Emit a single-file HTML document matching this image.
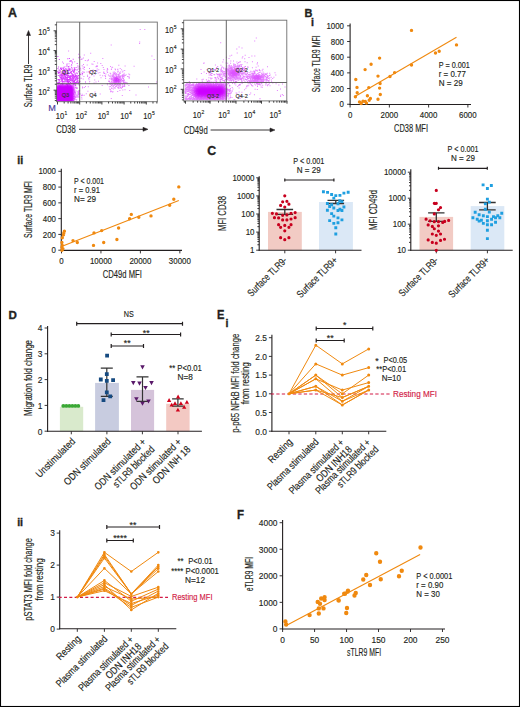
<!DOCTYPE html>
<html><head><meta charset="utf-8"><style>
html,body{margin:0;padding:0;background:#fff;}
svg{display:block;}
text{font-family:"Liberation Sans",sans-serif;}
</style></head><body>
<svg width="520" height="707" viewBox="0 0 520 707">
<rect x="0" y="0" width="520" height="707" fill="#fff"/>
<g fill="#231f20" font-family="Liberation Sans, sans-serif">
<text x="7.9" y="17.17" font-size="12.43" stroke="#231f20" stroke-width="0.35" font-weight="bold">A</text>
<text x="304.5" y="17.06" font-size="11.55" textLength="7.9" lengthAdjust="spacingAndGlyphs" stroke="#231f20" stroke-width="0.35" font-weight="bold">B</text>
<text x="310.9" y="26.1" font-size="10.56" stroke="#231f20" stroke-width="0.35" font-weight="bold">i</text>
<text x="17.3" y="163.8" font-size="10.56" stroke="#231f20" stroke-width="0.35" font-weight="bold">ii</text>
<text x="207.3" y="154.94" font-size="12.32" stroke="#231f20" stroke-width="0.35" font-weight="bold">C</text>
<text x="8.5" y="319.46" font-size="11.55" stroke="#231f20" stroke-width="0.35" font-weight="bold">D</text>
<text x="217" y="318.88" font-size="11.88" textLength="7.4" lengthAdjust="spacingAndGlyphs" stroke="#231f20" stroke-width="0.35" font-weight="bold">E</text>
<text x="225.6" y="327" font-size="10.56" stroke="#231f20" stroke-width="0.35" font-weight="bold">i</text>
<text x="17.2" y="526.2" font-size="10.56" stroke="#231f20" stroke-width="0.35" font-weight="bold">ii</text>
<text x="237.1" y="518.58" font-size="11.88" textLength="7" lengthAdjust="spacingAndGlyphs" stroke="#231f20" stroke-width="0.35" font-weight="bold">F</text>
<defs><filter id="bl2" x="-50%" y="-50%" width="200%" height="200%"><feGaussianBlur stdDeviation="2"/></filter><filter id="bl1" x="-50%" y="-50%" width="200%" height="200%"><feGaussianBlur stdDeviation="1.2"/></filter><clipPath id="cp1"><rect x="57" y="22.5" width="100" height="79"/></clipPath><clipPath id="cp2"><rect x="184.2" y="20.7" width="102.3" height="79.8"/></clipPath></defs>
<g clip-path="url(#cp1)">
<rect x="55" y="84.5" width="19" height="19" rx="4" fill="#cc00ff" filter="url(#bl1)"/>
<ellipse cx="116.8" cy="80" rx="3.2" ry="3" fill="#cc00ff" opacity="0.6" filter="url(#bl1)"/>
<path d="M68.0 91.4h1v1h-1zM70.1 84.7h1v1h-1zM66.1 87.6h1v1h-1zM61.8 100.6h1v1h-1zM64.8 97.5h1v1h-1zM61.1 90.8h1v1h-1zM68.4 88.2h1v1h-1zM77.4 82.6h1v1h-1zM64.6 90.8h1v1h-1zM63.7 92.8h1v1h-1zM71.4 92.5h1v1h-1zM70.5 92.5h1v1h-1zM68.7 86.8h1v1h-1zM61.5 92.6h1v1h-1zM67.8 92.8h1v1h-1zM72.9 100.1h1v1h-1zM64.8 92.2h1v1h-1zM59.0 92.6h1v1h-1zM66.4 88.9h1v1h-1zM59.1 92.7h1v1h-1zM69.9 87.3h1v1h-1zM69.1 96.3h1v1h-1zM66.7 92.4h1v1h-1zM64.2 92.0h1v1h-1zM67.7 89.0h1v1h-1zM68.8 87.8h1v1h-1zM57.3 91.7h1v1h-1zM64.7 90.0h1v1h-1zM61.2 94.3h1v1h-1zM62.3 93.0h1v1h-1zM75.4 85.5h1v1h-1zM62.3 93.4h1v1h-1zM67.8 85.6h1v1h-1zM74.2 89.6h1v1h-1zM63.9 91.4h1v1h-1zM67.2 81.6h1v1h-1zM68.8 93.5h1v1h-1zM68.4 93.8h1v1h-1zM59.4 92.1h1v1h-1zM68.5 90.7h1v1h-1zM77.5 90.9h1v1h-1zM57.2 87.6h1v1h-1zM74.0 91.5h1v1h-1zM68.8 90.0h1v1h-1zM63.5 93.5h1v1h-1zM82.0 86.4h1v1h-1zM73.3 94.3h1v1h-1zM59.6 93.8h1v1h-1zM68.5 92.2h1v1h-1zM72.0 90.6h1v1h-1zM66.7 96.0h1v1h-1zM72.8 83.8h1v1h-1zM67.5 95.5h1v1h-1zM72.7 94.3h1v1h-1zM78.1 94.6h1v1h-1zM63.3 95.1h1v1h-1zM69.4 89.4h1v1h-1zM64.8 91.6h1v1h-1zM68.9 96.5h1v1h-1zM59.7 95.4h1v1h-1zM63.9 94.1h1v1h-1zM66.6 84.7h1v1h-1zM74.3 96.0h1v1h-1zM76.0 99.4h1v1h-1zM58.7 98.6h1v1h-1zM62.4 94.3h1v1h-1zM72.5 84.4h1v1h-1zM64.8 92.2h1v1h-1zM67.3 79.1h1v1h-1zM76.8 95.1h1v1h-1zM72.8 84.8h1v1h-1zM65.7 85.9h1v1h-1zM65.4 89.5h1v1h-1zM66.2 100.0h1v1h-1zM78.7 91.0h1v1h-1zM65.0 94.5h1v1h-1zM67.2 92.4h1v1h-1zM66.6 91.7h1v1h-1zM60.2 86.1h1v1h-1zM67.9 89.2h1v1h-1zM64.9 95.3h1v1h-1zM76.2 95.2h1v1h-1zM72.6 93.6h1v1h-1zM67.8 98.5h1v1h-1zM72.7 88.8h1v1h-1zM65.6 92.7h1v1h-1zM75.4 97.0h1v1h-1zM68.0 96.2h1v1h-1zM72.1 98.9h1v1h-1zM59.0 95.2h1v1h-1zM70.4 91.3h1v1h-1zM65.9 84.0h1v1h-1zM61.7 96.2h1v1h-1zM69.1 92.7h1v1h-1zM83.7 94.7h1v1h-1zM62.2 83.7h1v1h-1zM63.6 91.0h1v1h-1zM69.4 89.7h1v1h-1zM71.5 88.2h1v1h-1zM66.8 80.6h1v1h-1zM66.6 91.2h1v1h-1zM72.9 97.9h1v1h-1zM71.6 95.1h1v1h-1zM60.8 89.7h1v1h-1zM67.4 92.9h1v1h-1zM68.2 97.2h1v1h-1zM60.6 77.8h1v1h-1zM69.8 92.3h1v1h-1zM62.0 96.0h1v1h-1zM74.8 96.8h1v1h-1zM68.6 99.2h1v1h-1zM63.9 94.7h1v1h-1zM67.2 94.7h1v1h-1zM60.1 90.0h1v1h-1zM70.5 92.8h1v1h-1zM73.3 92.7h1v1h-1zM62.1 94.1h1v1h-1zM73.5 100.4h1v1h-1zM68.9 92.8h1v1h-1zM76.7 87.7h1v1h-1zM78.1 92.0h1v1h-1zM67.5 91.9h1v1h-1zM66.1 97.3h1v1h-1zM66.9 98.7h1v1h-1zM61.2 84.7h1v1h-1zM75.7 88.0h1v1h-1zM64.2 94.9h1v1h-1zM67.6 89.4h1v1h-1zM62.4 84.6h1v1h-1zM63.6 98.7h1v1h-1zM59.1 95.7h1v1h-1zM76.8 95.7h1v1h-1zM66.9 90.4h1v1h-1zM74.8 98.7h1v1h-1zM68.1 91.7h1v1h-1zM63.1 99.0h1v1h-1zM65.7 88.0h1v1h-1zM64.1 88.3h1v1h-1zM68.1 94.1h1v1h-1zM65.4 89.1h1v1h-1zM65.9 96.7h1v1h-1zM58.3 94.4h1v1h-1zM62.4 87.9h1v1h-1zM79.6 93.4h1v1h-1zM63.3 91.1h1v1h-1zM60.6 98.0h1v1h-1zM70.4 89.5h1v1h-1zM77.9 90.6h1v1h-1zM57.8 99.7h1v1h-1zM73.1 94.2h1v1h-1zM68.5 92.3h1v1h-1zM62.7 87.6h1v1h-1zM71.2 93.6h1v1h-1zM64.2 95.5h1v1h-1zM67.0 88.4h1v1h-1zM60.2 83.9h1v1h-1zM59.5 85.1h1v1h-1zM77.3 96.7h1v1h-1zM64.5 88.8h1v1h-1zM70.0 92.2h1v1h-1zM67.8 94.2h1v1h-1zM64.9 96.4h1v1h-1zM64.4 91.2h1v1h-1zM72.4 95.7h1v1h-1zM65.9 88.1h1v1h-1zM66.9 91.0h1v1h-1zM68.2 87.4h1v1h-1zM76.2 99.2h1v1h-1zM72.8 92.9h1v1h-1zM70.7 88.9h1v1h-1zM64.1 91.1h1v1h-1zM58.3 91.8h1v1h-1zM74.6 96.9h1v1h-1zM74.8 84.2h1v1h-1zM67.0 87.3h1v1h-1zM71.8 90.9h1v1h-1zM73.8 98.3h1v1h-1zM74.4 92.4h1v1h-1zM64.8 96.9h1v1h-1zM59.3 91.7h1v1h-1zM74.0 91.0h1v1h-1zM71.5 99.7h1v1h-1zM74.1 95.7h1v1h-1zM81.2 96.7h1v1h-1zM78.4 90.2h1v1h-1zM73.7 96.1h1v1h-1zM60.9 96.8h1v1h-1zM67.9 81.9h1v1h-1zM73.9 96.5h1v1h-1zM69.8 96.8h1v1h-1zM68.3 91.1h1v1h-1zM66.3 83.7h1v1h-1zM68.3 95.0h1v1h-1zM62.0 88.9h1v1h-1zM57.4 91.2h1v1h-1zM66.8 89.7h1v1h-1zM61.2 91.1h1v1h-1zM71.5 99.7h1v1h-1zM67.6 94.4h1v1h-1zM70.8 99.1h1v1h-1zM63.4 93.1h1v1h-1zM61.0 83.1h1v1h-1zM61.8 88.1h1v1h-1zM69.4 86.4h1v1h-1zM62.5 90.2h1v1h-1zM70.5 93.4h1v1h-1zM70.4 82.0h1v1h-1zM82.2 94.9h1v1h-1zM58.3 84.7h1v1h-1zM74.2 94.6h1v1h-1zM67.4 92.4h1v1h-1zM67.9 91.3h1v1h-1zM57.9 92.6h1v1h-1zM64.8 90.0h1v1h-1zM73.2 89.6h1v1h-1zM67.4 83.7h1v1h-1zM68.6 92.8h1v1h-1zM67.8 100.3h1v1h-1zM63.2 89.3h1v1h-1zM64.3 92.6h1v1h-1zM77.3 91.4h1v1h-1zM68.3 93.5h1v1h-1zM59.8 90.6h1v1h-1zM61.4 92.5h1v1h-1zM75.9 87.0h1v1h-1zM69.1 90.9h1v1h-1zM67.6 92.6h1v1h-1zM68.3 91.7h1v1h-1zM73.6 95.9h1v1h-1zM71.9 96.9h1v1h-1zM69.5 86.9h1v1h-1zM60.7 91.9h1v1h-1zM71.6 98.1h1v1h-1zM63.2 94.5h1v1h-1zM75.7 93.7h1v1h-1zM67.0 89.3h1v1h-1zM67.9 93.5h1v1h-1zM58.7 90.1h1v1h-1zM78.2 82.3h1v1h-1zM64.8 89.3h1v1h-1zM73.4 90.1h1v1h-1zM70.7 96.6h1v1h-1zM69.8 100.7h1v1h-1zM67.6 84.3h1v1h-1zM68.6 97.1h1v1h-1zM60.5 91.4h1v1h-1zM66.1 89.3h1v1h-1zM66.8 96.0h1v1h-1zM76.3 87.9h1v1h-1zM70.3 81.6h1v1h-1zM68.0 91.0h1v1h-1zM78.7 84.8h1v1h-1zM64.1 89.4h1v1h-1zM65.3 95.0h1v1h-1zM74.8 91.9h1v1h-1zM74.4 84.6h1v1h-1zM72.7 88.8h1v1h-1zM68.8 87.9h1v1h-1zM69.5 86.3h1v1h-1zM66.2 95.4h1v1h-1zM66.6 89.5h1v1h-1zM68.4 82.1h1v1h-1zM78.6 96.8h1v1h-1zM71.9 92.4h1v1h-1zM67.6 95.0h1v1h-1zM63.9 93.6h1v1h-1zM63.6 96.5h1v1h-1zM79.2 93.2h1v1h-1zM71.5 99.8h1v1h-1zM68.5 95.3h1v1h-1zM65.6 95.2h1v1h-1zM60.2 95.3h1v1h-1zM67.5 85.0h1v1h-1zM74.1 92.1h1v1h-1zM65.3 91.6h1v1h-1zM66.4 94.1h1v1h-1zM66.5 85.5h1v1h-1zM66.4 86.3h1v1h-1zM62.0 83.6h1v1h-1zM74.2 91.5h1v1h-1zM62.6 92.5h1v1h-1zM72.0 89.0h1v1h-1zM78.7 93.5h1v1h-1zM65.8 89.5h1v1h-1zM63.8 96.0h1v1h-1zM69.3 89.0h1v1h-1zM68.0 92.8h1v1h-1zM61.0 98.4h1v1h-1zM82.1 87.5h1v1h-1zM66.2 90.4h1v1h-1zM66.6 88.4h1v1h-1zM60.7 97.3h1v1h-1zM70.2 86.7h1v1h-1zM59.3 90.3h1v1h-1zM60.3 92.8h1v1h-1zM77.0 87.6h1v1h-1zM61.7 87.7h1v1h-1zM75.6 90.4h1v1h-1zM78.7 81.4h1v1h-1zM69.8 85.0h1v1h-1zM71.9 90.7h1v1h-1zM81.7 93.8h1v1h-1zM66.6 92.0h1v1h-1zM63.8 83.2h1v1h-1zM58.5 90.4h1v1h-1zM68.3 97.4h1v1h-1zM78.4 96.1h1v1h-1zM74.7 92.6h1v1h-1zM61.4 88.1h1v1h-1zM62.0 96.5h1v1h-1zM64.5 89.8h1v1h-1zM70.0 86.6h1v1h-1zM66.6 88.6h1v1h-1zM70.1 94.2h1v1h-1zM65.9 99.4h1v1h-1zM67.7 90.4h1v1h-1zM69.4 98.2h1v1h-1zM67.4 89.7h1v1h-1zM71.5 92.1h1v1h-1zM72.1 97.2h1v1h-1zM68.4 90.2h1v1h-1zM70.7 94.8h1v1h-1zM58.1 90.3h1v1h-1zM74.0 83.4h1v1h-1zM72.9 91.5h1v1h-1zM67.0 93.1h1v1h-1zM65.4 100.2h1v1h-1zM63.2 94.7h1v1h-1zM72.5 97.5h1v1h-1zM83.8 86.9h1v1h-1zM69.5 97.8h1v1h-1zM59.8 97.3h1v1h-1zM67.6 94.4h1v1h-1zM66.8 93.8h1v1h-1zM68.8 87.9h1v1h-1zM59.9 92.4h1v1h-1zM75.8 95.5h1v1h-1zM75.4 97.1h1v1h-1zM75.6 90.6h1v1h-1zM64.7 94.7h1v1h-1zM71.6 91.5h1v1h-1zM67.1 93.7h1v1h-1zM65.3 92.3h1v1h-1zM65.6 86.7h1v1h-1zM58.9 92.9h1v1h-1zM57.9 97.8h1v1h-1zM73.6 87.7h1v1h-1zM66.7 91.7h1v1h-1zM69.5 96.7h1v1h-1zM75.0 87.1h1v1h-1zM62.5 87.2h1v1h-1zM69.2 99.2h1v1h-1zM75.2 91.8h1v1h-1zM69.5 97.1h1v1h-1zM59.5 93.7h1v1h-1zM61.5 93.6h1v1h-1zM71.2 85.7h1v1h-1zM77.4 92.7h1v1h-1zM77.4 94.0h1v1h-1zM65.3 89.3h1v1h-1zM65.9 94.5h1v1h-1zM60.1 97.0h1v1h-1zM85.8 93.2h1v1h-1zM66.8 95.7h1v1h-1zM79.1 90.1h1v1h-1zM63.5 81.3h1v1h-1zM69.1 98.0h1v1h-1zM65.3 93.8h1v1h-1zM74.9 93.4h1v1h-1zM59.2 98.7h1v1h-1zM75.5 90.5h1v1h-1zM70.4 89.1h1v1h-1zM60.7 92.0h1v1h-1zM64.5 99.5h1v1h-1zM64.8 85.4h1v1h-1zM67.7 99.6h1v1h-1zM64.2 89.5h1v1h-1zM62.2 86.9h1v1h-1zM65.9 99.9h1v1h-1zM60.8 92.5h1v1h-1zM59.0 85.8h1v1h-1zM67.7 91.0h1v1h-1zM74.2 98.1h1v1h-1zM57.3 99.6h1v1h-1zM68.0 90.7h1v1h-1zM63.5 95.2h1v1h-1zM61.2 96.9h1v1h-1zM74.0 89.5h1v1h-1zM64.4 95.0h1v1h-1zM78.5 92.8h1v1h-1zM62.5 90.1h1v1h-1zM70.7 90.3h1v1h-1zM66.4 93.4h1v1h-1zM62.7 93.2h1v1h-1zM72.1 89.9h1v1h-1zM66.9 90.7h1v1h-1zM72.2 99.1h1v1h-1zM67.7 94.2h1v1h-1zM60.4 97.9h1v1h-1zM67.3 99.6h1v1h-1zM68.4 96.2h1v1h-1zM61.7 88.5h1v1h-1zM67.7 97.4h1v1h-1zM67.6 87.7h1v1h-1zM75.7 96.7h1v1h-1zM57.3 97.3h1v1h-1zM60.4 97.1h1v1h-1zM62.8 92.6h1v1h-1zM60.1 95.5h1v1h-1zM70.7 96.6h1v1h-1zM62.3 92.6h1v1h-1zM62.9 98.7h1v1h-1zM72.1 80.6h1v1h-1zM62.7 96.5h1v1h-1zM71.0 87.3h1v1h-1zM61.2 98.3h1v1h-1zM59.5 91.7h1v1h-1zM81.0 95.1h1v1h-1zM65.8 88.0h1v1h-1zM69.7 88.0h1v1h-1zM67.8 84.4h1v1h-1zM69.1 92.9h1v1h-1zM68.3 95.7h1v1h-1zM81.4 98.6h1v1h-1zM60.7 92.2h1v1h-1zM60.9 93.1h1v1h-1zM58.7 92.5h1v1h-1zM73.2 96.2h1v1h-1zM73.7 98.8h1v1h-1zM61.3 91.1h1v1h-1zM58.3 91.7h1v1h-1zM65.5 92.1h1v1h-1zM77.7 93.5h1v1h-1zM71.7 98.7h1v1h-1zM60.5 90.8h1v1h-1zM75.3 95.5h1v1h-1zM60.5 88.5h1v1h-1zM96.7 68.5h1v1h-1zM97.1 62.4h1v1h-1zM86.5 71.6h1v1h-1zM118.3 64.8h1v1h-1zM96.8 70.6h1v1h-1zM115.1 80.3h1v1h-1zM104.5 74.9h1v1h-1zM83.4 76.0h1v1h-1zM87.0 74.8h1v1h-1zM97.7 72.5h1v1h-1zM92.8 71.0h1v1h-1zM92.6 69.5h1v1h-1zM88.3 78.1h1v1h-1zM68.5 63.3h1v1h-1zM89.1 82.7h1v1h-1zM63.2 72.3h1v1h-1zM96.8 66.0h1v1h-1zM82.6 68.1h1v1h-1zM82.7 66.6h1v1h-1zM89.1 73.3h1v1h-1zM95.5 66.3h1v1h-1zM73.4 81.1h1v1h-1zM69.3 65.7h1v1h-1zM78.1 53.8h1v1h-1zM65.5 66.2h1v1h-1zM79.4 55.9h1v1h-1zM112.7 71.7h1v1h-1zM78.3 80.5h1v1h-1zM100.5 77.2h1v1h-1zM74.2 61.3h1v1h-1zM95.9 65.9h1v1h-1zM87.8 86.2h1v1h-1zM91.2 74.5h1v1h-1zM99.4 72.0h1v1h-1zM114.8 80.4h1v1h-1zM94.5 91.6h1v1h-1zM93.6 82.4h1v1h-1zM79.3 73.1h1v1h-1zM99.6 74.8h1v1h-1zM88.8 76.9h1v1h-1zM102.8 67.1h1v1h-1zM91.4 63.5h1v1h-1zM114.6 72.4h1v1h-1zM66.2 64.4h1v1h-1zM88.1 71.5h1v1h-1zM103.5 72.8h1v1h-1zM87.4 90.7h1v1h-1zM81.7 65.2h1v1h-1zM88.5 71.0h1v1h-1zM74.1 70.7h1v1h-1zM93.5 75.5h1v1h-1zM123.7 80.4h1v1h-1zM106.9 68.1h1v1h-1zM77.6 65.4h1v1h-1zM80.6 58.9h1v1h-1zM86.7 64.6h1v1h-1zM105.1 76.3h1v1h-1zM81.3 72.4h1v1h-1zM83.0 63.9h1v1h-1zM103.5 69.0h1v1h-1zM103.2 72.3h1v1h-1zM87.1 76.0h1v1h-1zM77.5 67.3h1v1h-1zM71.9 70.0h1v1h-1zM82.9 57.5h1v1h-1zM63.0 62.8h1v1h-1zM101.7 84.9h1v1h-1zM83.8 54.5h1v1h-1zM98.3 69.3h1v1h-1zM116.3 73.8h1v1h-1zM107.2 69.0h1v1h-1zM77.0 65.5h1v1h-1zM103.3 71.5h1v1h-1zM107.1 72.0h1v1h-1zM82.3 71.3h1v1h-1zM79.6 57.0h1v1h-1zM90.6 70.8h1v1h-1zM71.2 65.2h1v1h-1zM111.1 67.6h1v1h-1zM60.7 73.8h1v1h-1zM77.6 77.1h1v1h-1zM88.5 79.2h1v1h-1zM89.0 68.0h1v1h-1zM94.2 79.4h1v1h-1zM95.5 81.4h1v1h-1zM89.2 81.1h1v1h-1zM106.8 83.1h1v1h-1zM64.2 70.8h1v1h-1zM92.0 70.6h1v1h-1zM82.7 78.6h1v1h-1zM93.7 61.1h1v1h-1zM94.9 73.7h1v1h-1zM80.1 67.8h1v1h-1zM83.7 69.0h1v1h-1zM102.3 58.1h1v1h-1zM96.5 64.9h1v1h-1zM83.2 71.8h1v1h-1zM118.5 79.1h1v1h-1zM122.0 79.9h1v1h-1zM73.0 71.4h1v1h-1zM95.9 70.5h1v1h-1zM124.6 65.4h1v1h-1zM102.2 75.2h1v1h-1zM94.9 70.0h1v1h-1zM89.3 76.8h1v1h-1zM85.0 86.0h1v1h-1zM89.2 71.7h1v1h-1zM84.8 60.0h1v1h-1zM101.7 65.1h1v1h-1zM86.8 60.3h1v1h-1zM111.1 79.3h1v1h-1zM122.4 80.7h1v1h-1zM117.5 82.3h1v1h-1zM109.7 72.7h1v1h-1zM119.4 90.1h1v1h-1zM122.2 85.9h1v1h-1zM114.9 83.7h1v1h-1zM113.5 78.2h1v1h-1zM115.0 79.5h1v1h-1zM117.8 82.8h1v1h-1zM119.4 82.1h1v1h-1zM121.8 71.4h1v1h-1zM122.0 83.8h1v1h-1zM121.8 94.9h1v1h-1zM122.6 70.5h1v1h-1zM119.5 85.1h1v1h-1zM109.6 81.9h1v1h-1zM115.9 79.4h1v1h-1zM117.9 87.0h1v1h-1zM114.8 73.9h1v1h-1zM120.6 80.8h1v1h-1zM114.9 87.5h1v1h-1zM112.3 79.0h1v1h-1zM123.0 77.9h1v1h-1zM119.5 80.6h1v1h-1zM117.5 77.7h1v1h-1zM120.7 87.9h1v1h-1zM121.3 75.3h1v1h-1zM118.0 84.5h1v1h-1zM105.4 73.6h1v1h-1zM113.5 83.4h1v1h-1zM114.4 79.5h1v1h-1zM112.1 66.7h1v1h-1zM117.4 80.0h1v1h-1zM121.9 74.5h1v1h-1zM114.3 77.7h1v1h-1zM111.4 87.9h1v1h-1zM125.6 74.3h1v1h-1zM114.5 74.6h1v1h-1zM111.0 87.4h1v1h-1zM117.6 80.6h1v1h-1zM118.4 87.9h1v1h-1zM113.3 81.7h1v1h-1zM120.1 75.5h1v1h-1zM114.3 79.7h1v1h-1zM112.3 86.3h1v1h-1zM117.3 84.8h1v1h-1zM120.0 80.0h1v1h-1zM113.6 80.3h1v1h-1zM118.0 79.4h1v1h-1zM116.1 77.0h1v1h-1zM129.2 89.9h1v1h-1zM113.3 80.0h1v1h-1zM122.7 74.2h1v1h-1zM116.3 77.5h1v1h-1zM115.9 83.7h1v1h-1zM119.7 83.3h1v1h-1zM120.5 79.3h1v1h-1zM122.2 76.6h1v1h-1zM118.0 80.1h1v1h-1zM113.8 71.4h1v1h-1zM114.1 73.3h1v1h-1zM118.8 84.1h1v1h-1zM119.1 77.5h1v1h-1zM122.8 81.9h1v1h-1zM118.4 86.3h1v1h-1zM121.3 83.3h1v1h-1zM123.3 80.1h1v1h-1zM117.2 90.9h1v1h-1zM109.8 83.4h1v1h-1zM111.2 78.2h1v1h-1zM110.0 83.8h1v1h-1zM123.7 82.1h1v1h-1zM112.7 75.6h1v1h-1zM122.0 80.4h1v1h-1zM119.1 79.2h1v1h-1zM124.2 69.9h1v1h-1zM121.0 79.1h1v1h-1zM116.0 78.5h1v1h-1zM115.6 77.7h1v1h-1zM116.9 71.5h1v1h-1zM117.3 78.2h1v1h-1zM114.1 79.8h1v1h-1zM116.4 80.5h1v1h-1zM123.7 74.2h1v1h-1zM108.8 83.3h1v1h-1zM117.7 73.8h1v1h-1zM112.4 78.8h1v1h-1zM117.3 86.7h1v1h-1zM120.3 76.4h1v1h-1zM116.2 77.4h1v1h-1zM120.0 85.5h1v1h-1zM109.3 78.0h1v1h-1zM121.5 78.5h1v1h-1zM113.8 81.1h1v1h-1zM119.3 85.4h1v1h-1zM117.3 68.7h1v1h-1zM104.9 75.7h1v1h-1zM113.1 74.8h1v1h-1zM117.5 74.4h1v1h-1zM123.5 75.6h1v1h-1zM117.8 75.7h1v1h-1zM117.7 81.5h1v1h-1zM110.1 75.4h1v1h-1zM122.9 80.6h1v1h-1zM124.6 82.1h1v1h-1zM116.6 76.3h1v1h-1zM115.5 80.7h1v1h-1zM109.2 88.4h1v1h-1zM120.5 81.7h1v1h-1zM128.7 76.7h1v1h-1zM119.7 79.7h1v1h-1zM122.2 75.3h1v1h-1zM118.9 81.4h1v1h-1zM112.1 84.4h1v1h-1zM122.5 75.8h1v1h-1zM110.9 78.9h1v1h-1zM115.6 85.7h1v1h-1zM117.8 77.5h1v1h-1zM120.5 81.0h1v1h-1zM118.4 74.8h1v1h-1zM118.2 75.8h1v1h-1zM113.1 77.4h1v1h-1zM110.7 90.9h1v1h-1zM116.8 78.0h1v1h-1zM113.3 77.4h1v1h-1zM110.6 77.2h1v1h-1zM110.8 79.2h1v1h-1zM114.3 83.3h1v1h-1zM108.2 80.9h1v1h-1zM110.4 90.3h1v1h-1zM109.1 81.1h1v1h-1zM117.3 87.2h1v1h-1zM118.3 81.4h1v1h-1zM125.5 83.0h1v1h-1zM109.8 72.8h1v1h-1zM113.4 79.4h1v1h-1zM120.6 79.7h1v1h-1zM115.5 78.8h1v1h-1zM115.0 69.2h1v1h-1zM124.2 84.4h1v1h-1zM115.0 78.1h1v1h-1zM111.3 77.8h1v1h-1zM110.6 78.7h1v1h-1zM118.0 78.9h1v1h-1zM117.9 82.0h1v1h-1zM110.3 73.6h1v1h-1zM112.1 75.3h1v1h-1zM118.9 81.5h1v1h-1zM119.1 80.7h1v1h-1zM113.6 78.1h1v1h-1zM119.3 77.1h1v1h-1zM119.1 75.8h1v1h-1zM108.5 79.7h1v1h-1zM115.1 85.9h1v1h-1zM118.4 74.7h1v1h-1zM113.9 87.6h1v1h-1zM106.9 84.2h1v1h-1zM115.2 77.7h1v1h-1zM119.9 83.9h1v1h-1zM123.6 72.7h1v1h-1zM106.6 71.3h1v1h-1zM128.3 73.6h1v1h-1zM111.4 78.0h1v1h-1zM120.8 78.4h1v1h-1zM122.1 77.4h1v1h-1zM120.9 80.5h1v1h-1zM117.2 69.3h1v1h-1zM111.3 82.5h1v1h-1zM119.3 72.9h1v1h-1zM113.3 76.7h1v1h-1zM105.1 77.9h1v1h-1zM129.2 74.2h1v1h-1zM119.7 73.1h1v1h-1zM124.7 75.0h1v1h-1zM112.4 79.9h1v1h-1zM123.1 82.9h1v1h-1zM123.7 82.8h1v1h-1zM123.5 75.0h1v1h-1zM116.4 76.0h1v1h-1zM111.1 75.4h1v1h-1zM115.7 82.2h1v1h-1zM106.6 69.8h1v1h-1zM108.8 86.2h1v1h-1zM116.9 77.6h1v1h-1zM112.0 76.1h1v1h-1zM115.8 81.7h1v1h-1zM116.0 85.2h1v1h-1zM125.2 81.7h1v1h-1zM122.3 85.3h1v1h-1zM116.3 80.7h1v1h-1zM121.9 86.1h1v1h-1zM113.0 86.2h1v1h-1zM115.0 79.5h1v1h-1zM120.6 87.2h1v1h-1zM110.9 80.8h1v1h-1zM115.2 80.4h1v1h-1zM110.6 75.4h1v1h-1zM117.0 78.6h1v1h-1zM123.8 83.9h1v1h-1zM113.1 73.4h1v1h-1zM117.5 83.2h1v1h-1zM112.5 81.7h1v1h-1zM111.3 81.4h1v1h-1zM110.9 69.0h1v1h-1zM123.0 79.5h1v1h-1zM127.1 83.2h1v1h-1zM118.7 76.2h1v1h-1zM113.3 80.5h1v1h-1zM119.7 68.1h1v1h-1zM115.0 83.4h1v1h-1zM120.1 76.7h1v1h-1zM117.8 84.4h1v1h-1zM117.8 70.8h1v1h-1zM119.2 83.5h1v1h-1zM113.9 78.8h1v1h-1zM114.7 84.0h1v1h-1zM108.8 75.4h1v1h-1zM114.5 76.9h1v1h-1zM110.1 91.2h1v1h-1zM115.8 75.9h1v1h-1zM112.2 76.5h1v1h-1zM117.0 78.6h1v1h-1zM118.5 74.9h1v1h-1zM110.1 86.0h1v1h-1zM112.8 88.6h1v1h-1zM112.3 76.5h1v1h-1zM119.9 71.4h1v1h-1zM124.2 85.9h1v1h-1zM120.3 85.5h1v1h-1zM114.9 84.1h1v1h-1zM123.1 85.8h1v1h-1zM109.7 75.7h1v1h-1zM123.2 79.2h1v1h-1zM113.5 73.1h1v1h-1zM104.0 72.9h1v1h-1zM128.4 84.9h1v1h-1zM123.6 76.6h1v1h-1zM111.9 91.4h1v1h-1zM117.3 80.4h1v1h-1zM115.5 76.8h1v1h-1zM117.0 84.0h1v1h-1zM109.8 89.0h1v1h-1zM113.4 82.4h1v1h-1zM118.6 73.9h1v1h-1zM117.5 81.9h1v1h-1zM121.9 86.9h1v1h-1zM116.9 77.5h1v1h-1zM127.1 76.1h1v1h-1zM113.3 85.1h1v1h-1zM117.7 80.7h1v1h-1zM107.9 74.5h1v1h-1zM110.9 78.1h1v1h-1zM122.5 76.2h1v1h-1zM112.3 81.5h1v1h-1zM118.9 80.5h1v1h-1zM116.2 85.8h1v1h-1zM111.8 83.5h1v1h-1zM114.9 72.2h1v1h-1zM114.2 82.0h1v1h-1zM114.3 84.5h1v1h-1zM119.9 82.3h1v1h-1zM119.4 85.2h1v1h-1zM113.9 77.3h1v1h-1zM112.4 75.2h1v1h-1zM117.8 84.7h1v1h-1zM116.0 74.7h1v1h-1zM121.1 69.2h1v1h-1zM128.4 85.1h1v1h-1zM120.3 76.4h1v1h-1zM116.3 78.5h1v1h-1zM115.7 73.0h1v1h-1zM112.6 73.4h1v1h-1zM112.4 74.2h1v1h-1zM112.0 78.2h1v1h-1zM114.7 81.8h1v1h-1zM114.6 68.5h1v1h-1zM119.8 83.8h1v1h-1zM114.7 74.1h1v1h-1zM115.6 74.7h1v1h-1zM111.0 83.4h1v1h-1zM123.9 79.6h1v1h-1zM118.8 72.3h1v1h-1zM124.5 89.2h1v1h-1zM120.1 75.7h1v1h-1zM123.2 81.2h1v1h-1zM115.4 81.0h1v1h-1zM119.7 87.1h1v1h-1zM128.7 77.7h1v1h-1zM111.0 85.0h1v1h-1zM121.8 76.3h1v1h-1zM124.1 85.6h1v1h-1zM118.4 76.2h1v1h-1zM119.9 78.2h1v1h-1zM122.3 89.5h1v1h-1zM113.5 81.6h1v1h-1zM118.4 80.5h1v1h-1zM112.5 91.2h1v1h-1zM113.4 81.8h1v1h-1zM113.7 75.9h1v1h-1zM110.7 44.5h1v1h-1zM68.1 50.5h1v1h-1zM156.1 81.5h1v1h-1zM153.7 59.1h1v1h-1zM60.7 69.1h1v1h-1zM151.4 55.4h1v1h-1zM110.1 66.0h1v1h-1zM69.6 92.9h1v1h-1zM139.1 43.1h1v1h-1zM100.3 63.0h1v1h-1zM128.3 76.3h1v1h-1zM139.7 28.9h1v1h-1zM110.8 98.0h1v1h-1zM62.0 61.4h1v1h-1zM139.2 41.4h1v1h-1zM126.4 82.1h1v1h-1zM148.0 86.4h1v1h-1zM84.0 71.8h1v1h-1zM135.5 94.4h1v1h-1zM144.3 29.0h1v1h-1zM92.5 63.7h1v1h-1zM98.0 80.7h1v1h-1zM90.4 94.4h1v1h-1zM57.6 72.7h1v1h-1zM80.2 69.6h1v1h-1zM90.2 52.7h1v1h-1zM67.8 67.2h1v1h-1zM133.6 65.8h1v1h-1zM99.7 93.5h1v1h-1zM113.8 87.3h1v1h-1z" fill="#cc00ff" fill-opacity="0.5"/>
<path d="M72.8 83.3h1v1h-1zM76.9 72.7h1v1h-1zM58.4 79.0h1v1h-1zM73.5 80.6h1v1h-1zM67.0 77.7h1v1h-1zM73.2 71.8h1v1h-1zM63.4 77.3h1v1h-1zM67.0 81.5h1v1h-1zM74.7 68.8h1v1h-1zM57.8 74.9h1v1h-1zM63.3 67.4h1v1h-1zM67.5 80.9h1v1h-1zM75.3 79.8h1v1h-1zM62.8 67.8h1v1h-1zM74.7 79.3h1v1h-1zM62.3 78.4h1v1h-1zM63.5 69.1h1v1h-1zM68.9 75.7h1v1h-1zM71.1 78.4h1v1h-1zM75.9 72.5h1v1h-1zM75.9 75.3h1v1h-1zM62.4 83.1h1v1h-1zM73.0 77.5h1v1h-1zM70.7 75.3h1v1h-1zM65.3 68.1h1v1h-1zM73.7 69.0h1v1h-1zM76.3 81.0h1v1h-1zM67.3 79.3h1v1h-1zM76.7 80.8h1v1h-1zM59.7 76.5h1v1h-1zM60.6 76.5h1v1h-1zM73.4 75.8h1v1h-1zM63.6 79.1h1v1h-1zM69.6 72.4h1v1h-1zM67.7 75.2h1v1h-1zM60.1 74.8h1v1h-1zM73.2 77.9h1v1h-1zM72.9 70.6h1v1h-1zM60.1 67.4h1v1h-1zM62.6 68.5h1v1h-1zM74.2 70.0h1v1h-1zM76.6 81.1h1v1h-1zM75.7 78.8h1v1h-1zM67.8 79.4h1v1h-1zM64.9 74.3h1v1h-1zM66.6 68.7h1v1h-1zM60.8 74.7h1v1h-1zM67.7 81.2h1v1h-1zM62.0 75.4h1v1h-1zM60.5 77.4h1v1h-1zM65.2 73.2h1v1h-1zM58.4 69.5h1v1h-1zM67.1 77.3h1v1h-1zM72.0 75.0h1v1h-1zM71.0 72.7h1v1h-1zM78.0 71.3h1v1h-1zM76.0 78.5h1v1h-1zM70.6 72.2h1v1h-1zM76.3 76.5h1v1h-1zM66.6 71.3h1v1h-1zM74.2 79.4h1v1h-1zM63.1 73.2h1v1h-1zM68.3 74.9h1v1h-1zM78.1 82.3h1v1h-1zM69.9 78.9h1v1h-1zM67.9 79.1h1v1h-1zM73.9 72.6h1v1h-1zM63.7 80.9h1v1h-1zM74.9 73.4h1v1h-1zM57.4 83.3h1v1h-1zM62.1 81.8h1v1h-1zM60.8 77.9h1v1h-1zM62.5 80.7h1v1h-1zM77.3 76.0h1v1h-1zM57.5 79.1h1v1h-1zM63.4 69.1h1v1h-1zM69.3 83.3h1v1h-1zM72.1 80.2h1v1h-1zM73.6 69.4h1v1h-1zM65.2 71.0h1v1h-1zM61.7 76.5h1v1h-1zM75.3 79.6h1v1h-1zM59.6 69.5h1v1h-1zM58.4 82.9h1v1h-1zM62.0 72.7h1v1h-1zM67.6 83.4h1v1h-1zM77.3 79.4h1v1h-1zM72.7 75.0h1v1h-1zM69.1 73.0h1v1h-1zM68.2 68.6h1v1h-1zM71.9 68.5h1v1h-1zM70.5 77.4h1v1h-1zM64.2 79.8h1v1h-1zM59.0 82.0h1v1h-1zM61.3 73.0h1v1h-1zM73.8 82.5h1v1h-1zM70.6 71.9h1v1h-1zM74.1 82.5h1v1h-1zM58.0 82.2h1v1h-1zM76.4 69.6h1v1h-1zM65.2 81.2h1v1h-1zM76.9 78.6h1v1h-1zM69.8 78.6h1v1h-1zM68.8 80.9h1v1h-1zM74.6 75.9h1v1h-1zM70.4 75.4h1v1h-1zM71.5 73.1h1v1h-1zM60.4 81.3h1v1h-1zM70.0 81.9h1v1h-1zM64.7 69.6h1v1h-1zM58.6 79.7h1v1h-1zM59.9 71.5h1v1h-1zM67.3 70.0h1v1h-1zM62.6 70.3h1v1h-1zM73.5 76.5h1v1h-1zM59.6 71.6h1v1h-1zM57.3 71.0h1v1h-1zM78.4 68.6h1v1h-1zM63.7 72.4h1v1h-1zM68.0 79.8h1v1h-1zM61.5 67.4h1v1h-1zM61.5 75.0h1v1h-1zM65.6 76.9h1v1h-1zM74.0 67.8h1v1h-1zM57.8 71.9h1v1h-1zM75.0 82.0h1v1h-1zM78.3 83.4h1v1h-1zM69.0 81.0h1v1h-1zM64.7 69.8h1v1h-1zM62.0 79.6h1v1h-1zM60.9 74.4h1v1h-1zM64.0 69.8h1v1h-1zM75.3 74.9h1v1h-1zM57.1 82.2h1v1h-1zM73.9 81.5h1v1h-1zM71.3 73.5h1v1h-1zM57.4 68.0h1v1h-1zM58.5 81.9h1v1h-1zM72.8 83.3h1v1h-1zM71.5 75.4h1v1h-1zM63.7 70.7h1v1h-1zM75.5 76.0h1v1h-1zM61.5 78.5h1v1h-1zM66.2 75.0h1v1h-1zM59.5 72.8h1v1h-1zM70.9 71.1h1v1h-1zM58.9 71.9h1v1h-1zM60.9 67.8h1v1h-1zM73.5 71.2h1v1h-1zM67.8 82.7h1v1h-1zM71.2 67.1h1v1h-1zM72.8 79.0h1v1h-1zM70.0 80.0h1v1h-1zM61.3 73.7h1v1h-1zM72.0 76.8h1v1h-1zM59.5 70.6h1v1h-1zM62.8 78.0h1v1h-1zM66.6 78.7h1v1h-1zM59.5 79.1h1v1h-1zM59.3 75.1h1v1h-1zM71.0 83.0h1v1h-1zM73.0 81.3h1v1h-1zM65.0 76.4h1v1h-1zM65.4 78.3h1v1h-1zM61.5 71.5h1v1h-1zM68.2 82.6h1v1h-1zM69.5 77.6h1v1h-1zM77.1 81.8h1v1h-1zM57.9 71.8h1v1h-1zM76.5 83.2h1v1h-1zM70.3 78.3h1v1h-1zM70.0 76.0h1v1h-1zM64.5 74.1h1v1h-1zM68.9 79.1h1v1h-1zM73.3 86.4h1v1h-1zM68.9 75.9h1v1h-1zM70.5 78.3h1v1h-1zM72.2 78.4h1v1h-1zM76.9 77.5h1v1h-1zM81.7 74.3h1v1h-1zM73.9 82.3h1v1h-1zM74.1 76.0h1v1h-1zM59.6 74.0h1v1h-1zM67.3 76.2h1v1h-1zM63.1 77.6h1v1h-1zM64.5 74.9h1v1h-1zM73.8 76.8h1v1h-1zM63.2 71.9h1v1h-1zM67.2 76.1h1v1h-1zM67.0 84.5h1v1h-1zM68.5 79.7h1v1h-1zM63.8 78.0h1v1h-1zM63.7 81.5h1v1h-1zM79.3 80.9h1v1h-1zM60.7 83.3h1v1h-1zM61.7 81.1h1v1h-1zM63.1 76.6h1v1h-1zM75.2 78.0h1v1h-1zM80.6 77.7h1v1h-1zM70.0 78.1h1v1h-1zM63.7 77.8h1v1h-1zM65.4 74.0h1v1h-1zM74.4 69.0h1v1h-1zM62.5 74.4h1v1h-1zM76.7 69.3h1v1h-1zM76.5 77.3h1v1h-1zM68.4 77.0h1v1h-1zM71.9 70.6h1v1h-1zM72.5 79.6h1v1h-1zM77.3 80.3h1v1h-1zM61.7 77.4h1v1h-1zM75.1 83.3h1v1h-1zM65.7 84.1h1v1h-1zM63.4 72.4h1v1h-1zM68.6 80.9h1v1h-1zM66.7 78.7h1v1h-1zM62.1 78.6h1v1h-1zM58.4 80.6h1v1h-1zM62.3 74.3h1v1h-1zM76.7 74.7h1v1h-1zM79.8 73.9h1v1h-1zM71.9 74.1h1v1h-1zM75.1 76.6h1v1h-1zM64.9 71.5h1v1h-1zM67.5 73.0h1v1h-1zM69.7 79.2h1v1h-1zM61.5 76.7h1v1h-1zM62.1 78.5h1v1h-1zM68.6 69.8h1v1h-1zM66.1 74.0h1v1h-1zM61.6 74.9h1v1h-1zM70.3 77.1h1v1h-1zM66.4 74.8h1v1h-1zM74.1 80.5h1v1h-1zM68.0 76.8h1v1h-1zM66.2 77.1h1v1h-1zM68.8 77.1h1v1h-1zM67.0 79.7h1v1h-1zM64.0 75.2h1v1h-1zM65.6 81.3h1v1h-1zM72.5 78.7h1v1h-1zM71.9 77.6h1v1h-1zM75.7 77.2h1v1h-1zM57.8 79.0h1v1h-1zM65.6 80.9h1v1h-1zM65.5 80.6h1v1h-1zM69.0 78.4h1v1h-1zM65.3 80.3h1v1h-1zM64.9 77.4h1v1h-1zM72.7 81.8h1v1h-1zM69.1 76.9h1v1h-1zM61.0 69.1h1v1h-1zM76.0 82.1h1v1h-1zM74.0 77.4h1v1h-1zM64.6 72.5h1v1h-1zM73.0 76.2h1v1h-1zM63.6 73.6h1v1h-1zM74.8 85.0h1v1h-1zM66.7 78.9h1v1h-1zM63.2 71.0h1v1h-1zM65.8 79.1h1v1h-1zM63.4 75.5h1v1h-1zM69.2 84.3h1v1h-1zM69.1 73.0h1v1h-1zM68.2 68.5h1v1h-1zM64.7 77.3h1v1h-1zM68.6 75.4h1v1h-1zM69.5 78.6h1v1h-1zM74.8 83.4h1v1h-1zM69.6 69.7h1v1h-1zM65.7 81.5h1v1h-1zM66.9 74.8h1v1h-1zM67.2 85.9h1v1h-1zM64.7 78.7h1v1h-1zM64.5 76.3h1v1h-1zM62.5 81.2h1v1h-1zM75.1 79.0h1v1h-1zM67.9 74.7h1v1h-1zM73.7 79.7h1v1h-1zM66.5 75.1h1v1h-1zM68.4 70.2h1v1h-1zM67.0 84.7h1v1h-1zM70.8 75.7h1v1h-1zM73.0 74.7h1v1h-1zM69.4 78.3h1v1h-1zM64.0 71.1h1v1h-1zM63.3 71.9h1v1h-1zM78.0 75.1h1v1h-1zM66.3 75.0h1v1h-1zM66.3 77.3h1v1h-1zM76.8 81.3h1v1h-1zM74.5 75.2h1v1h-1zM71.2 78.9h1v1h-1zM65.6 79.3h1v1h-1zM82.1 72.9h1v1h-1zM70.4 77.9h1v1h-1zM71.3 73.4h1v1h-1zM67.0 81.0h1v1h-1zM59.5 78.7h1v1h-1zM60.0 77.1h1v1h-1zM70.4 71.9h1v1h-1zM70.4 77.4h1v1h-1zM66.6 74.1h1v1h-1zM61.0 79.7h1v1h-1zM59.4 76.5h1v1h-1zM66.0 73.9h1v1h-1zM59.3 80.5h1v1h-1zM73.4 79.7h1v1h-1zM74.9 74.7h1v1h-1zM85.0 81.4h1v1h-1zM73.3 75.9h1v1h-1zM64.4 75.8h1v1h-1zM62.8 77.5h1v1h-1zM64.4 75.3h1v1h-1zM66.9 76.4h1v1h-1zM73.8 82.8h1v1h-1zM71.7 82.7h1v1h-1zM71.5 76.0h1v1h-1zM69.3 83.1h1v1h-1zM72.0 76.8h1v1h-1zM76.7 78.4h1v1h-1zM61.6 80.4h1v1h-1zM65.3 78.1h1v1h-1zM59.7 86.2h1v1h-1zM77.7 77.9h1v1h-1zM75.8 72.4h1v1h-1zM72.5 82.0h1v1h-1zM60.8 75.4h1v1h-1zM69.0 75.8h1v1h-1zM66.6 65.6h1v1h-1zM68.5 80.8h1v1h-1zM66.9 80.1h1v1h-1zM71.1 80.0h1v1h-1zM65.6 80.7h1v1h-1zM73.1 83.4h1v1h-1zM69.4 76.8h1v1h-1zM66.2 80.6h1v1h-1zM67.3 74.2h1v1h-1zM65.4 75.7h1v1h-1zM72.9 81.0h1v1h-1zM66.4 78.5h1v1h-1zM69.8 71.9h1v1h-1zM65.6 78.4h1v1h-1zM59.1 76.3h1v1h-1zM73.4 73.9h1v1h-1zM61.7 78.7h1v1h-1zM72.1 75.5h1v1h-1zM70.5 71.0h1v1h-1zM58.1 72.8h1v1h-1zM62.3 83.7h1v1h-1zM64.9 71.2h1v1h-1zM63.1 77.8h1v1h-1zM60.9 79.3h1v1h-1zM72.4 79.4h1v1h-1zM66.6 72.3h1v1h-1zM70.3 75.8h1v1h-1zM65.4 77.5h1v1h-1zM69.8 80.0h1v1h-1zM63.5 74.5h1v1h-1zM67.8 72.6h1v1h-1zM71.5 80.8h1v1h-1zM68.3 81.2h1v1h-1zM65.3 78.4h1v1h-1zM61.5 74.7h1v1h-1zM70.3 60.6h1v1h-1zM67.9 71.7h1v1h-1zM73.7 67.3h1v1h-1zM67.9 65.9h1v1h-1zM65.7 69.2h1v1h-1zM58.1 66.5h1v1h-1zM68.7 67.7h1v1h-1zM67.3 58.2h1v1h-1zM63.7 66.6h1v1h-1zM70.2 74.9h1v1h-1zM66.6 63.4h1v1h-1zM70.5 68.5h1v1h-1zM69.3 68.8h1v1h-1zM75.6 67.1h1v1h-1zM57.4 55.9h1v1h-1zM68.9 58.1h1v1h-1zM70.6 59.9h1v1h-1zM84.0 66.7h1v1h-1zM71.9 62.5h1v1h-1zM60.0 68.0h1v1h-1zM73.4 79.7h1v1h-1zM60.2 67.9h1v1h-1zM87.9 59.5h1v1h-1zM69.6 60.8h1v1h-1zM72.7 58.7h1v1h-1zM71.5 61.3h1v1h-1zM81.5 58.5h1v1h-1zM69.3 60.7h1v1h-1zM76.7 63.0h1v1h-1zM58.8 59.0h1v1h-1zM78.4 57.2h1v1h-1zM78.8 66.3h1v1h-1zM71.1 64.3h1v1h-1zM68.8 69.1h1v1h-1zM68.3 69.2h1v1h-1z" fill="#cc00ff" fill-opacity="0.75"/>
</g>
<rect x="56.6" y="22.1" width="100.7" height="79.6" fill="none" stroke="#6d6d6d" stroke-width="0.9"/>
<line x1="79.7" y1="22.1" x2="79.7" y2="101.7" stroke="#555" stroke-width="0.9"/>
<line x1="56.6" y1="83.7" x2="157.3" y2="83.7" stroke="#555" stroke-width="0.9"/>
<path d="M53.6 30.8h3M53.6 50.6h3M53.6 70.5h3M53.6 90.2h3M54.8 24.84h1.8M54.8 44.64h1.8M54.8 41.15h1.8M54.8 38.68h1.8M54.8 36.76h1.8M54.8 35.19h1.8M54.8 33.87h1.8M54.8 32.72h1.8M54.8 31.71h1.8M54.8 64.44h1.8M54.8 60.95h1.8M54.8 58.48h1.8M54.8 56.56h1.8M54.8 54.99h1.8M54.8 53.67h1.8M54.8 52.52h1.8M54.8 51.51h1.8M54.8 84.24h1.8M54.8 80.75h1.8M54.8 78.28h1.8M54.8 76.36h1.8M54.8 74.79h1.8M54.8 73.47h1.8M54.8 72.32h1.8M54.8 71.31h1.8M54.8 100.55h1.8M54.8 98.08h1.8M54.8 96.16h1.8M54.8 94.59h1.8M54.8 93.27h1.8M54.8 92.12h1.8M54.8 91.11h1.8M57.5 101.7v2.8M79.7 101.7v2.8M101.9 101.7v2.8M124.1 101.7v2.8M146.3 101.7v2.8M64.18 101.7v1.8M68.09 101.7v1.8M70.87 101.7v1.8M73.02 101.7v1.8M74.77 101.7v1.8M76.26 101.7v1.8M77.55 101.7v1.8M78.68 101.7v1.8M86.38 101.7v1.8M90.29 101.7v1.8M93.07 101.7v1.8M95.22 101.7v1.8M96.97 101.7v1.8M98.46 101.7v1.8M99.75 101.7v1.8M100.88 101.7v1.8M108.58 101.7v1.8M112.49 101.7v1.8M115.27 101.7v1.8M117.42 101.7v1.8M119.17 101.7v1.8M120.66 101.7v1.8M121.95 101.7v1.8M123.08 101.7v1.8M130.78 101.7v1.8M134.69 101.7v1.8M137.47 101.7v1.8M139.62 101.7v1.8M141.37 101.7v1.8M142.86 101.7v1.8M144.15 101.7v1.8M145.28 101.7v1.8M152.98 101.7v1.8M156.89 101.7v1.8" stroke="#2a2a2a" stroke-width="0.9" fill="none"/>
<text transform="translate(44 31.3) scale(0.82 1)" y="3.31" font-size="9.2" text-anchor="middle" stroke="#231f20" stroke-width="0.15">10<tspan dx="0.4" font-size="6.07" dy="-3.86">5</tspan></text>
<text transform="translate(44 51.4) scale(0.82 1)" y="3.31" font-size="9.2" text-anchor="middle" stroke="#231f20" stroke-width="0.15">10<tspan dx="0.4" font-size="6.07" dy="-3.86">4</tspan></text>
<text transform="translate(44 71.4) scale(0.82 1)" y="3.31" font-size="9.2" text-anchor="middle" stroke="#231f20" stroke-width="0.15">10<tspan dx="0.4" font-size="6.07" dy="-3.86">3</tspan></text>
<text transform="translate(44 91.6) scale(0.82 1)" y="3.31" font-size="9.2" text-anchor="middle" stroke="#231f20" stroke-width="0.15">10<tspan dx="0.4" font-size="6.07" dy="-3.86">2</tspan></text>
<text transform="translate(61.6 115.4) scale(0.82 1)" y="3.31" font-size="9.2" text-anchor="middle" stroke="#231f20" stroke-width="0.15">10<tspan dx="0.4" font-size="6.07" dy="-3.86">1</tspan></text>
<text transform="translate(81.3 115.4) scale(0.82 1)" y="3.31" font-size="9.2" text-anchor="middle" stroke="#231f20" stroke-width="0.15">10<tspan dx="0.4" font-size="6.07" dy="-3.86">2</tspan></text>
<text transform="translate(103.4 115.4) scale(0.82 1)" y="3.31" font-size="9.2" text-anchor="middle" stroke="#231f20" stroke-width="0.15">10<tspan dx="0.4" font-size="6.07" dy="-3.86">3</tspan></text>
<text transform="translate(126.1 115.4) scale(0.82 1)" y="3.31" font-size="9.2" text-anchor="middle" stroke="#231f20" stroke-width="0.15">10<tspan dx="0.4" font-size="6.07" dy="-3.86">4</tspan></text>
<text transform="translate(149 115.4) scale(0.82 1)" y="3.31" font-size="9.2" text-anchor="middle" stroke="#231f20" stroke-width="0.15">10<tspan dx="0.4" font-size="6.07" dy="-3.86">5</tspan></text>
<text x="65.3" y="73.88" font-size="5.5" text-anchor="middle" fill="#333" stroke="#333" stroke-width="0.15">Q1</text>
<text x="93" y="74.48" font-size="5.5" text-anchor="middle" fill="#333" stroke="#333" stroke-width="0.15">Q2</text>
<text x="65.3" y="96.98" font-size="5.5" text-anchor="middle" fill="#333" stroke="#333" stroke-width="0.15">Q3</text>
<text x="93" y="96.98" font-size="5.5" text-anchor="middle" fill="#333" stroke="#333" stroke-width="0.15">Q4</text>
<text x="52.1" y="111.09" font-size="9.13" text-anchor="middle" fill="#48399a" stroke="#48399a" stroke-width="0.15">M</text>
<text x="28.3" y="90.08" font-size="11.33" text-anchor="middle" textLength="42.5" lengthAdjust="spacingAndGlyphs" stroke="#231f20" stroke-width="0.15" transform="rotate(-90 28.3 86)">Surface TLR9</text>
<line x1="28.5" y1="64" x2="28.5" y2="34" stroke="#231f20" stroke-width="0.9"/>
<path d="M26.5 35.5 L28.5 30.5 L30.5 35.5 Z" stroke="#231f20" stroke-width="0.5" fill="#231f20"/>
<text x="56.2" y="133.38" font-size="11.33" textLength="19.5" lengthAdjust="spacingAndGlyphs" stroke="#231f20" stroke-width="0.15">CD38</text>
<line x1="79" y1="129.3" x2="144" y2="129.3" stroke="#231f20" stroke-width="0.9"/>
<path d="M143 127.3 L148 129.3 L143 131.3 Z" stroke="#231f20" stroke-width="0.5" fill="#231f20"/>
<g clip-path="url(#cp2)">
<rect x="194" y="85.5" width="32" height="12" rx="5" fill="#cc00ff" filter="url(#bl2)"/>
<ellipse cx="234" cy="73" rx="4.5" ry="3.5" fill="#cc00ff" opacity="0.35" filter="url(#bl1)"/>
<ellipse cx="257" cy="77.5" rx="4.5" ry="2.5" fill="#cc00ff" opacity="0.35" filter="url(#bl1)"/>
<path d="M212.7 92.4h1v1h-1zM197.1 99.5h1v1h-1zM192.7 83.8h1v1h-1zM194.7 94.2h1v1h-1zM213.1 83.5h1v1h-1zM185.2 92.6h1v1h-1zM220.4 85.1h1v1h-1zM208.1 94.5h1v1h-1zM194.3 89.3h1v1h-1zM193.1 94.5h1v1h-1zM211.7 87.5h1v1h-1zM210.6 84.3h1v1h-1zM197.7 86.2h1v1h-1zM198.4 87.8h1v1h-1zM203.7 85.9h1v1h-1zM222.3 86.5h1v1h-1zM206.8 92.5h1v1h-1zM219.4 90.7h1v1h-1zM211.1 97.4h1v1h-1zM207.8 91.7h1v1h-1zM204.8 92.4h1v1h-1zM212.7 95.4h1v1h-1zM204.9 97.9h1v1h-1zM214.6 93.2h1v1h-1zM192.1 83.6h1v1h-1zM197.9 91.0h1v1h-1zM220.7 83.6h1v1h-1zM200.9 93.6h1v1h-1zM219.5 84.1h1v1h-1zM223.4 92.4h1v1h-1zM208.5 85.6h1v1h-1zM188.7 98.0h1v1h-1zM215.9 84.7h1v1h-1zM212.1 94.5h1v1h-1zM196.6 95.3h1v1h-1zM220.3 87.8h1v1h-1zM204.5 93.4h1v1h-1zM186.9 88.8h1v1h-1zM187.3 87.5h1v1h-1zM194.0 87.5h1v1h-1zM209.8 83.3h1v1h-1zM218.3 94.8h1v1h-1zM188.6 84.3h1v1h-1zM185.4 86.4h1v1h-1zM210.3 84.5h1v1h-1zM201.5 97.1h1v1h-1zM202.8 92.3h1v1h-1zM218.6 91.2h1v1h-1zM222.6 93.2h1v1h-1zM224.6 97.1h1v1h-1zM216.8 93.9h1v1h-1zM184.6 92.0h1v1h-1zM190.7 88.5h1v1h-1zM208.9 92.0h1v1h-1zM187.9 93.0h1v1h-1zM205.9 91.4h1v1h-1zM201.0 98.5h1v1h-1zM201.4 84.0h1v1h-1zM195.6 84.1h1v1h-1zM195.7 96.8h1v1h-1zM194.4 99.5h1v1h-1zM188.8 83.9h1v1h-1zM207.5 83.4h1v1h-1zM203.0 83.2h1v1h-1zM214.1 93.1h1v1h-1zM211.1 85.4h1v1h-1zM224.0 92.8h1v1h-1zM198.6 94.6h1v1h-1zM221.1 83.3h1v1h-1zM200.5 98.2h1v1h-1zM211.9 87.4h1v1h-1zM217.9 92.7h1v1h-1zM201.0 89.2h1v1h-1zM203.0 89.0h1v1h-1zM210.7 90.1h1v1h-1zM189.1 83.1h1v1h-1zM206.6 90.5h1v1h-1zM188.4 87.6h1v1h-1zM193.8 89.3h1v1h-1zM210.4 85.9h1v1h-1zM224.8 88.9h1v1h-1zM226.0 95.2h1v1h-1zM190.6 86.4h1v1h-1zM206.0 98.2h1v1h-1zM202.8 93.8h1v1h-1zM200.2 84.8h1v1h-1zM216.4 83.3h1v1h-1zM214.0 98.5h1v1h-1zM207.8 87.1h1v1h-1zM210.3 84.9h1v1h-1zM208.6 94.5h1v1h-1zM212.6 95.4h1v1h-1zM223.0 98.7h1v1h-1zM223.8 91.8h1v1h-1zM225.1 88.5h1v1h-1zM220.2 88.6h1v1h-1zM188.8 86.6h1v1h-1zM203.2 94.1h1v1h-1zM216.9 99.5h1v1h-1zM196.7 84.5h1v1h-1zM209.7 89.8h1v1h-1zM186.8 89.2h1v1h-1zM193.0 84.4h1v1h-1zM201.1 93.4h1v1h-1zM202.1 87.8h1v1h-1zM194.0 95.7h1v1h-1zM220.3 98.8h1v1h-1zM197.7 87.7h1v1h-1zM200.3 99.1h1v1h-1zM217.8 96.1h1v1h-1zM207.7 94.3h1v1h-1zM186.6 86.4h1v1h-1zM193.5 87.9h1v1h-1zM209.9 84.8h1v1h-1zM192.8 98.7h1v1h-1zM194.8 97.2h1v1h-1zM210.4 84.5h1v1h-1zM205.0 92.3h1v1h-1zM195.7 86.7h1v1h-1zM207.7 96.4h1v1h-1zM210.8 93.0h1v1h-1zM186.1 99.5h1v1h-1zM195.9 95.7h1v1h-1zM197.3 84.8h1v1h-1zM221.0 89.5h1v1h-1zM186.6 93.1h1v1h-1zM198.9 99.0h1v1h-1zM192.6 89.5h1v1h-1zM213.3 86.3h1v1h-1zM218.2 88.0h1v1h-1zM186.9 87.3h1v1h-1zM220.3 85.7h1v1h-1zM213.4 89.0h1v1h-1zM193.5 87.4h1v1h-1zM222.5 91.9h1v1h-1zM196.7 98.6h1v1h-1zM217.2 99.7h1v1h-1zM187.6 85.8h1v1h-1zM203.4 93.0h1v1h-1zM205.5 94.8h1v1h-1zM221.7 85.7h1v1h-1zM219.2 92.3h1v1h-1zM207.2 86.5h1v1h-1zM186.6 89.4h1v1h-1zM202.3 88.7h1v1h-1zM200.1 97.3h1v1h-1zM225.8 87.1h1v1h-1zM212.7 92.5h1v1h-1zM201.3 93.2h1v1h-1zM199.6 88.8h1v1h-1zM216.4 99.3h1v1h-1zM188.5 88.8h1v1h-1zM218.4 88.7h1v1h-1zM212.3 95.1h1v1h-1zM202.6 91.5h1v1h-1zM214.0 95.7h1v1h-1zM201.0 85.7h1v1h-1zM190.4 85.6h1v1h-1zM201.8 95.9h1v1h-1zM186.6 89.8h1v1h-1zM188.1 98.0h1v1h-1zM202.7 87.1h1v1h-1zM218.7 87.2h1v1h-1zM193.0 98.1h1v1h-1zM205.3 89.3h1v1h-1zM225.1 84.9h1v1h-1zM218.8 86.9h1v1h-1zM221.9 96.5h1v1h-1zM212.5 87.6h1v1h-1zM208.9 92.7h1v1h-1zM208.6 97.6h1v1h-1zM209.5 93.7h1v1h-1zM203.8 96.2h1v1h-1zM194.4 88.2h1v1h-1zM187.2 98.3h1v1h-1zM199.8 92.6h1v1h-1zM216.5 86.5h1v1h-1zM207.4 85.3h1v1h-1zM191.3 88.7h1v1h-1zM218.3 85.4h1v1h-1zM186.2 96.5h1v1h-1zM223.1 92.8h1v1h-1zM211.5 83.8h1v1h-1zM207.6 98.4h1v1h-1zM201.6 93.4h1v1h-1zM218.7 90.8h1v1h-1zM184.8 85.5h1v1h-1zM185.2 91.2h1v1h-1zM206.1 99.1h1v1h-1zM196.8 93.2h1v1h-1zM201.2 91.0h1v1h-1zM206.8 93.6h1v1h-1zM186.3 92.6h1v1h-1zM225.3 93.9h1v1h-1zM212.6 86.5h1v1h-1zM188.6 85.6h1v1h-1zM215.2 83.2h1v1h-1zM206.6 97.6h1v1h-1zM213.0 83.1h1v1h-1zM215.1 87.5h1v1h-1zM225.6 93.2h1v1h-1zM189.4 91.7h1v1h-1zM225.8 98.8h1v1h-1zM204.3 86.7h1v1h-1zM192.8 85.0h1v1h-1zM200.0 85.8h1v1h-1zM199.6 91.7h1v1h-1zM221.7 88.1h1v1h-1zM206.3 91.0h1v1h-1zM187.3 95.0h1v1h-1zM214.2 88.6h1v1h-1zM205.2 94.6h1v1h-1zM218.3 83.3h1v1h-1zM186.4 92.6h1v1h-1zM220.4 98.9h1v1h-1zM221.6 99.3h1v1h-1zM184.8 93.0h1v1h-1zM189.5 87.1h1v1h-1zM206.5 88.2h1v1h-1zM188.2 90.8h1v1h-1zM221.3 91.9h1v1h-1zM192.1 97.3h1v1h-1zM212.2 90.8h1v1h-1zM211.6 83.8h1v1h-1zM197.8 95.2h1v1h-1zM193.4 86.9h1v1h-1zM222.5 98.4h1v1h-1zM186.2 86.7h1v1h-1zM195.0 88.2h1v1h-1zM198.1 85.4h1v1h-1zM208.7 88.3h1v1h-1zM199.8 93.5h1v1h-1zM189.1 87.7h1v1h-1zM208.2 83.8h1v1h-1zM214.5 93.3h1v1h-1zM213.7 95.9h1v1h-1zM204.8 84.9h1v1h-1zM197.2 90.4h1v1h-1zM184.9 84.2h1v1h-1zM206.6 83.3h1v1h-1zM210.6 89.6h1v1h-1zM202.8 88.0h1v1h-1zM224.3 98.3h1v1h-1zM192.9 83.2h1v1h-1zM218.3 94.3h1v1h-1zM214.3 95.8h1v1h-1zM221.8 90.3h1v1h-1zM222.9 91.8h1v1h-1zM194.3 87.3h1v1h-1zM222.8 87.4h1v1h-1zM201.2 83.9h1v1h-1zM212.7 98.9h1v1h-1zM224.0 83.5h1v1h-1zM209.2 85.4h1v1h-1zM208.7 95.7h1v1h-1zM187.4 91.0h1v1h-1zM209.3 92.0h1v1h-1zM194.5 88.2h1v1h-1zM200.6 85.8h1v1h-1zM200.2 97.0h1v1h-1zM224.9 85.2h1v1h-1zM211.0 88.2h1v1h-1zM214.6 96.2h1v1h-1zM191.7 88.2h1v1h-1zM197.1 99.6h1v1h-1zM220.9 86.1h1v1h-1zM189.5 92.2h1v1h-1zM224.1 92.4h1v1h-1zM202.2 91.8h1v1h-1zM200.7 96.6h1v1h-1zM205.9 83.8h1v1h-1zM202.9 92.6h1v1h-1zM204.0 96.8h1v1h-1zM202.1 83.9h1v1h-1zM213.6 92.6h1v1h-1zM196.0 90.7h1v1h-1zM191.4 90.1h1v1h-1zM202.5 92.4h1v1h-1zM188.2 93.9h1v1h-1zM203.1 95.3h1v1h-1zM205.0 98.7h1v1h-1zM217.1 94.5h1v1h-1zM201.0 94.6h1v1h-1zM216.9 87.7h1v1h-1zM198.5 85.6h1v1h-1zM219.2 84.2h1v1h-1zM214.3 87.7h1v1h-1zM186.2 85.1h1v1h-1zM200.5 95.0h1v1h-1zM216.3 95.1h1v1h-1zM206.4 93.7h1v1h-1zM212.4 89.7h1v1h-1zM225.6 91.1h1v1h-1zM212.5 87.5h1v1h-1zM207.2 99.1h1v1h-1zM219.6 83.3h1v1h-1zM202.4 88.6h1v1h-1zM184.9 93.0h1v1h-1zM195.8 86.2h1v1h-1zM209.2 97.9h1v1h-1zM223.9 91.4h1v1h-1zM209.7 89.5h1v1h-1zM196.3 84.1h1v1h-1zM225.7 87.9h1v1h-1zM201.1 93.3h1v1h-1zM194.0 87.9h1v1h-1zM207.4 83.8h1v1h-1zM198.8 93.1h1v1h-1zM189.1 88.3h1v1h-1zM214.1 97.8h1v1h-1zM213.2 95.1h1v1h-1zM224.8 95.6h1v1h-1zM190.2 98.6h1v1h-1zM222.3 97.2h1v1h-1zM217.6 88.8h1v1h-1zM195.0 93.0h1v1h-1zM204.4 87.5h1v1h-1zM210.7 86.5h1v1h-1zM197.6 86.6h1v1h-1zM189.0 84.9h1v1h-1zM219.2 87.2h1v1h-1zM191.3 86.9h1v1h-1zM204.9 94.8h1v1h-1zM202.7 87.4h1v1h-1zM222.0 83.8h1v1h-1zM207.7 90.4h1v1h-1zM202.1 86.5h1v1h-1zM225.0 95.1h1v1h-1zM199.1 86.9h1v1h-1zM214.6 92.7h1v1h-1zM194.2 86.1h1v1h-1zM215.9 91.4h1v1h-1zM215.7 98.2h1v1h-1zM218.9 88.3h1v1h-1zM204.6 92.2h1v1h-1zM193.7 90.7h1v1h-1zM210.7 84.2h1v1h-1zM222.3 83.4h1v1h-1zM197.4 97.7h1v1h-1zM185.3 89.0h1v1h-1zM192.2 95.0h1v1h-1zM223.2 90.2h1v1h-1zM184.8 97.7h1v1h-1zM186.7 86.4h1v1h-1zM188.6 91.5h1v1h-1zM221.5 92.6h1v1h-1zM200.4 96.9h1v1h-1zM213.2 83.5h1v1h-1zM213.8 89.3h1v1h-1zM202.5 91.3h1v1h-1zM214.9 93.3h1v1h-1zM203.6 85.5h1v1h-1zM207.0 92.5h1v1h-1zM197.2 95.1h1v1h-1zM184.6 95.8h1v1h-1zM209.1 86.9h1v1h-1zM195.5 90.7h1v1h-1zM195.9 88.2h1v1h-1zM221.0 89.8h1v1h-1zM199.5 89.4h1v1h-1zM188.7 99.5h1v1h-1zM210.7 83.2h1v1h-1zM206.8 99.6h1v1h-1zM186.9 83.6h1v1h-1zM199.0 84.4h1v1h-1zM209.9 86.6h1v1h-1zM196.1 88.0h1v1h-1zM225.4 98.0h1v1h-1zM217.7 97.7h1v1h-1zM205.4 99.4h1v1h-1zM222.5 89.8h1v1h-1zM185.9 83.3h1v1h-1zM193.8 94.0h1v1h-1zM222.5 98.7h1v1h-1zM205.6 84.9h1v1h-1zM191.6 97.5h1v1h-1zM208.2 83.0h1v1h-1zM214.8 95.8h1v1h-1zM209.5 91.6h1v1h-1zM186.4 98.9h1v1h-1zM186.0 98.3h1v1h-1zM201.4 83.8h1v1h-1zM185.2 91.7h1v1h-1zM188.0 87.2h1v1h-1zM211.2 90.7h1v1h-1zM202.7 84.2h1v1h-1zM188.0 89.3h1v1h-1zM220.9 90.1h1v1h-1zM199.8 83.1h1v1h-1zM221.2 91.3h1v1h-1zM209.8 98.7h1v1h-1zM210.3 84.1h1v1h-1zM202.1 99.5h1v1h-1zM212.4 91.6h1v1h-1zM194.6 86.7h1v1h-1zM220.8 91.3h1v1h-1zM193.0 90.6h1v1h-1zM200.5 89.6h1v1h-1zM215.4 98.4h1v1h-1zM198.2 85.3h1v1h-1zM199.7 86.7h1v1h-1zM222.2 88.0h1v1h-1zM193.1 84.1h1v1h-1zM194.5 97.8h1v1h-1zM221.3 91.6h1v1h-1zM195.9 93.5h1v1h-1zM198.2 98.5h1v1h-1zM221.1 91.7h1v1h-1zM197.8 87.8h1v1h-1zM225.9 92.3h1v1h-1zM218.6 91.8h1v1h-1zM219.6 88.2h1v1h-1zM193.9 87.1h1v1h-1zM193.5 89.3h1v1h-1zM215.7 95.9h1v1h-1zM218.8 85.9h1v1h-1zM193.0 87.1h1v1h-1zM194.6 87.8h1v1h-1zM190.2 85.2h1v1h-1zM202.0 89.9h1v1h-1zM205.4 89.5h1v1h-1zM210.6 94.9h1v1h-1zM186.8 98.7h1v1h-1zM192.5 87.3h1v1h-1zM189.4 97.2h1v1h-1zM195.7 88.4h1v1h-1zM192.2 90.1h1v1h-1zM223.4 85.2h1v1h-1zM200.0 98.6h1v1h-1zM190.3 89.5h1v1h-1zM212.2 95.3h1v1h-1zM224.9 83.5h1v1h-1zM217.5 95.2h1v1h-1zM211.4 87.0h1v1h-1zM200.2 90.9h1v1h-1zM201.2 94.8h1v1h-1zM197.0 86.0h1v1h-1zM218.0 92.2h1v1h-1zM217.8 97.6h1v1h-1zM204.8 85.9h1v1h-1zM220.3 91.2h1v1h-1zM211.6 86.2h1v1h-1zM213.0 85.5h1v1h-1zM195.7 91.6h1v1h-1zM194.5 91.0h1v1h-1zM194.0 94.3h1v1h-1zM222.4 98.0h1v1h-1zM217.7 95.4h1v1h-1zM221.8 88.9h1v1h-1zM218.6 91.5h1v1h-1zM217.9 94.8h1v1h-1zM202.6 97.7h1v1h-1zM216.3 94.9h1v1h-1zM191.4 91.8h1v1h-1zM211.7 85.3h1v1h-1zM186.3 98.2h1v1h-1zM224.6 87.9h1v1h-1zM221.0 90.1h1v1h-1zM191.3 98.5h1v1h-1zM216.4 86.6h1v1h-1zM218.7 99.0h1v1h-1zM186.2 87.0h1v1h-1zM208.0 84.5h1v1h-1zM201.9 92.0h1v1h-1zM210.2 96.9h1v1h-1zM221.3 90.0h1v1h-1zM214.5 97.7h1v1h-1zM193.3 89.9h1v1h-1zM207.5 97.3h1v1h-1zM207.8 85.0h1v1h-1zM185.0 88.0h1v1h-1zM190.0 85.1h1v1h-1zM199.4 95.9h1v1h-1zM191.9 91.2h1v1h-1zM194.3 94.5h1v1h-1zM212.6 87.2h1v1h-1zM224.4 95.9h1v1h-1zM211.3 84.4h1v1h-1zM216.1 88.6h1v1h-1zM212.4 98.2h1v1h-1zM211.8 97.9h1v1h-1zM184.5 98.3h1v1h-1zM220.6 87.0h1v1h-1zM191.2 92.9h1v1h-1zM192.0 84.5h1v1h-1zM205.7 90.5h1v1h-1zM208.9 93.1h1v1h-1zM215.9 87.5h1v1h-1zM196.7 90.4h1v1h-1zM223.7 89.4h1v1h-1zM210.6 84.5h1v1h-1zM219.5 84.2h1v1h-1zM204.3 96.7h1v1h-1zM187.5 83.1h1v1h-1zM211.1 98.7h1v1h-1zM202.8 96.7h1v1h-1zM198.0 83.0h1v1h-1zM191.9 85.0h1v1h-1zM204.2 88.6h1v1h-1zM195.1 86.2h1v1h-1zM221.5 84.1h1v1h-1zM191.9 99.0h1v1h-1zM224.7 98.9h1v1h-1zM220.2 96.4h1v1h-1zM200.4 87.4h1v1h-1zM216.6 97.9h1v1h-1zM208.6 97.3h1v1h-1zM203.8 88.7h1v1h-1zM218.2 85.2h1v1h-1zM219.0 85.4h1v1h-1zM192.9 90.2h1v1h-1zM222.1 97.6h1v1h-1zM185.8 84.3h1v1h-1zM184.7 90.5h1v1h-1zM204.6 89.2h1v1h-1zM197.0 98.6h1v1h-1zM202.0 85.7h1v1h-1zM204.4 94.5h1v1h-1zM203.9 88.7h1v1h-1zM222.2 94.3h1v1h-1zM222.6 97.4h1v1h-1zM198.9 97.4h1v1h-1zM196.4 97.8h1v1h-1zM211.6 88.1h1v1h-1zM192.7 87.8h1v1h-1zM201.1 85.1h1v1h-1zM214.3 87.5h1v1h-1zM184.7 85.1h1v1h-1zM216.5 96.7h1v1h-1zM215.0 83.8h1v1h-1zM200.6 86.4h1v1h-1zM194.8 96.8h1v1h-1zM206.9 96.4h1v1h-1zM218.6 89.7h1v1h-1zM209.0 83.8h1v1h-1zM197.2 97.1h1v1h-1zM218.0 88.0h1v1h-1zM209.7 96.5h1v1h-1zM190.0 83.3h1v1h-1zM201.7 83.6h1v1h-1zM204.8 93.5h1v1h-1zM223.7 95.0h1v1h-1zM197.8 92.8h1v1h-1zM203.1 92.3h1v1h-1zM225.0 93.4h1v1h-1zM202.2 85.3h1v1h-1zM218.8 84.1h1v1h-1zM188.5 89.1h1v1h-1zM200.8 92.6h1v1h-1zM192.1 87.4h1v1h-1zM221.2 86.1h1v1h-1zM207.4 90.8h1v1h-1zM193.6 90.2h1v1h-1zM188.3 87.7h1v1h-1zM202.0 99.2h1v1h-1zM188.5 99.5h1v1h-1zM204.6 83.8h1v1h-1zM214.7 91.4h1v1h-1zM197.4 87.2h1v1h-1zM191.5 88.9h1v1h-1zM199.5 83.5h1v1h-1zM191.4 84.4h1v1h-1zM219.5 83.6h1v1h-1zM188.5 85.2h1v1h-1zM215.2 94.4h1v1h-1zM198.4 84.4h1v1h-1zM214.7 98.5h1v1h-1zM216.5 97.0h1v1h-1zM190.1 87.7h1v1h-1zM215.9 95.1h1v1h-1zM223.7 99.7h1v1h-1zM208.0 85.0h1v1h-1zM211.3 92.8h1v1h-1zM197.9 91.1h1v1h-1zM191.7 88.4h1v1h-1zM215.4 88.0h1v1h-1zM218.5 84.5h1v1h-1zM193.1 94.3h1v1h-1zM189.2 86.5h1v1h-1zM199.1 90.4h1v1h-1zM210.5 99.2h1v1h-1zM199.7 89.1h1v1h-1zM224.5 88.5h1v1h-1zM217.3 99.3h1v1h-1zM222.5 93.2h1v1h-1zM209.4 93.0h1v1h-1zM215.9 86.9h1v1h-1zM224.0 94.2h1v1h-1zM186.0 89.6h1v1h-1zM208.4 92.5h1v1h-1zM192.3 90.0h1v1h-1zM217.5 84.4h1v1h-1zM194.2 98.4h1v1h-1zM215.3 95.1h1v1h-1zM198.3 99.8h1v1h-1zM211.5 88.4h1v1h-1zM212.7 87.9h1v1h-1zM222.2 85.4h1v1h-1zM220.7 88.3h1v1h-1zM202.7 88.7h1v1h-1zM213.1 86.2h1v1h-1zM192.1 87.6h1v1h-1zM188.6 88.1h1v1h-1zM214.1 98.0h1v1h-1zM222.1 90.8h1v1h-1zM215.5 97.3h1v1h-1zM205.9 83.9h1v1h-1zM210.6 86.3h1v1h-1zM214.8 99.7h1v1h-1zM208.1 83.9h1v1h-1zM199.6 84.2h1v1h-1zM219.8 92.1h1v1h-1zM199.8 88.1h1v1h-1zM222.0 86.4h1v1h-1zM217.7 93.7h1v1h-1zM217.4 93.7h1v1h-1zM219.1 86.3h1v1h-1zM225.5 92.4h1v1h-1zM225.6 91.0h1v1h-1zM205.3 97.8h1v1h-1zM200.2 84.2h1v1h-1zM214.9 87.1h1v1h-1zM224.7 92.9h1v1h-1zM210.6 83.6h1v1h-1zM185.6 97.8h1v1h-1zM203.8 88.7h1v1h-1zM217.2 96.6h1v1h-1zM221.3 87.4h1v1h-1zM200.1 99.6h1v1h-1zM206.0 86.7h1v1h-1zM205.8 83.1h1v1h-1zM188.4 84.2h1v1h-1zM184.5 91.0h1v1h-1zM206.2 83.7h1v1h-1zM220.3 94.0h1v1h-1zM192.0 93.0h1v1h-1zM219.9 94.0h1v1h-1zM195.8 90.3h1v1h-1zM206.9 98.5h1v1h-1zM213.8 95.5h1v1h-1zM190.5 90.5h1v1h-1zM223.8 88.0h1v1h-1zM224.3 85.5h1v1h-1zM224.8 88.5h1v1h-1zM184.6 89.2h1v1h-1zM211.2 84.4h1v1h-1zM212.3 99.2h1v1h-1zM221.0 87.5h1v1h-1zM192.9 92.5h1v1h-1zM189.6 84.2h1v1h-1zM218.1 92.7h1v1h-1zM195.4 94.3h1v1h-1zM187.2 84.4h1v1h-1zM211.3 85.9h1v1h-1zM206.7 87.6h1v1h-1zM215.5 95.9h1v1h-1zM218.0 88.9h1v1h-1zM184.6 98.3h1v1h-1zM223.2 87.2h1v1h-1zM221.0 88.5h1v1h-1zM223.2 95.1h1v1h-1zM216.4 98.1h1v1h-1zM200.4 98.5h1v1h-1zM194.8 88.0h1v1h-1zM222.4 92.3h1v1h-1zM201.9 90.2h1v1h-1zM204.7 94.8h1v1h-1zM213.5 87.0h1v1h-1zM213.1 97.7h1v1h-1zM213.3 95.5h1v1h-1zM210.4 86.1h1v1h-1zM205.6 88.5h1v1h-1zM216.3 88.9h1v1h-1zM200.9 99.3h1v1h-1zM195.4 91.0h1v1h-1zM222.2 93.8h1v1h-1zM219.6 99.3h1v1h-1zM214.3 89.9h1v1h-1zM191.5 99.6h1v1h-1zM186.4 88.1h1v1h-1zM222.8 83.2h1v1h-1zM223.6 84.8h1v1h-1zM195.8 95.1h1v1h-1zM210.6 89.7h1v1h-1zM185.3 97.6h1v1h-1zM200.8 92.3h1v1h-1zM213.7 95.0h1v1h-1zM199.5 89.2h1v1h-1zM218.0 93.3h1v1h-1zM222.4 95.2h1v1h-1zM190.2 89.6h1v1h-1zM213.1 91.6h1v1h-1zM200.1 97.8h1v1h-1zM191.7 99.3h1v1h-1zM199.0 89.1h1v1h-1zM204.5 84.2h1v1h-1zM221.7 97.7h1v1h-1zM216.3 90.8h1v1h-1zM186.8 96.3h1v1h-1zM225.7 89.4h1v1h-1zM207.6 97.9h1v1h-1zM209.8 92.6h1v1h-1zM199.1 95.5h1v1h-1zM219.0 98.5h1v1h-1zM207.6 93.2h1v1h-1zM209.1 99.6h1v1h-1zM194.9 90.0h1v1h-1zM216.7 89.6h1v1h-1zM193.4 94.2h1v1h-1zM190.2 90.1h1v1h-1zM209.3 95.4h1v1h-1zM219.0 92.3h1v1h-1zM196.7 96.0h1v1h-1zM197.0 97.5h1v1h-1zM190.7 92.9h1v1h-1zM209.5 99.0h1v1h-1zM216.5 96.7h1v1h-1zM189.7 98.0h1v1h-1zM206.7 83.3h1v1h-1zM206.9 83.3h1v1h-1zM188.9 94.1h1v1h-1zM206.5 88.8h1v1h-1zM195.8 98.3h1v1h-1zM192.8 89.9h1v1h-1zM225.4 96.0h1v1h-1zM188.2 87.3h1v1h-1zM198.8 94.0h1v1h-1zM210.2 98.8h1v1h-1zM201.3 98.1h1v1h-1zM185.2 89.4h1v1h-1zM220.4 91.4h1v1h-1zM194.4 92.4h1v1h-1zM201.6 89.0h1v1h-1zM222.2 91.5h1v1h-1zM224.7 99.9h1v1h-1zM222.5 98.4h1v1h-1zM201.6 88.5h1v1h-1zM215.4 95.0h1v1h-1zM219.7 99.6h1v1h-1zM192.7 89.3h1v1h-1zM224.7 97.8h1v1h-1zM188.7 97.0h1v1h-1zM211.8 98.5h1v1h-1zM194.4 84.5h1v1h-1zM193.4 99.2h1v1h-1zM223.6 87.2h1v1h-1zM189.8 94.1h1v1h-1zM222.4 84.6h1v1h-1zM191.4 93.5h1v1h-1zM198.2 95.4h1v1h-1zM193.3 96.0h1v1h-1zM225.5 98.0h1v1h-1zM188.4 88.1h1v1h-1zM220.2 85.0h1v1h-1zM197.0 97.3h1v1h-1zM224.0 83.4h1v1h-1zM215.6 87.1h1v1h-1zM195.4 87.1h1v1h-1zM205.7 96.6h1v1h-1zM191.2 90.7h1v1h-1zM201.4 97.7h1v1h-1zM185.6 94.7h1v1h-1zM212.8 97.8h1v1h-1zM209.1 96.8h1v1h-1zM195.8 98.4h1v1h-1zM185.1 87.8h1v1h-1zM223.5 89.2h1v1h-1zM189.7 94.0h1v1h-1zM198.1 93.2h1v1h-1zM185.6 96.6h1v1h-1zM200.4 97.2h1v1h-1zM201.2 88.3h1v1h-1zM206.6 85.1h1v1h-1zM197.9 96.0h1v1h-1zM194.9 95.0h1v1h-1zM217.1 87.8h1v1h-1zM196.1 84.0h1v1h-1zM198.3 83.4h1v1h-1zM204.9 87.3h1v1h-1zM195.9 87.8h1v1h-1zM214.7 86.6h1v1h-1zM188.0 83.9h1v1h-1zM197.9 86.0h1v1h-1zM202.0 89.1h1v1h-1zM195.2 84.6h1v1h-1zM219.4 86.6h1v1h-1zM199.2 90.7h1v1h-1zM202.0 97.8h1v1h-1zM204.0 98.3h1v1h-1zM219.0 90.1h1v1h-1zM193.6 85.2h1v1h-1zM218.9 87.7h1v1h-1zM223.9 94.8h1v1h-1zM195.5 90.1h1v1h-1zM191.5 93.0h1v1h-1zM217.2 95.9h1v1h-1zM197.5 94.5h1v1h-1zM193.9 98.0h1v1h-1zM187.7 84.5h1v1h-1zM210.0 88.2h1v1h-1zM223.4 83.6h1v1h-1zM221.1 92.1h1v1h-1zM208.9 93.8h1v1h-1zM202.7 87.4h1v1h-1zM225.0 84.0h1v1h-1zM211.9 91.1h1v1h-1zM224.2 85.9h1v1h-1zM213.1 86.4h1v1h-1zM213.4 89.7h1v1h-1zM213.6 99.5h1v1h-1zM189.7 89.3h1v1h-1zM195.0 95.4h1v1h-1zM187.2 89.5h1v1h-1zM223.2 90.1h1v1h-1zM225.8 85.5h1v1h-1zM209.6 86.2h1v1h-1zM191.0 96.5h1v1h-1zM189.7 90.5h1v1h-1zM203.0 88.0h1v1h-1zM192.6 98.4h1v1h-1zM188.2 87.6h1v1h-1zM211.4 90.6h1v1h-1zM217.4 92.9h1v1h-1zM187.1 85.9h1v1h-1zM197.3 90.5h1v1h-1zM197.0 88.0h1v1h-1zM207.0 97.2h1v1h-1zM209.6 84.7h1v1h-1zM220.4 87.1h1v1h-1zM200.7 88.8h1v1h-1zM197.1 84.3h1v1h-1zM216.3 99.0h1v1h-1zM219.4 97.5h1v1h-1zM220.9 84.2h1v1h-1zM191.5 92.2h1v1h-1zM192.7 89.8h1v1h-1zM203.7 93.6h1v1h-1zM224.7 88.9h1v1h-1zM210.2 99.7h1v1h-1zM210.4 86.8h1v1h-1zM198.1 97.4h1v1h-1zM225.6 87.7h1v1h-1zM192.1 94.4h1v1h-1zM207.7 90.5h1v1h-1zM212.5 92.2h1v1h-1zM218.1 92.1h1v1h-1zM218.3 94.0h1v1h-1zM200.5 84.2h1v1h-1zM195.7 84.0h1v1h-1zM207.4 87.4h1v1h-1zM196.2 89.2h1v1h-1zM190.2 87.2h1v1h-1zM217.8 94.3h1v1h-1zM208.1 90.0h1v1h-1zM200.4 88.6h1v1h-1zM211.9 89.1h1v1h-1zM225.2 83.5h1v1h-1zM208.5 84.6h1v1h-1zM217.2 83.8h1v1h-1zM221.1 88.7h1v1h-1zM204.7 85.5h1v1h-1zM191.9 92.6h1v1h-1zM213.4 86.6h1v1h-1zM219.0 83.6h1v1h-1zM224.5 97.6h1v1h-1zM190.8 85.2h1v1h-1zM189.2 85.4h1v1h-1zM210.9 97.3h1v1h-1zM218.8 87.3h1v1h-1zM187.7 86.5h1v1h-1zM210.0 99.5h1v1h-1zM195.6 86.4h1v1h-1zM226.0 97.6h1v1h-1zM199.5 88.4h1v1h-1zM187.9 92.9h1v1h-1zM217.0 88.4h1v1h-1zM197.0 88.9h1v1h-1zM201.9 99.3h1v1h-1zM189.9 98.9h1v1h-1zM198.2 86.1h1v1h-1zM190.0 95.7h1v1h-1zM195.2 85.4h1v1h-1zM208.5 88.2h1v1h-1zM196.9 84.2h1v1h-1zM212.2 94.3h1v1h-1zM221.9 95.7h1v1h-1zM208.4 96.1h1v1h-1zM185.7 96.6h1v1h-1zM224.3 89.9h1v1h-1zM192.7 86.1h1v1h-1zM198.9 83.1h1v1h-1zM206.4 90.7h1v1h-1zM210.2 99.3h1v1h-1zM198.7 90.9h1v1h-1zM202.8 93.8h1v1h-1zM210.5 99.0h1v1h-1zM203.5 98.1h1v1h-1zM196.3 95.9h1v1h-1zM201.5 93.4h1v1h-1zM200.5 87.1h1v1h-1zM196.6 96.1h1v1h-1zM209.4 90.3h1v1h-1zM205.8 95.4h1v1h-1zM201.6 86.9h1v1h-1zM213.9 99.5h1v1h-1zM218.2 85.9h1v1h-1zM211.4 96.8h1v1h-1zM198.7 98.6h1v1h-1zM223.4 85.7h1v1h-1zM188.8 98.1h1v1h-1zM217.9 94.3h1v1h-1zM202.0 93.6h1v1h-1zM201.0 87.4h1v1h-1zM219.5 88.7h1v1h-1zM211.7 87.1h1v1h-1zM224.9 90.7h1v1h-1zM220.9 94.3h1v1h-1zM189.3 95.8h1v1h-1zM205.4 95.4h1v1h-1zM216.4 89.1h1v1h-1zM187.9 88.9h1v1h-1zM207.0 96.4h1v1h-1zM194.4 86.9h1v1h-1zM189.3 90.2h1v1h-1zM196.5 87.8h1v1h-1zM196.4 83.3h1v1h-1zM202.4 98.6h1v1h-1zM219.1 96.4h1v1h-1zM206.0 88.8h1v1h-1zM209.0 94.9h1v1h-1zM189.0 89.5h1v1h-1zM187.2 94.1h1v1h-1zM224.0 90.4h1v1h-1zM198.9 99.0h1v1h-1zM223.8 91.0h1v1h-1zM198.4 97.2h1v1h-1zM211.0 93.1h1v1h-1zM212.0 89.5h1v1h-1zM187.4 86.4h1v1h-1zM202.8 98.9h1v1h-1zM196.8 97.9h1v1h-1zM192.6 93.7h1v1h-1zM197.5 93.9h1v1h-1zM203.4 99.2h1v1h-1zM197.4 90.6h1v1h-1zM198.4 97.4h1v1h-1zM204.7 96.6h1v1h-1zM212.8 98.0h1v1h-1zM186.2 90.7h1v1h-1zM225.9 94.4h1v1h-1zM202.4 84.6h1v1h-1zM222.8 84.3h1v1h-1zM184.8 84.9h1v1h-1zM186.9 95.9h1v1h-1zM188.6 89.2h1v1h-1zM222.4 98.9h1v1h-1zM201.6 84.4h1v1h-1zM219.6 86.0h1v1h-1zM213.3 97.6h1v1h-1zM188.1 90.3h1v1h-1zM199.5 86.9h1v1h-1zM198.3 96.7h1v1h-1zM203.3 87.1h1v1h-1zM188.0 87.8h1v1h-1zM222.9 98.0h1v1h-1zM204.3 91.4h1v1h-1zM199.7 99.4h1v1h-1zM213.5 88.2h1v1h-1zM196.0 99.2h1v1h-1zM214.1 88.3h1v1h-1zM201.8 90.8h1v1h-1zM204.3 94.1h1v1h-1zM192.3 92.7h1v1h-1zM192.9 94.7h1v1h-1zM220.2 95.2h1v1h-1zM208.4 87.7h1v1h-1zM202.0 83.2h1v1h-1zM216.7 95.7h1v1h-1zM222.4 93.5h1v1h-1zM191.1 92.9h1v1h-1zM225.9 91.7h1v1h-1zM185.1 99.2h1v1h-1zM210.0 88.2h1v1h-1zM195.4 99.0h1v1h-1zM195.0 85.9h1v1h-1zM205.0 95.2h1v1h-1zM209.6 99.5h1v1h-1zM202.6 85.7h1v1h-1zM214.1 96.5h1v1h-1zM223.9 87.8h1v1h-1zM191.5 84.0h1v1h-1zM194.4 90.5h1v1h-1zM209.8 95.2h1v1h-1zM201.5 88.0h1v1h-1zM197.6 99.6h1v1h-1zM205.4 83.0h1v1h-1zM213.4 87.7h1v1h-1zM222.2 89.0h1v1h-1zM223.5 89.5h1v1h-1zM218.5 88.2h1v1h-1zM198.9 83.4h1v1h-1zM221.2 86.7h1v1h-1zM214.0 87.6h1v1h-1zM191.7 94.8h1v1h-1zM224.1 89.6h1v1h-1zM194.8 95.6h1v1h-1zM212.8 90.7h1v1h-1zM213.3 89.0h1v1h-1zM222.2 85.8h1v1h-1zM212.2 87.0h1v1h-1zM225.3 98.8h1v1h-1zM187.0 91.0h1v1h-1zM186.1 88.5h1v1h-1zM192.6 86.8h1v1h-1zM208.4 98.3h1v1h-1zM202.1 95.3h1v1h-1zM187.9 95.2h1v1h-1zM192.9 97.1h1v1h-1zM208.5 87.2h1v1h-1zM201.2 95.8h1v1h-1zM216.2 84.2h1v1h-1zM203.9 94.6h1v1h-1zM220.9 88.6h1v1h-1zM216.0 94.6h1v1h-1zM205.0 87.0h1v1h-1zM199.4 89.2h1v1h-1zM193.4 94.7h1v1h-1zM196.6 99.4h1v1h-1zM199.2 89.0h1v1h-1zM199.5 86.0h1v1h-1zM191.9 85.2h1v1h-1zM204.1 94.7h1v1h-1zM189.1 98.7h1v1h-1zM220.5 83.3h1v1h-1zM207.3 89.0h1v1h-1zM188.4 86.0h1v1h-1zM198.1 99.7h1v1h-1zM195.1 85.3h1v1h-1zM191.0 84.2h1v1h-1zM204.4 96.4h1v1h-1zM190.8 96.5h1v1h-1zM213.6 85.0h1v1h-1zM202.3 90.1h1v1h-1zM212.4 92.1h1v1h-1zM204.0 98.7h1v1h-1zM205.4 96.2h1v1h-1zM197.4 84.1h1v1h-1zM202.2 90.9h1v1h-1zM204.5 96.6h1v1h-1zM198.7 92.5h1v1h-1zM218.8 94.7h1v1h-1zM198.8 97.6h1v1h-1zM217.1 93.0h1v1h-1zM219.7 88.4h1v1h-1zM207.9 85.8h1v1h-1zM199.5 85.9h1v1h-1zM211.4 94.2h1v1h-1zM218.8 96.5h1v1h-1zM194.6 98.0h1v1h-1zM212.2 99.0h1v1h-1zM214.0 88.0h1v1h-1zM200.7 88.9h1v1h-1zM190.5 86.4h1v1h-1zM209.7 92.5h1v1h-1zM193.2 99.6h1v1h-1zM199.8 96.3h1v1h-1zM207.1 90.6h1v1h-1zM224.5 85.8h1v1h-1zM190.6 97.7h1v1h-1zM187.6 98.7h1v1h-1zM209.3 84.4h1v1h-1zM203.3 88.9h1v1h-1zM213.3 87.5h1v1h-1zM205.1 89.3h1v1h-1zM203.8 94.8h1v1h-1zM229.9 88.1h1v1h-1zM219.2 93.5h1v1h-1zM223.8 94.1h1v1h-1zM212.4 83.3h1v1h-1zM221.5 85.8h1v1h-1zM219.7 89.3h1v1h-1zM224.0 88.3h1v1h-1zM235.6 92.4h1v1h-1zM209.6 82.3h1v1h-1zM214.5 94.2h1v1h-1zM211.4 94.4h1v1h-1zM197.9 84.8h1v1h-1zM212.1 91.0h1v1h-1zM218.2 88.6h1v1h-1zM206.2 93.5h1v1h-1zM223.3 90.6h1v1h-1zM224.8 94.3h1v1h-1zM207.8 89.1h1v1h-1zM226.2 97.5h1v1h-1zM229.5 80.6h1v1h-1zM216.6 86.4h1v1h-1zM202.1 93.2h1v1h-1zM226.6 84.2h1v1h-1zM210.3 94.3h1v1h-1zM208.2 85.5h1v1h-1zM213.1 91.4h1v1h-1zM206.6 86.9h1v1h-1zM222.7 89.0h1v1h-1zM219.8 91.8h1v1h-1zM224.2 90.5h1v1h-1zM217.8 89.3h1v1h-1zM210.4 91.0h1v1h-1zM220.8 86.6h1v1h-1zM207.9 95.2h1v1h-1zM241.2 94.7h1v1h-1zM209.6 96.5h1v1h-1zM206.1 99.0h1v1h-1zM223.5 86.8h1v1h-1zM219.5 95.8h1v1h-1zM211.7 96.1h1v1h-1zM209.7 91.0h1v1h-1zM216.3 92.1h1v1h-1zM220.4 77.5h1v1h-1zM219.6 88.4h1v1h-1zM209.0 99.0h1v1h-1zM216.3 83.0h1v1h-1zM220.4 88.6h1v1h-1zM219.6 92.3h1v1h-1zM203.1 98.3h1v1h-1zM204.2 83.1h1v1h-1zM209.7 91.2h1v1h-1zM213.8 94.9h1v1h-1zM221.2 85.1h1v1h-1zM218.2 90.8h1v1h-1zM210.7 99.5h1v1h-1zM212.2 96.9h1v1h-1zM229.6 93.4h1v1h-1zM205.9 79.2h1v1h-1zM215.0 90.4h1v1h-1zM227.7 92.7h1v1h-1zM215.5 89.6h1v1h-1zM191.6 90.7h1v1h-1zM208.1 90.0h1v1h-1zM210.9 86.6h1v1h-1zM222.5 92.1h1v1h-1zM216.7 89.6h1v1h-1zM209.4 89.6h1v1h-1zM220.9 90.6h1v1h-1zM216.4 94.5h1v1h-1zM213.1 92.1h1v1h-1zM215.0 85.6h1v1h-1zM214.5 90.4h1v1h-1zM208.6 93.1h1v1h-1zM207.4 88.9h1v1h-1zM212.3 96.2h1v1h-1zM202.5 94.5h1v1h-1zM199.4 86.5h1v1h-1zM225.0 92.4h1v1h-1zM211.8 98.0h1v1h-1zM210.6 90.7h1v1h-1zM212.2 95.0h1v1h-1zM212.2 88.0h1v1h-1zM212.7 84.5h1v1h-1zM204.0 93.5h1v1h-1zM221.3 92.1h1v1h-1zM205.1 93.3h1v1h-1zM222.3 90.9h1v1h-1zM192.8 92.5h1v1h-1zM201.4 88.7h1v1h-1zM221.9 93.1h1v1h-1zM210.5 94.7h1v1h-1zM205.3 90.7h1v1h-1zM215.8 94.7h1v1h-1zM201.5 83.0h1v1h-1zM212.8 87.5h1v1h-1zM189.8 97.5h1v1h-1zM207.5 98.9h1v1h-1zM205.5 92.1h1v1h-1zM217.4 90.5h1v1h-1zM220.8 85.3h1v1h-1zM203.5 92.6h1v1h-1zM228.1 94.5h1v1h-1zM206.1 84.3h1v1h-1zM191.4 93.5h1v1h-1zM188.2 93.2h1v1h-1zM227.4 93.0h1v1h-1zM211.1 85.9h1v1h-1zM205.5 93.4h1v1h-1zM204.5 84.3h1v1h-1zM201.1 97.7h1v1h-1zM225.5 91.6h1v1h-1zM211.2 85.8h1v1h-1zM229.9 97.1h1v1h-1zM210.0 96.2h1v1h-1zM188.5 88.1h1v1h-1zM208.3 86.5h1v1h-1zM209.6 92.4h1v1h-1zM227.7 96.3h1v1h-1zM209.4 80.8h1v1h-1zM223.6 95.5h1v1h-1zM212.0 90.7h1v1h-1zM204.5 90.9h1v1h-1zM217.1 86.2h1v1h-1zM206.0 92.5h1v1h-1zM224.3 86.0h1v1h-1zM221.6 86.6h1v1h-1zM212.6 89.0h1v1h-1zM218.1 85.5h1v1h-1zM217.6 98.1h1v1h-1zM209.2 85.0h1v1h-1zM221.0 87.6h1v1h-1zM209.7 89.6h1v1h-1zM218.2 91.0h1v1h-1zM202.5 94.6h1v1h-1zM213.0 94.7h1v1h-1zM216.2 89.6h1v1h-1zM204.1 89.3h1v1h-1zM207.9 91.2h1v1h-1zM206.7 94.7h1v1h-1zM219.3 94.1h1v1h-1zM204.8 88.7h1v1h-1zM216.4 81.7h1v1h-1zM215.6 95.3h1v1h-1zM195.9 92.2h1v1h-1zM213.3 92.5h1v1h-1zM222.5 88.7h1v1h-1zM209.2 86.5h1v1h-1zM223.2 89.5h1v1h-1zM218.2 90.0h1v1h-1zM216.3 88.2h1v1h-1zM209.5 84.4h1v1h-1zM207.0 89.6h1v1h-1zM209.5 93.6h1v1h-1zM212.7 88.8h1v1h-1zM217.3 91.1h1v1h-1zM216.3 81.7h1v1h-1zM209.1 90.1h1v1h-1zM212.8 90.5h1v1h-1zM216.0 85.5h1v1h-1zM195.9 83.2h1v1h-1zM204.4 92.9h1v1h-1zM204.1 87.4h1v1h-1zM210.1 93.2h1v1h-1zM209.4 89.1h1v1h-1zM209.5 93.8h1v1h-1zM203.4 89.5h1v1h-1zM218.9 84.2h1v1h-1zM214.9 90.6h1v1h-1zM195.7 89.5h1v1h-1zM212.3 94.0h1v1h-1zM200.9 89.0h1v1h-1zM229.2 89.2h1v1h-1zM207.6 94.9h1v1h-1zM208.2 96.2h1v1h-1zM213.0 94.4h1v1h-1zM210.2 95.7h1v1h-1zM211.6 93.0h1v1h-1zM227.6 94.5h1v1h-1zM214.4 95.0h1v1h-1zM220.5 92.8h1v1h-1zM223.4 91.3h1v1h-1zM202.4 91.6h1v1h-1zM219.1 91.1h1v1h-1zM221.7 89.9h1v1h-1zM203.5 89.4h1v1h-1zM220.3 90.8h1v1h-1zM216.3 92.1h1v1h-1zM206.8 85.9h1v1h-1zM235.0 82.1h1v1h-1zM217.8 92.3h1v1h-1zM209.8 83.8h1v1h-1zM214.1 92.2h1v1h-1zM221.3 91.6h1v1h-1zM223.5 96.2h1v1h-1zM218.0 98.5h1v1h-1zM224.4 92.7h1v1h-1zM226.9 88.5h1v1h-1zM199.8 85.7h1v1h-1zM207.3 87.4h1v1h-1zM202.8 91.2h1v1h-1zM213.2 81.7h1v1h-1zM226.6 91.3h1v1h-1zM218.7 90.9h1v1h-1zM201.7 93.9h1v1h-1zM209.3 89.5h1v1h-1zM222.5 91.5h1v1h-1zM206.9 87.7h1v1h-1zM211.2 88.9h1v1h-1zM215.2 83.0h1v1h-1zM194.0 91.6h1v1h-1zM220.0 98.0h1v1h-1zM215.6 91.7h1v1h-1zM217.9 92.6h1v1h-1zM202.4 86.6h1v1h-1zM204.5 97.4h1v1h-1zM206.2 87.5h1v1h-1zM214.7 94.6h1v1h-1zM212.9 91.5h1v1h-1zM213.5 86.7h1v1h-1zM230.1 95.6h1v1h-1zM225.3 91.1h1v1h-1zM205.0 91.8h1v1h-1zM205.7 93.0h1v1h-1zM229.4 90.9h1v1h-1zM209.0 89.3h1v1h-1zM226.0 93.1h1v1h-1zM228.2 89.2h1v1h-1zM206.8 91.3h1v1h-1zM209.5 88.0h1v1h-1zM213.0 84.3h1v1h-1zM203.6 88.0h1v1h-1zM202.4 88.8h1v1h-1zM208.2 91.1h1v1h-1zM220.7 96.3h1v1h-1zM207.7 83.4h1v1h-1zM210.1 91.6h1v1h-1zM207.5 81.0h1v1h-1zM198.6 86.3h1v1h-1zM227.0 88.7h1v1h-1zM188.8 80.9h1v1h-1zM205.7 82.6h1v1h-1zM217.8 91.7h1v1h-1zM198.2 91.3h1v1h-1zM218.2 90.5h1v1h-1zM224.7 87.4h1v1h-1zM214.3 90.3h1v1h-1zM201.1 87.1h1v1h-1zM217.3 98.6h1v1h-1zM213.1 93.8h1v1h-1zM214.4 89.3h1v1h-1zM225.9 96.4h1v1h-1zM216.9 91.7h1v1h-1zM225.7 93.9h1v1h-1zM218.5 92.1h1v1h-1zM200.2 86.4h1v1h-1zM214.8 95.4h1v1h-1zM217.1 91.7h1v1h-1zM197.7 86.5h1v1h-1zM225.5 87.6h1v1h-1zM212.9 95.3h1v1h-1zM215.9 89.3h1v1h-1zM203.2 91.2h1v1h-1zM212.9 93.9h1v1h-1zM215.2 91.6h1v1h-1zM208.9 84.1h1v1h-1zM213.0 93.9h1v1h-1zM191.0 95.2h1v1h-1zM225.8 94.9h1v1h-1zM201.0 98.3h1v1h-1zM190.4 92.6h1v1h-1zM202.6 94.5h1v1h-1zM203.8 98.2h1v1h-1zM217.6 89.7h1v1h-1zM203.1 98.8h1v1h-1zM215.0 98.8h1v1h-1zM202.6 94.5h1v1h-1zM234.3 99.3h1v1h-1zM217.6 94.8h1v1h-1zM231.7 87.0h1v1h-1zM202.0 96.1h1v1h-1zM218.8 92.5h1v1h-1zM202.6 92.9h1v1h-1zM218.0 91.7h1v1h-1zM219.0 97.1h1v1h-1zM196.2 93.5h1v1h-1zM200.8 87.9h1v1h-1zM200.5 93.2h1v1h-1zM197.1 94.3h1v1h-1zM204.9 87.7h1v1h-1zM202.6 89.0h1v1h-1zM197.7 89.3h1v1h-1zM213.1 88.3h1v1h-1zM217.6 92.6h1v1h-1zM199.0 95.6h1v1h-1zM206.6 99.5h1v1h-1zM212.2 96.4h1v1h-1zM209.8 95.6h1v1h-1zM205.1 96.1h1v1h-1zM220.2 97.0h1v1h-1zM220.6 89.3h1v1h-1zM218.9 94.1h1v1h-1zM210.0 92.5h1v1h-1zM232.0 90.4h1v1h-1zM229.5 89.0h1v1h-1zM208.1 88.7h1v1h-1zM210.9 89.8h1v1h-1zM224.0 85.4h1v1h-1zM204.1 93.3h1v1h-1zM216.1 90.9h1v1h-1zM212.6 91.5h1v1h-1zM205.1 92.5h1v1h-1zM209.8 94.3h1v1h-1zM196.4 88.3h1v1h-1zM206.7 90.5h1v1h-1zM192.1 83.8h1v1h-1zM234.9 81.0h1v1h-1zM227.2 82.3h1v1h-1zM224.4 97.9h1v1h-1zM215.1 82.8h1v1h-1zM222.1 93.1h1v1h-1zM224.8 97.6h1v1h-1zM222.2 88.9h1v1h-1zM221.3 98.3h1v1h-1zM203.0 99.3h1v1h-1zM216.4 95.3h1v1h-1zM200.3 93.8h1v1h-1zM200.6 87.7h1v1h-1zM216.3 93.4h1v1h-1zM222.6 89.0h1v1h-1zM198.4 85.2h1v1h-1zM229.5 85.3h1v1h-1zM208.2 88.6h1v1h-1zM207.4 90.9h1v1h-1zM211.3 88.0h1v1h-1zM221.9 91.7h1v1h-1zM208.2 90.0h1v1h-1zM201.0 89.2h1v1h-1zM215.5 85.6h1v1h-1zM191.4 84.7h1v1h-1zM213.4 87.7h1v1h-1zM223.6 92.4h1v1h-1zM219.8 95.8h1v1h-1zM216.9 99.3h1v1h-1zM219.3 93.2h1v1h-1zM213.5 90.7h1v1h-1zM203.7 85.1h1v1h-1zM209.8 91.1h1v1h-1zM211.3 81.4h1v1h-1zM224.6 89.7h1v1h-1zM228.3 98.4h1v1h-1zM216.2 92.6h1v1h-1zM204.5 96.2h1v1h-1zM204.7 89.4h1v1h-1zM210.1 84.9h1v1h-1zM225.9 88.9h1v1h-1zM215.3 89.3h1v1h-1zM211.4 96.5h1v1h-1zM220.8 87.8h1v1h-1zM214.9 89.5h1v1h-1zM211.5 90.4h1v1h-1zM213.0 89.5h1v1h-1zM228.9 85.5h1v1h-1zM210.4 91.5h1v1h-1zM228.9 92.7h1v1h-1zM224.4 92.8h1v1h-1zM212.5 85.7h1v1h-1zM220.8 90.6h1v1h-1zM210.8 83.3h1v1h-1zM203.7 95.2h1v1h-1zM209.3 86.5h1v1h-1zM202.9 89.9h1v1h-1zM217.1 89.1h1v1h-1zM212.1 88.5h1v1h-1zM217.7 86.4h1v1h-1zM220.3 83.2h1v1h-1zM215.1 92.3h1v1h-1zM194.0 92.3h1v1h-1zM203.2 90.7h1v1h-1zM213.0 93.6h1v1h-1zM225.7 91.2h1v1h-1zM194.9 96.5h1v1h-1zM213.9 93.4h1v1h-1zM211.2 92.6h1v1h-1zM193.1 90.0h1v1h-1zM218.5 92.4h1v1h-1zM212.3 96.4h1v1h-1zM206.9 81.8h1v1h-1zM204.8 90.6h1v1h-1zM244.1 89.3h1v1h-1zM208.1 89.8h1v1h-1zM194.0 82.3h1v1h-1zM202.7 94.4h1v1h-1zM208.3 87.3h1v1h-1zM208.2 90.1h1v1h-1zM211.2 88.9h1v1h-1zM201.5 83.6h1v1h-1zM217.4 89.1h1v1h-1zM207.2 82.9h1v1h-1zM198.4 86.9h1v1h-1zM203.8 89.7h1v1h-1zM208.2 91.1h1v1h-1zM220.5 91.4h1v1h-1zM216.8 90.5h1v1h-1zM212.2 93.1h1v1h-1zM214.2 85.7h1v1h-1zM232.4 88.4h1v1h-1zM205.8 88.2h1v1h-1zM216.7 90.4h1v1h-1zM219.3 88.4h1v1h-1zM202.5 87.3h1v1h-1zM213.9 98.6h1v1h-1zM213.6 91.3h1v1h-1zM207.3 89.6h1v1h-1zM217.7 90.0h1v1h-1zM222.3 90.2h1v1h-1zM223.3 97.4h1v1h-1zM210.1 93.3h1v1h-1zM213.9 96.2h1v1h-1zM235.5 77.1h1v1h-1zM201.0 92.6h1v1h-1zM214.2 95.9h1v1h-1zM213.5 91.3h1v1h-1zM218.6 83.4h1v1h-1zM213.7 93.8h1v1h-1zM219.5 88.5h1v1h-1zM224.8 83.1h1v1h-1zM209.8 88.4h1v1h-1zM214.0 95.9h1v1h-1zM211.4 96.6h1v1h-1zM208.0 94.4h1v1h-1zM211.8 86.4h1v1h-1zM219.4 85.9h1v1h-1zM229.0 90.8h1v1h-1zM229.0 84.7h1v1h-1zM224.8 97.1h1v1h-1zM202.4 93.2h1v1h-1zM227.2 95.2h1v1h-1zM204.8 91.6h1v1h-1zM211.5 90.9h1v1h-1zM230.5 92.0h1v1h-1zM201.3 82.7h1v1h-1zM220.4 95.6h1v1h-1zM214.8 95.3h1v1h-1zM210.5 89.4h1v1h-1zM203.2 91.1h1v1h-1zM216.2 92.5h1v1h-1zM207.4 98.2h1v1h-1zM222.5 93.1h1v1h-1zM224.2 91.4h1v1h-1zM198.2 88.9h1v1h-1zM206.9 84.4h1v1h-1zM208.8 88.5h1v1h-1zM200.2 91.5h1v1h-1zM200.8 90.1h1v1h-1zM212.9 91.5h1v1h-1zM209.9 94.5h1v1h-1zM195.5 93.2h1v1h-1zM206.6 92.4h1v1h-1zM217.2 94.2h1v1h-1zM199.9 92.0h1v1h-1zM202.8 91.1h1v1h-1zM227.9 93.3h1v1h-1zM225.2 83.4h1v1h-1zM195.8 96.8h1v1h-1zM198.5 85.4h1v1h-1zM215.8 95.0h1v1h-1zM200.1 91.3h1v1h-1zM209.5 96.2h1v1h-1zM207.5 91.4h1v1h-1zM217.6 87.0h1v1h-1zM186.7 96.0h1v1h-1zM190.0 92.0h1v1h-1zM199.7 91.8h1v1h-1zM222.1 91.6h1v1h-1zM210.5 95.7h1v1h-1zM194.9 94.9h1v1h-1zM216.9 92.3h1v1h-1zM219.1 84.2h1v1h-1zM209.5 89.4h1v1h-1zM208.7 91.7h1v1h-1zM216.4 99.3h1v1h-1zM224.1 93.0h1v1h-1zM213.5 90.8h1v1h-1zM217.3 96.6h1v1h-1zM211.5 90.7h1v1h-1zM208.2 91.1h1v1h-1zM202.8 91.9h1v1h-1zM214.6 84.5h1v1h-1zM209.0 95.6h1v1h-1zM209.6 93.2h1v1h-1zM221.3 90.0h1v1h-1zM216.9 86.1h1v1h-1zM220.7 92.2h1v1h-1zM196.2 97.5h1v1h-1zM217.6 88.4h1v1h-1zM206.1 86.5h1v1h-1zM203.9 93.1h1v1h-1zM203.5 84.1h1v1h-1zM224.1 81.3h1v1h-1zM220.3 89.3h1v1h-1zM204.8 88.1h1v1h-1zM200.6 90.0h1v1h-1zM212.1 88.8h1v1h-1zM207.4 92.7h1v1h-1zM228.6 90.3h1v1h-1zM197.4 88.6h1v1h-1zM193.7 89.2h1v1h-1zM209.4 94.1h1v1h-1zM212.1 95.6h1v1h-1zM213.3 95.3h1v1h-1zM219.5 94.4h1v1h-1zM232.7 76.4h1v1h-1zM208.6 86.8h1v1h-1zM206.6 89.8h1v1h-1zM194.4 92.2h1v1h-1zM214.4 84.0h1v1h-1zM220.5 97.7h1v1h-1zM209.4 92.6h1v1h-1zM223.8 88.5h1v1h-1zM212.3 92.0h1v1h-1zM227.1 89.7h1v1h-1zM215.3 87.8h1v1h-1zM201.4 93.5h1v1h-1zM205.6 89.2h1v1h-1zM196.7 84.9h1v1h-1zM194.6 88.4h1v1h-1zM214.7 90.8h1v1h-1zM220.7 86.4h1v1h-1zM231.5 96.9h1v1h-1zM211.4 86.4h1v1h-1zM209.6 99.2h1v1h-1zM200.9 95.3h1v1h-1zM221.9 87.0h1v1h-1zM215.9 91.9h1v1h-1zM206.0 96.6h1v1h-1zM218.9 90.4h1v1h-1zM217.6 85.9h1v1h-1zM193.3 91.8h1v1h-1zM213.4 84.6h1v1h-1zM208.1 93.8h1v1h-1zM207.8 91.3h1v1h-1zM229.5 90.8h1v1h-1zM227.4 89.5h1v1h-1zM230.3 89.9h1v1h-1zM200.5 96.0h1v1h-1zM205.5 94.0h1v1h-1zM221.1 86.8h1v1h-1zM199.9 98.3h1v1h-1zM204.8 85.5h1v1h-1zM194.0 94.3h1v1h-1zM230.5 92.1h1v1h-1zM222.6 96.7h1v1h-1zM216.6 92.9h1v1h-1zM214.2 96.1h1v1h-1zM207.8 91.2h1v1h-1zM208.0 95.7h1v1h-1zM218.2 92.9h1v1h-1zM224.3 88.2h1v1h-1zM207.1 96.7h1v1h-1zM203.3 93.4h1v1h-1zM225.0 92.1h1v1h-1zM210.6 88.8h1v1h-1zM217.5 93.3h1v1h-1zM207.9 84.7h1v1h-1zM189.5 85.2h1v1h-1zM217.5 94.5h1v1h-1zM198.5 84.3h1v1h-1zM222.8 97.8h1v1h-1zM196.5 90.1h1v1h-1zM193.4 92.5h1v1h-1zM215.1 91.7h1v1h-1zM216.3 93.2h1v1h-1zM213.1 90.1h1v1h-1zM199.9 89.7h1v1h-1zM220.9 90.8h1v1h-1zM228.1 77.0h1v1h-1zM228.9 73.3h1v1h-1zM230.1 74.4h1v1h-1zM222.0 79.5h1v1h-1zM216.9 76.7h1v1h-1zM203.6 71.4h1v1h-1zM224.5 73.7h1v1h-1zM226.2 73.8h1v1h-1zM215.1 77.0h1v1h-1zM225.9 78.1h1v1h-1zM230.3 77.7h1v1h-1zM219.5 74.0h1v1h-1zM228.2 77.3h1v1h-1zM221.5 70.4h1v1h-1zM203.1 62.8h1v1h-1zM214.4 76.9h1v1h-1zM215.0 68.9h1v1h-1zM223.5 72.5h1v1h-1zM210.9 71.2h1v1h-1zM214.7 80.3h1v1h-1zM210.0 71.1h1v1h-1zM218.3 78.6h1v1h-1zM219.3 74.7h1v1h-1zM227.5 71.0h1v1h-1zM225.9 69.3h1v1h-1zM220.2 79.5h1v1h-1zM220.9 79.1h1v1h-1zM219.7 81.0h1v1h-1zM219.7 86.3h1v1h-1zM232.6 78.5h1v1h-1zM196.3 78.5h1v1h-1zM217.1 76.5h1v1h-1zM221.5 77.6h1v1h-1zM228.9 75.4h1v1h-1zM208.8 72.6h1v1h-1zM221.8 87.1h1v1h-1zM226.5 67.8h1v1h-1zM214.7 78.4h1v1h-1zM201.5 79.3h1v1h-1zM215.5 77.8h1v1h-1zM207.9 72.3h1v1h-1zM224.6 76.1h1v1h-1zM211.0 74.8h1v1h-1zM234.7 71.7h1v1h-1zM220.0 76.8h1v1h-1zM211.4 75.0h1v1h-1zM214.2 74.3h1v1h-1zM208.9 80.5h1v1h-1zM222.2 71.7h1v1h-1zM232.1 79.2h1v1h-1zM216.8 74.0h1v1h-1zM227.0 79.2h1v1h-1zM210.2 77.4h1v1h-1zM221.5 78.2h1v1h-1zM239.4 72.1h1v1h-1zM206.0 73.1h1v1h-1zM229.8 72.7h1v1h-1zM229.3 77.9h1v1h-1zM201.8 80.7h1v1h-1zM205.8 82.4h1v1h-1zM209.9 74.5h1v1h-1zM227.4 77.4h1v1h-1zM214.8 68.9h1v1h-1zM217.2 65.9h1v1h-1zM225.1 72.6h1v1h-1zM219.8 73.6h1v1h-1zM220.7 69.2h1v1h-1zM215.8 68.1h1v1h-1zM228.8 79.6h1v1h-1zM211.7 72.9h1v1h-1zM233.8 68.6h1v1h-1zM215.6 88.5h1v1h-1zM211.5 77.8h1v1h-1zM224.5 75.3h1v1h-1zM222.7 80.3h1v1h-1zM200.9 73.1h1v1h-1zM220.7 84.8h1v1h-1zM206.5 69.2h1v1h-1zM211.2 70.4h1v1h-1zM225.8 76.2h1v1h-1zM210.9 73.1h1v1h-1zM221.9 83.9h1v1h-1zM215.2 68.9h1v1h-1zM236.1 73.2h1v1h-1zM217.8 78.1h1v1h-1zM208.1 79.7h1v1h-1zM208.7 81.9h1v1h-1zM210.5 78.6h1v1h-1zM219.8 87.8h1v1h-1zM218.6 74.5h1v1h-1zM227.4 77.7h1v1h-1zM220.1 81.1h1v1h-1zM219.8 75.3h1v1h-1zM221.5 75.4h1v1h-1zM217.4 74.5h1v1h-1zM221.2 73.6h1v1h-1zM225.7 71.2h1v1h-1zM225.7 74.1h1v1h-1zM213.7 69.1h1v1h-1zM202.7 78.7h1v1h-1zM211.3 68.9h1v1h-1zM221.1 87.1h1v1h-1zM196.2 85.3h1v1h-1zM214.3 82.3h1v1h-1zM222.6 75.7h1v1h-1zM213.5 73.9h1v1h-1zM208.5 82.9h1v1h-1zM234.3 77.7h1v1h-1zM231.0 79.6h1v1h-1zM216.2 73.2h1v1h-1zM230.5 82.1h1v1h-1zM230.2 72.8h1v1h-1zM208.4 77.3h1v1h-1zM242.7 68.2h1v1h-1zM210.1 73.5h1v1h-1zM216.2 79.3h1v1h-1zM208.7 74.5h1v1h-1zM219.2 74.5h1v1h-1zM206.7 80.7h1v1h-1zM218.5 76.4h1v1h-1zM228.3 82.9h1v1h-1zM220.4 64.7h1v1h-1zM216.1 79.6h1v1h-1zM232.4 79.3h1v1h-1zM210.4 69.1h1v1h-1zM227.2 70.3h1v1h-1zM215.8 81.1h1v1h-1zM220.4 71.4h1v1h-1zM218.8 73.6h1v1h-1zM219.6 79.7h1v1h-1zM231.7 71.6h1v1h-1zM236.5 73.0h1v1h-1zM228.5 68.2h1v1h-1zM235.5 68.6h1v1h-1zM240.2 75.8h1v1h-1zM235.6 76.6h1v1h-1zM220.6 70.3h1v1h-1zM237.6 66.4h1v1h-1zM234.0 83.2h1v1h-1zM228.3 77.7h1v1h-1zM242.0 74.4h1v1h-1zM223.3 68.3h1v1h-1zM244.9 70.3h1v1h-1zM229.9 73.9h1v1h-1zM243.1 68.6h1v1h-1zM233.4 80.0h1v1h-1zM225.7 73.5h1v1h-1zM234.2 74.6h1v1h-1zM235.7 68.3h1v1h-1zM236.9 68.8h1v1h-1zM240.0 69.3h1v1h-1zM228.3 74.1h1v1h-1zM236.6 71.7h1v1h-1zM238.1 71.6h1v1h-1zM232.1 74.2h1v1h-1zM228.1 73.8h1v1h-1zM228.0 79.4h1v1h-1zM238.2 72.0h1v1h-1zM238.4 68.4h1v1h-1zM228.7 72.8h1v1h-1zM225.7 79.3h1v1h-1zM241.1 70.4h1v1h-1zM224.4 73.1h1v1h-1zM234.6 71.3h1v1h-1zM228.9 74.6h1v1h-1zM223.2 74.0h1v1h-1zM234.4 69.3h1v1h-1zM232.5 71.8h1v1h-1zM242.3 77.0h1v1h-1zM247.2 77.7h1v1h-1zM232.5 76.9h1v1h-1zM239.8 76.7h1v1h-1zM239.9 71.4h1v1h-1zM230.5 71.2h1v1h-1zM228.5 77.0h1v1h-1zM243.3 67.7h1v1h-1zM231.5 72.6h1v1h-1zM233.5 64.6h1v1h-1zM231.9 71.2h1v1h-1zM232.9 69.7h1v1h-1zM230.1 67.5h1v1h-1zM238.1 75.4h1v1h-1zM241.2 69.6h1v1h-1zM231.4 71.2h1v1h-1zM225.4 71.7h1v1h-1zM234.0 69.6h1v1h-1zM224.8 79.1h1v1h-1zM229.8 70.7h1v1h-1zM241.0 73.7h1v1h-1zM247.5 67.1h1v1h-1zM235.9 70.8h1v1h-1zM227.3 71.4h1v1h-1zM238.3 71.5h1v1h-1zM220.3 70.3h1v1h-1zM229.5 73.5h1v1h-1zM242.8 79.7h1v1h-1zM238.1 72.3h1v1h-1zM225.4 72.2h1v1h-1zM223.7 71.1h1v1h-1zM238.8 84.1h1v1h-1zM233.4 80.0h1v1h-1zM230.1 75.3h1v1h-1zM236.1 76.0h1v1h-1zM230.2 69.7h1v1h-1zM222.2 72.2h1v1h-1zM238.5 73.8h1v1h-1zM229.8 73.4h1v1h-1zM227.7 69.1h1v1h-1zM225.7 69.4h1v1h-1zM235.2 75.1h1v1h-1zM228.9 74.2h1v1h-1zM237.4 63.6h1v1h-1zM232.1 73.3h1v1h-1zM240.1 78.5h1v1h-1zM231.4 70.0h1v1h-1zM229.8 73.9h1v1h-1zM221.9 66.4h1v1h-1zM227.1 76.5h1v1h-1zM238.0 67.9h1v1h-1zM251.9 67.3h1v1h-1zM226.2 71.5h1v1h-1zM227.5 83.3h1v1h-1zM235.7 70.2h1v1h-1zM236.5 67.3h1v1h-1zM229.6 74.9h1v1h-1zM234.1 73.9h1v1h-1zM224.1 80.2h1v1h-1zM231.9 67.3h1v1h-1zM239.0 65.8h1v1h-1zM243.4 71.5h1v1h-1zM232.7 74.5h1v1h-1zM232.1 74.4h1v1h-1zM236.4 77.6h1v1h-1zM240.3 66.3h1v1h-1zM236.6 69.2h1v1h-1zM229.2 72.3h1v1h-1zM235.8 76.6h1v1h-1zM239.4 75.0h1v1h-1zM229.4 71.0h1v1h-1zM225.7 68.4h1v1h-1zM236.7 76.8h1v1h-1zM235.9 77.1h1v1h-1zM239.4 84.8h1v1h-1zM234.2 72.1h1v1h-1zM229.8 80.0h1v1h-1zM231.1 67.5h1v1h-1zM227.5 70.5h1v1h-1zM228.0 69.9h1v1h-1zM230.3 70.8h1v1h-1zM230.8 69.0h1v1h-1zM240.3 70.5h1v1h-1zM226.4 72.6h1v1h-1zM233.4 70.9h1v1h-1zM230.2 75.8h1v1h-1zM242.6 72.5h1v1h-1zM235.3 72.9h1v1h-1zM231.5 79.4h1v1h-1zM238.6 74.3h1v1h-1zM234.1 73.5h1v1h-1zM230.9 72.8h1v1h-1zM242.9 73.1h1v1h-1zM237.9 75.4h1v1h-1zM244.0 69.3h1v1h-1zM240.6 77.9h1v1h-1zM238.3 79.8h1v1h-1zM234.5 78.0h1v1h-1zM227.2 70.7h1v1h-1zM237.9 65.8h1v1h-1zM234.2 70.9h1v1h-1zM237.8 73.5h1v1h-1zM233.7 76.5h1v1h-1zM229.6 72.1h1v1h-1zM227.7 71.5h1v1h-1zM237.9 79.6h1v1h-1zM241.4 69.9h1v1h-1zM232.0 77.6h1v1h-1zM236.4 76.9h1v1h-1zM242.0 67.0h1v1h-1zM228.8 74.1h1v1h-1zM231.7 70.4h1v1h-1zM227.1 68.7h1v1h-1zM240.8 64.7h1v1h-1zM235.3 66.0h1v1h-1zM231.0 74.7h1v1h-1zM223.9 71.2h1v1h-1zM232.7 74.1h1v1h-1zM239.7 68.2h1v1h-1zM232.0 71.5h1v1h-1zM231.2 71.7h1v1h-1zM237.6 66.1h1v1h-1zM226.4 65.5h1v1h-1zM234.1 74.8h1v1h-1zM237.3 73.5h1v1h-1zM229.1 68.8h1v1h-1zM228.8 72.4h1v1h-1zM235.2 75.8h1v1h-1zM233.2 80.9h1v1h-1zM232.4 69.0h1v1h-1zM235.0 75.6h1v1h-1zM235.1 82.2h1v1h-1zM228.3 73.2h1v1h-1zM229.8 79.3h1v1h-1zM236.4 61.5h1v1h-1zM240.5 79.3h1v1h-1zM241.8 72.8h1v1h-1zM228.7 64.6h1v1h-1zM240.3 76.3h1v1h-1zM238.3 77.5h1v1h-1zM233.6 78.2h1v1h-1zM236.7 78.2h1v1h-1zM238.7 72.7h1v1h-1zM244.4 69.6h1v1h-1zM227.5 70.8h1v1h-1zM237.4 72.7h1v1h-1zM233.0 74.7h1v1h-1zM232.6 70.7h1v1h-1zM240.6 73.1h1v1h-1zM238.7 76.7h1v1h-1zM227.8 74.3h1v1h-1zM232.1 83.0h1v1h-1zM235.2 82.4h1v1h-1zM225.4 67.8h1v1h-1zM238.9 70.4h1v1h-1zM233.4 67.1h1v1h-1zM234.8 67.7h1v1h-1zM235.8 75.3h1v1h-1zM244.6 68.5h1v1h-1zM234.0 68.2h1v1h-1zM231.7 71.7h1v1h-1zM244.1 76.4h1v1h-1zM230.8 71.3h1v1h-1zM230.7 71.3h1v1h-1zM225.6 76.9h1v1h-1zM240.2 75.0h1v1h-1zM235.4 74.9h1v1h-1zM236.6 77.1h1v1h-1zM234.8 68.4h1v1h-1zM233.0 73.8h1v1h-1zM229.2 70.1h1v1h-1zM229.2 77.4h1v1h-1zM236.4 76.5h1v1h-1zM234.6 68.3h1v1h-1zM243.5 78.8h1v1h-1zM229.3 67.7h1v1h-1zM230.9 78.0h1v1h-1zM227.8 73.8h1v1h-1zM242.0 69.0h1v1h-1zM226.5 67.9h1v1h-1zM238.4 71.5h1v1h-1zM242.4 72.8h1v1h-1zM233.0 69.7h1v1h-1zM238.1 75.4h1v1h-1zM221.2 66.7h1v1h-1zM231.5 72.8h1v1h-1zM224.0 72.9h1v1h-1zM234.9 64.6h1v1h-1zM233.9 74.2h1v1h-1zM229.3 67.3h1v1h-1zM239.4 61.8h1v1h-1zM235.9 70.1h1v1h-1zM230.7 71.9h1v1h-1zM230.8 76.9h1v1h-1zM225.1 70.7h1v1h-1zM232.7 79.4h1v1h-1zM246.4 79.2h1v1h-1zM229.6 77.7h1v1h-1zM236.3 78.7h1v1h-1zM230.6 74.4h1v1h-1zM238.6 70.4h1v1h-1zM236.5 75.7h1v1h-1zM232.5 77.2h1v1h-1zM223.3 73.9h1v1h-1zM230.8 71.8h1v1h-1zM241.0 65.9h1v1h-1zM232.4 75.9h1v1h-1zM237.6 74.4h1v1h-1zM231.0 67.1h1v1h-1zM222.8 73.3h1v1h-1zM236.4 76.1h1v1h-1zM235.7 72.4h1v1h-1zM230.4 76.3h1v1h-1zM231.7 76.2h1v1h-1zM235.6 66.3h1v1h-1zM230.3 71.5h1v1h-1zM235.9 75.0h1v1h-1zM232.6 76.9h1v1h-1zM219.9 79.1h1v1h-1zM233.0 64.4h1v1h-1zM230.3 72.6h1v1h-1zM228.9 76.0h1v1h-1zM236.2 78.3h1v1h-1zM231.0 80.4h1v1h-1zM237.1 68.7h1v1h-1zM240.3 71.2h1v1h-1zM234.7 68.2h1v1h-1zM224.7 76.5h1v1h-1zM229.5 67.0h1v1h-1zM239.3 78.1h1v1h-1zM232.3 77.0h1v1h-1zM229.1 75.0h1v1h-1zM233.3 63.2h1v1h-1zM236.9 69.9h1v1h-1zM235.4 76.2h1v1h-1zM237.7 66.6h1v1h-1zM229.0 71.8h1v1h-1zM232.2 72.4h1v1h-1zM232.4 76.8h1v1h-1zM233.7 74.1h1v1h-1zM221.4 74.1h1v1h-1zM232.5 70.9h1v1h-1zM225.9 72.9h1v1h-1zM242.1 72.3h1v1h-1zM243.1 76.1h1v1h-1zM243.8 72.1h1v1h-1zM238.7 77.5h1v1h-1zM231.0 65.3h1v1h-1zM239.6 78.2h1v1h-1zM232.7 72.1h1v1h-1zM237.5 77.9h1v1h-1zM228.5 73.2h1v1h-1zM230.4 76.7h1v1h-1zM236.6 79.5h1v1h-1zM244.4 70.4h1v1h-1zM233.7 73.2h1v1h-1zM247.3 72.1h1v1h-1zM250.2 73.8h1v1h-1zM226.3 65.7h1v1h-1zM233.7 72.1h1v1h-1zM228.2 71.7h1v1h-1zM233.1 69.4h1v1h-1zM230.7 72.0h1v1h-1zM233.5 66.0h1v1h-1zM239.6 79.1h1v1h-1zM239.5 74.8h1v1h-1zM235.4 81.2h1v1h-1zM233.9 69.0h1v1h-1zM234.6 67.7h1v1h-1zM234.7 74.1h1v1h-1zM237.3 65.4h1v1h-1zM233.9 73.9h1v1h-1zM236.9 69.7h1v1h-1zM226.1 71.4h1v1h-1zM238.6 74.0h1v1h-1zM244.3 73.1h1v1h-1zM235.0 81.1h1v1h-1zM225.5 75.7h1v1h-1zM241.9 67.1h1v1h-1zM232.0 77.2h1v1h-1zM216.2 66.9h1v1h-1zM232.6 73.2h1v1h-1zM237.5 67.3h1v1h-1zM236.2 69.2h1v1h-1zM241.3 78.7h1v1h-1zM237.6 70.4h1v1h-1zM234.7 70.0h1v1h-1zM222.2 70.3h1v1h-1zM227.3 71.4h1v1h-1zM235.0 79.2h1v1h-1zM237.9 67.6h1v1h-1zM227.8 67.3h1v1h-1zM230.3 75.4h1v1h-1zM236.7 65.7h1v1h-1zM222.6 71.2h1v1h-1zM222.4 77.9h1v1h-1zM232.6 72.8h1v1h-1zM235.4 70.7h1v1h-1zM231.1 69.7h1v1h-1zM220.3 68.7h1v1h-1zM234.1 70.2h1v1h-1zM226.0 73.4h1v1h-1zM237.8 78.3h1v1h-1zM233.3 77.1h1v1h-1zM235.5 70.3h1v1h-1zM237.7 69.6h1v1h-1zM230.8 75.9h1v1h-1zM238.8 64.7h1v1h-1zM241.3 70.8h1v1h-1zM236.3 71.4h1v1h-1zM241.8 67.9h1v1h-1zM230.2 68.4h1v1h-1zM239.4 74.3h1v1h-1zM235.5 65.4h1v1h-1zM228.1 68.7h1v1h-1zM233.5 69.9h1v1h-1zM230.8 73.1h1v1h-1zM230.6 66.7h1v1h-1zM234.4 77.6h1v1h-1zM240.2 71.4h1v1h-1zM232.0 71.6h1v1h-1zM234.7 71.1h1v1h-1zM225.2 69.8h1v1h-1zM234.6 68.4h1v1h-1zM240.8 77.8h1v1h-1zM238.7 73.6h1v1h-1zM236.8 72.2h1v1h-1zM230.8 77.1h1v1h-1zM228.1 69.6h1v1h-1zM233.4 75.5h1v1h-1zM226.0 72.8h1v1h-1zM226.6 68.8h1v1h-1zM239.5 76.1h1v1h-1zM228.5 66.1h1v1h-1zM244.6 75.6h1v1h-1zM225.4 68.8h1v1h-1zM236.5 74.5h1v1h-1zM227.0 78.8h1v1h-1zM235.0 75.2h1v1h-1zM227.8 70.0h1v1h-1zM234.2 72.6h1v1h-1zM233.0 71.1h1v1h-1zM231.2 67.5h1v1h-1zM237.0 67.8h1v1h-1zM242.9 72.9h1v1h-1zM230.4 75.0h1v1h-1zM239.2 64.8h1v1h-1zM234.4 72.3h1v1h-1zM233.8 74.9h1v1h-1zM247.0 73.1h1v1h-1zM221.0 68.2h1v1h-1zM229.9 77.2h1v1h-1zM223.2 67.3h1v1h-1zM232.1 75.5h1v1h-1zM232.6 79.7h1v1h-1zM256.6 63.6h1v1h-1zM236.0 73.8h1v1h-1zM244.6 74.0h1v1h-1zM241.6 73.6h1v1h-1zM231.3 69.2h1v1h-1zM236.8 71.2h1v1h-1zM243.9 66.4h1v1h-1zM235.0 73.2h1v1h-1zM235.2 75.0h1v1h-1zM236.9 69.7h1v1h-1zM225.0 68.5h1v1h-1zM229.1 70.5h1v1h-1zM235.9 72.6h1v1h-1zM237.2 72.9h1v1h-1zM228.5 72.1h1v1h-1zM232.0 72.9h1v1h-1zM233.2 66.8h1v1h-1zM233.0 60.5h1v1h-1zM238.0 75.3h1v1h-1zM234.6 78.9h1v1h-1zM234.9 66.3h1v1h-1zM225.5 69.6h1v1h-1zM227.7 73.9h1v1h-1zM235.8 76.8h1v1h-1zM224.4 75.4h1v1h-1zM235.5 78.2h1v1h-1zM230.0 72.3h1v1h-1zM229.1 74.4h1v1h-1zM237.8 74.4h1v1h-1zM229.9 70.7h1v1h-1zM228.8 77.9h1v1h-1zM229.9 75.3h1v1h-1zM234.2 76.9h1v1h-1zM250.3 70.8h1v1h-1zM221.3 77.1h1v1h-1zM233.8 67.9h1v1h-1zM232.5 74.3h1v1h-1zM239.6 61.0h1v1h-1zM231.7 68.1h1v1h-1zM219.2 75.8h1v1h-1zM241.8 70.6h1v1h-1zM227.4 73.3h1v1h-1zM233.5 65.4h1v1h-1zM225.7 79.4h1v1h-1zM227.4 75.2h1v1h-1zM230.9 72.4h1v1h-1zM239.0 74.4h1v1h-1zM238.9 74.0h1v1h-1zM230.3 78.8h1v1h-1zM236.9 73.5h1v1h-1zM231.6 66.1h1v1h-1zM234.5 71.4h1v1h-1zM234.8 78.2h1v1h-1zM237.6 75.1h1v1h-1zM230.2 70.7h1v1h-1zM233.1 75.2h1v1h-1zM235.1 73.1h1v1h-1zM234.4 75.2h1v1h-1zM229.1 65.6h1v1h-1zM244.1 68.6h1v1h-1zM231.1 75.5h1v1h-1zM238.4 71.6h1v1h-1zM235.1 74.1h1v1h-1zM241.1 81.2h1v1h-1zM220.8 71.2h1v1h-1zM246.1 73.6h1v1h-1zM232.6 70.1h1v1h-1zM226.5 69.8h1v1h-1zM234.6 72.2h1v1h-1zM247.3 66.2h1v1h-1zM236.8 63.3h1v1h-1zM226.5 78.6h1v1h-1zM231.1 72.1h1v1h-1zM241.8 77.5h1v1h-1zM225.5 73.1h1v1h-1zM232.7 73.2h1v1h-1zM232.1 75.5h1v1h-1zM246.7 75.7h1v1h-1zM232.1 67.3h1v1h-1zM241.7 77.9h1v1h-1zM229.8 68.3h1v1h-1zM229.0 73.4h1v1h-1zM239.8 83.8h1v1h-1zM237.5 72.9h1v1h-1zM223.5 79.9h1v1h-1zM237.6 71.0h1v1h-1zM237.6 75.3h1v1h-1zM230.2 72.8h1v1h-1zM235.1 74.4h1v1h-1zM235.4 68.8h1v1h-1zM230.9 68.5h1v1h-1zM230.3 74.0h1v1h-1zM229.8 65.7h1v1h-1zM232.2 68.8h1v1h-1zM225.9 75.4h1v1h-1zM233.6 69.9h1v1h-1zM224.9 68.7h1v1h-1zM234.3 67.7h1v1h-1zM233.3 73.2h1v1h-1zM227.6 71.0h1v1h-1zM238.9 73.2h1v1h-1zM245.3 71.7h1v1h-1zM241.7 80.7h1v1h-1zM225.7 70.6h1v1h-1zM241.4 64.0h1v1h-1zM235.1 73.1h1v1h-1zM233.5 72.6h1v1h-1zM230.3 73.2h1v1h-1zM233.8 65.5h1v1h-1zM242.1 77.5h1v1h-1zM237.0 72.4h1v1h-1zM231.3 72.4h1v1h-1zM229.8 65.6h1v1h-1zM231.3 74.6h1v1h-1zM237.3 72.3h1v1h-1zM244.9 78.5h1v1h-1zM227.5 70.7h1v1h-1zM233.8 67.1h1v1h-1zM231.5 73.1h1v1h-1zM229.3 68.6h1v1h-1zM236.2 74.4h1v1h-1zM237.1 67.8h1v1h-1zM225.4 72.0h1v1h-1zM227.6 71.6h1v1h-1zM240.9 72.4h1v1h-1zM235.7 70.3h1v1h-1zM236.9 69.0h1v1h-1zM230.8 72.3h1v1h-1zM231.5 70.0h1v1h-1zM236.5 73.2h1v1h-1zM230.8 71.4h1v1h-1zM227.2 62.7h1v1h-1zM233.8 72.3h1v1h-1zM239.2 78.6h1v1h-1zM227.7 73.9h1v1h-1zM240.1 75.2h1v1h-1zM238.0 74.6h1v1h-1zM228.7 70.5h1v1h-1zM233.8 66.7h1v1h-1zM233.5 76.1h1v1h-1zM237.6 77.2h1v1h-1zM237.8 75.0h1v1h-1zM226.1 74.4h1v1h-1zM225.8 74.3h1v1h-1zM239.9 72.4h1v1h-1zM234.5 73.8h1v1h-1zM236.3 72.6h1v1h-1zM235.8 74.0h1v1h-1zM242.9 68.4h1v1h-1zM226.6 69.8h1v1h-1zM240.3 75.0h1v1h-1zM228.9 71.1h1v1h-1zM238.1 62.0h1v1h-1zM241.8 73.1h1v1h-1zM225.6 62.6h1v1h-1zM236.2 80.9h1v1h-1zM232.1 75.7h1v1h-1zM260.6 79.2h1v1h-1zM252.2 71.5h1v1h-1zM249.3 72.3h1v1h-1zM255.0 81.0h1v1h-1zM256.5 80.3h1v1h-1zM251.6 79.2h1v1h-1zM257.4 76.6h1v1h-1zM260.7 78.9h1v1h-1zM260.1 75.6h1v1h-1zM249.9 76.4h1v1h-1zM242.9 74.5h1v1h-1zM256.4 78.4h1v1h-1zM252.3 76.0h1v1h-1zM259.2 80.8h1v1h-1zM266.7 80.0h1v1h-1zM266.6 74.7h1v1h-1zM258.2 83.9h1v1h-1zM263.3 73.6h1v1h-1zM266.7 79.1h1v1h-1zM256.7 81.3h1v1h-1zM258.1 82.0h1v1h-1zM261.7 69.8h1v1h-1zM256.2 81.0h1v1h-1zM253.3 81.8h1v1h-1zM251.8 82.5h1v1h-1zM256.5 69.7h1v1h-1zM252.6 75.1h1v1h-1zM261.4 77.2h1v1h-1zM254.4 75.9h1v1h-1zM265.6 82.2h1v1h-1zM264.0 75.1h1v1h-1zM248.7 81.8h1v1h-1zM263.2 79.5h1v1h-1zM254.0 72.4h1v1h-1zM265.0 74.0h1v1h-1zM259.7 75.9h1v1h-1zM256.2 77.8h1v1h-1zM260.7 81.0h1v1h-1zM253.0 76.9h1v1h-1zM258.5 80.7h1v1h-1zM258.9 72.0h1v1h-1zM255.6 66.8h1v1h-1zM258.9 76.3h1v1h-1zM250.3 79.1h1v1h-1zM260.0 76.2h1v1h-1zM249.0 74.0h1v1h-1zM260.4 79.0h1v1h-1zM259.5 84.3h1v1h-1zM260.9 77.1h1v1h-1zM253.1 75.0h1v1h-1zM275.3 74.5h1v1h-1zM255.1 84.4h1v1h-1zM257.5 77.4h1v1h-1zM251.9 79.6h1v1h-1zM265.4 81.8h1v1h-1zM253.7 81.3h1v1h-1zM262.7 74.3h1v1h-1zM250.7 80.8h1v1h-1zM258.5 80.5h1v1h-1zM254.3 79.2h1v1h-1zM262.4 81.0h1v1h-1zM254.8 75.5h1v1h-1zM251.3 77.2h1v1h-1zM259.4 75.7h1v1h-1zM249.3 80.2h1v1h-1zM250.7 75.2h1v1h-1zM261.4 78.9h1v1h-1zM245.1 73.7h1v1h-1zM261.3 77.1h1v1h-1zM254.2 76.2h1v1h-1zM251.0 77.1h1v1h-1zM258.2 78.0h1v1h-1zM260.6 76.9h1v1h-1zM253.1 76.7h1v1h-1zM255.6 70.3h1v1h-1zM261.6 81.4h1v1h-1zM261.3 75.3h1v1h-1zM256.4 76.6h1v1h-1zM252.0 74.6h1v1h-1zM250.9 81.0h1v1h-1zM253.0 74.3h1v1h-1zM260.9 79.3h1v1h-1zM260.3 81.6h1v1h-1zM258.6 83.3h1v1h-1zM265.3 81.7h1v1h-1zM254.9 79.7h1v1h-1zM254.4 73.3h1v1h-1zM254.4 82.0h1v1h-1zM268.5 81.7h1v1h-1zM244.1 80.4h1v1h-1zM258.5 80.3h1v1h-1zM259.5 77.8h1v1h-1zM257.2 75.7h1v1h-1zM271.1 81.3h1v1h-1zM264.0 82.0h1v1h-1zM261.5 73.9h1v1h-1zM251.3 80.7h1v1h-1zM259.9 78.4h1v1h-1zM254.5 80.6h1v1h-1zM257.1 78.5h1v1h-1zM258.0 81.4h1v1h-1zM253.9 81.1h1v1h-1zM260.7 80.6h1v1h-1zM266.8 72.7h1v1h-1zM263.2 80.4h1v1h-1zM258.2 77.7h1v1h-1zM245.0 73.6h1v1h-1zM263.5 80.0h1v1h-1zM263.5 72.8h1v1h-1zM255.7 80.7h1v1h-1zM253.9 83.5h1v1h-1zM260.9 75.8h1v1h-1zM251.9 80.8h1v1h-1zM261.8 79.1h1v1h-1zM250.3 79.8h1v1h-1zM251.3 72.9h1v1h-1zM257.0 79.7h1v1h-1zM248.0 78.0h1v1h-1zM256.9 80.1h1v1h-1zM260.2 77.6h1v1h-1zM248.9 81.4h1v1h-1zM262.6 78.5h1v1h-1zM253.5 79.9h1v1h-1zM260.3 82.3h1v1h-1zM258.2 78.2h1v1h-1zM254.1 81.0h1v1h-1zM253.7 78.4h1v1h-1zM246.5 79.4h1v1h-1zM252.7 75.8h1v1h-1zM252.2 80.3h1v1h-1zM267.0 81.8h1v1h-1zM263.2 77.3h1v1h-1zM248.6 80.3h1v1h-1zM261.8 79.1h1v1h-1zM258.3 73.8h1v1h-1zM254.6 78.8h1v1h-1zM259.8 82.2h1v1h-1zM261.8 75.9h1v1h-1zM253.5 71.5h1v1h-1zM255.3 78.3h1v1h-1zM258.0 75.4h1v1h-1zM251.0 84.2h1v1h-1zM258.1 77.5h1v1h-1zM256.5 77.6h1v1h-1zM252.8 75.4h1v1h-1zM251.8 78.5h1v1h-1zM258.8 75.7h1v1h-1zM262.3 74.5h1v1h-1zM259.0 77.4h1v1h-1zM251.8 74.8h1v1h-1zM261.5 82.2h1v1h-1zM258.0 73.6h1v1h-1zM260.6 77.4h1v1h-1zM264.1 75.3h1v1h-1zM251.5 72.9h1v1h-1zM256.1 83.3h1v1h-1zM253.3 70.4h1v1h-1zM251.7 82.6h1v1h-1zM269.2 72.8h1v1h-1zM262.7 77.9h1v1h-1zM246.2 85.4h1v1h-1zM259.6 70.3h1v1h-1zM253.6 72.9h1v1h-1zM264.0 82.1h1v1h-1zM257.5 78.2h1v1h-1zM255.9 75.7h1v1h-1zM257.9 77.5h1v1h-1zM259.3 74.3h1v1h-1zM257.2 78.0h1v1h-1zM255.7 82.8h1v1h-1zM256.1 76.3h1v1h-1zM260.1 78.1h1v1h-1zM250.1 81.8h1v1h-1zM257.0 84.4h1v1h-1zM256.3 75.6h1v1h-1zM254.0 78.7h1v1h-1zM261.5 75.7h1v1h-1zM249.2 75.4h1v1h-1zM254.8 76.3h1v1h-1zM251.8 75.5h1v1h-1zM260.3 71.7h1v1h-1zM254.2 70.8h1v1h-1zM257.3 75.1h1v1h-1zM259.3 78.1h1v1h-1zM247.3 81.8h1v1h-1zM259.7 75.8h1v1h-1zM252.5 77.1h1v1h-1zM255.4 79.9h1v1h-1zM256.3 80.2h1v1h-1zM261.9 77.2h1v1h-1zM261.5 77.4h1v1h-1zM267.7 84.0h1v1h-1zM258.1 76.5h1v1h-1zM254.1 75.9h1v1h-1zM253.9 72.0h1v1h-1zM261.0 79.1h1v1h-1zM266.7 76.7h1v1h-1zM259.1 84.2h1v1h-1zM253.5 76.5h1v1h-1zM258.7 80.4h1v1h-1zM258.6 80.8h1v1h-1zM257.2 83.3h1v1h-1zM252.5 73.1h1v1h-1zM241.6 83.0h1v1h-1zM253.7 77.7h1v1h-1zM263.4 77.3h1v1h-1zM258.3 76.6h1v1h-1zM243.6 76.3h1v1h-1zM257.0 76.4h1v1h-1zM245.8 69.6h1v1h-1zM269.1 79.4h1v1h-1zM258.2 77.8h1v1h-1zM249.7 74.4h1v1h-1zM261.8 77.4h1v1h-1zM252.3 85.5h1v1h-1zM260.4 78.9h1v1h-1zM257.1 76.3h1v1h-1zM249.8 83.5h1v1h-1zM261.0 74.9h1v1h-1zM248.9 77.1h1v1h-1zM265.1 75.7h1v1h-1zM257.4 76.8h1v1h-1zM250.8 80.1h1v1h-1zM246.0 79.6h1v1h-1zM266.8 75.1h1v1h-1zM265.8 77.2h1v1h-1zM249.4 77.9h1v1h-1zM267.0 76.2h1v1h-1zM258.0 77.5h1v1h-1zM255.7 75.2h1v1h-1zM256.5 75.1h1v1h-1zM255.4 77.8h1v1h-1zM265.7 74.1h1v1h-1zM257.9 79.0h1v1h-1zM245.8 77.0h1v1h-1zM269.7 74.5h1v1h-1zM262.4 75.5h1v1h-1zM250.4 76.0h1v1h-1zM254.8 77.1h1v1h-1zM251.5 78.0h1v1h-1zM257.3 76.9h1v1h-1zM259.4 74.7h1v1h-1zM258.4 82.5h1v1h-1zM253.4 80.7h1v1h-1zM252.1 78.0h1v1h-1zM262.1 80.8h1v1h-1zM256.4 78.7h1v1h-1zM270.7 76.7h1v1h-1zM252.1 77.9h1v1h-1zM261.8 86.7h1v1h-1zM257.3 81.0h1v1h-1zM252.4 81.2h1v1h-1zM265.3 76.3h1v1h-1zM257.7 79.6h1v1h-1zM251.6 85.3h1v1h-1zM255.1 79.1h1v1h-1zM263.2 81.3h1v1h-1zM249.6 81.9h1v1h-1zM265.4 79.8h1v1h-1zM261.2 83.0h1v1h-1zM255.3 78.4h1v1h-1zM265.2 79.3h1v1h-1zM267.6 75.5h1v1h-1zM260.6 86.6h1v1h-1zM258.0 78.6h1v1h-1zM268.2 78.0h1v1h-1zM266.1 82.3h1v1h-1zM251.4 75.9h1v1h-1zM255.7 77.6h1v1h-1zM255.7 74.9h1v1h-1zM254.5 77.7h1v1h-1zM247.9 76.3h1v1h-1zM262.5 79.4h1v1h-1zM257.5 77.2h1v1h-1zM257.6 75.6h1v1h-1zM265.6 76.6h1v1h-1zM253.6 77.2h1v1h-1zM256.7 75.9h1v1h-1zM258.7 80.8h1v1h-1zM254.4 79.9h1v1h-1zM256.3 78.1h1v1h-1zM261.7 73.6h1v1h-1zM256.9 79.3h1v1h-1zM265.1 73.3h1v1h-1zM252.4 78.2h1v1h-1zM258.2 77.8h1v1h-1zM248.3 75.6h1v1h-1zM256.3 74.8h1v1h-1zM252.7 75.2h1v1h-1zM265.3 84.5h1v1h-1zM261.5 76.7h1v1h-1zM260.1 76.9h1v1h-1zM268.3 80.8h1v1h-1zM265.8 79.0h1v1h-1zM261.4 81.2h1v1h-1zM252.8 73.4h1v1h-1zM248.2 73.9h1v1h-1zM256.8 88.9h1v1h-1zM254.8 77.5h1v1h-1zM253.0 76.6h1v1h-1zM255.2 78.1h1v1h-1zM246.9 80.9h1v1h-1zM266.1 73.6h1v1h-1zM250.0 78.6h1v1h-1zM252.9 77.5h1v1h-1zM260.5 79.9h1v1h-1zM247.0 78.2h1v1h-1zM262.6 75.8h1v1h-1zM262.7 74.7h1v1h-1zM255.1 69.4h1v1h-1zM250.4 80.9h1v1h-1zM254.1 72.6h1v1h-1zM245.7 76.2h1v1h-1zM265.5 83.2h1v1h-1zM257.3 76.2h1v1h-1zM252.5 79.7h1v1h-1zM251.4 76.9h1v1h-1zM260.5 79.9h1v1h-1zM266.2 77.7h1v1h-1zM249.2 75.9h1v1h-1zM253.5 82.1h1v1h-1zM246.2 76.7h1v1h-1zM261.2 73.1h1v1h-1zM258.0 76.5h1v1h-1zM270.9 79.4h1v1h-1zM256.2 73.8h1v1h-1zM254.3 80.2h1v1h-1zM252.6 80.2h1v1h-1zM262.2 84.7h1v1h-1zM247.0 75.4h1v1h-1zM261.6 79.8h1v1h-1zM258.5 72.0h1v1h-1zM253.9 76.2h1v1h-1zM251.4 77.9h1v1h-1zM263.5 79.0h1v1h-1zM268.5 77.4h1v1h-1zM254.3 77.3h1v1h-1zM260.3 75.5h1v1h-1zM267.7 76.1h1v1h-1zM253.2 78.6h1v1h-1zM255.4 79.5h1v1h-1zM249.5 79.7h1v1h-1zM256.1 80.9h1v1h-1zM256.5 81.6h1v1h-1zM254.4 71.5h1v1h-1zM252.4 75.8h1v1h-1zM247.2 77.0h1v1h-1zM248.7 75.4h1v1h-1zM251.0 81.1h1v1h-1zM261.0 80.1h1v1h-1zM253.9 77.2h1v1h-1zM251.7 78.0h1v1h-1zM261.1 81.8h1v1h-1zM260.5 76.4h1v1h-1zM252.3 76.5h1v1h-1zM253.1 80.6h1v1h-1zM261.1 79.2h1v1h-1zM259.3 82.4h1v1h-1zM251.8 78.8h1v1h-1zM258.5 80.1h1v1h-1zM256.8 75.8h1v1h-1zM263.9 74.4h1v1h-1zM251.6 77.6h1v1h-1zM262.5 68.7h1v1h-1zM259.7 79.0h1v1h-1zM250.8 80.8h1v1h-1zM263.5 77.8h1v1h-1zM262.6 76.9h1v1h-1zM248.8 81.2h1v1h-1zM269.3 77.4h1v1h-1zM249.9 80.9h1v1h-1zM251.3 84.9h1v1h-1zM255.0 80.0h1v1h-1zM261.8 80.7h1v1h-1zM260.6 79.2h1v1h-1zM256.4 78.4h1v1h-1zM265.5 78.5h1v1h-1zM259.5 77.8h1v1h-1zM265.7 81.2h1v1h-1zM274.5 72.2h1v1h-1zM258.2 76.7h1v1h-1zM241.0 79.8h1v1h-1zM254.2 74.8h1v1h-1zM250.3 77.2h1v1h-1zM257.6 75.3h1v1h-1zM257.6 79.1h1v1h-1zM249.4 80.5h1v1h-1zM249.8 82.5h1v1h-1zM255.4 79.3h1v1h-1zM255.8 75.2h1v1h-1zM240.7 78.4h1v1h-1zM263.1 79.5h1v1h-1zM257.2 82.3h1v1h-1zM256.9 70.4h1v1h-1zM258.9 78.8h1v1h-1zM250.6 71.5h1v1h-1zM256.7 80.0h1v1h-1zM263.5 79.1h1v1h-1zM263.8 79.3h1v1h-1zM259.9 80.6h1v1h-1zM255.2 78.9h1v1h-1zM251.8 75.4h1v1h-1zM265.3 78.8h1v1h-1zM260.3 81.6h1v1h-1zM254.3 77.2h1v1h-1zM243.3 77.7h1v1h-1zM251.5 73.5h1v1h-1zM244.8 81.5h1v1h-1zM264.9 75.9h1v1h-1zM258.2 75.1h1v1h-1zM252.3 76.1h1v1h-1zM255.3 74.7h1v1h-1zM273.4 76.8h1v1h-1zM264.7 81.9h1v1h-1zM248.5 80.2h1v1h-1zM256.2 82.4h1v1h-1zM249.2 82.6h1v1h-1zM246.1 74.6h1v1h-1zM258.1 79.2h1v1h-1zM272.3 82.6h1v1h-1zM266.9 85.3h1v1h-1zM257.3 72.9h1v1h-1zM254.6 72.8h1v1h-1zM258.3 79.2h1v1h-1zM263.6 76.5h1v1h-1zM247.7 74.3h1v1h-1zM245.1 78.9h1v1h-1zM269.0 75.0h1v1h-1zM258.8 70.0h1v1h-1zM267.2 77.5h1v1h-1zM258.5 78.0h1v1h-1zM266.4 79.7h1v1h-1zM253.1 80.7h1v1h-1zM260.2 78.2h1v1h-1zM266.9 76.8h1v1h-1zM263.5 75.4h1v1h-1zM254.1 72.1h1v1h-1zM262.7 76.1h1v1h-1zM252.7 80.9h1v1h-1zM247.9 79.8h1v1h-1zM260.4 84.4h1v1h-1zM266.0 77.1h1v1h-1zM262.5 71.6h1v1h-1zM248.9 80.3h1v1h-1zM262.6 81.0h1v1h-1zM261.4 73.7h1v1h-1zM254.0 72.2h1v1h-1zM241.0 78.1h1v1h-1zM263.5 80.0h1v1h-1zM262.7 73.8h1v1h-1zM235.2 67.8h1v1h-1zM228.5 58.0h1v1h-1zM222.3 61.5h1v1h-1zM220.2 42.3h1v1h-1zM242.5 72.4h1v1h-1zM234.6 64.0h1v1h-1zM230.1 62.7h1v1h-1zM200.5 68.9h1v1h-1zM267.0 66.2h1v1h-1zM225.9 56.7h1v1h-1zM238.2 85.1h1v1h-1zM222.9 59.3h1v1h-1zM246.1 74.3h1v1h-1zM217.2 83.2h1v1h-1zM241.7 57.5h1v1h-1zM237.4 65.0h1v1h-1zM254.3 55.4h1v1h-1zM223.5 75.1h1v1h-1zM230.3 60.5h1v1h-1zM236.7 52.5h1v1h-1zM272.2 77.9h1v1h-1zM217.7 73.7h1v1h-1zM244.7 54.7h1v1h-1zM230.2 76.4h1v1h-1zM245.0 66.1h1v1h-1zM250.2 92.5h1v1h-1zM242.4 82.0h1v1h-1zM244.2 58.2h1v1h-1zM244.5 61.2h1v1h-1zM231.2 54.8h1v1h-1zM236.9 65.4h1v1h-1zM214.9 64.5h1v1h-1zM234.8 71.7h1v1h-1zM228.4 64.9h1v1h-1zM236.3 48.6h1v1h-1zM251.4 55.5h1v1h-1zM246.0 78.9h1v1h-1zM247.3 76.1h1v1h-1zM257.0 62.3h1v1h-1zM203.7 62.6h1v1h-1zM246.7 62.2h1v1h-1zM239.8 64.2h1v1h-1zM238.6 46.4h1v1h-1zM220.2 73.4h1v1h-1zM248.5 57.1h1v1h-1zM257.7 65.5h1v1h-1zM255.8 37.5h1v1h-1zM238.8 66.5h1v1h-1zM249.9 78.1h1v1h-1zM254.2 40.5h1v1h-1zM267.9 80.0h1v1h-1zM258.8 69.0h1v1h-1zM242.3 56.3h1v1h-1zM241.5 47.4h1v1h-1zM242.6 76.2h1v1h-1zM243.6 66.7h1v1h-1zM232.5 70.2h1v1h-1zM251.9 61.2h1v1h-1zM229.5 55.6h1v1h-1zM227.8 73.1h1v1h-1zM267.4 84.5h1v1h-1zM229.5 97.5h1v1h-1zM233.3 99.6h1v1h-1zM282.8 95.1h1v1h-1zM269.5 85.3h1v1h-1zM238.1 96.6h1v1h-1zM284.5 86.6h1v1h-1zM244.8 99.5h1v1h-1zM235.3 84.5h1v1h-1zM248.2 85.2h1v1h-1zM247.7 83.3h1v1h-1zM230.4 93.1h1v1h-1zM276.9 89.9h1v1h-1zM278.3 84.5h1v1h-1zM238.6 91.4h1v1h-1zM259.5 98.0h1v1h-1zM278.4 84.6h1v1h-1zM249.3 93.9h1v1h-1zM257.0 85.9h1v1h-1zM241.4 91.7h1v1h-1zM254.6 88.8h1v1h-1zM245.4 87.7h1v1h-1zM275.6 83.2h1v1h-1zM236.4 92.8h1v1h-1zM228.9 90.5h1v1h-1zM280.1 94.8h1v1h-1zM237.2 86.1h1v1h-1zM259.4 99.7h1v1h-1zM268.8 83.3h1v1h-1zM246.3 86.3h1v1h-1zM281.8 93.9h1v1h-1zM246.9 85.3h1v1h-1zM238.6 87.4h1v1h-1zM230.9 91.5h1v1h-1zM280.1 95.9h1v1h-1zM239.7 97.7h1v1h-1zM280.0 88.4h1v1h-1zM253.9 94.2h1v1h-1zM282.0 83.4h1v1h-1z" fill="#cc00ff" fill-opacity="0.5"/>
</g>
<rect x="183.7" y="20.2" width="103.1" height="80.7" fill="none" stroke="#6d6d6d" stroke-width="0.9"/>
<line x1="226.3" y1="20.2" x2="226.3" y2="100.9" stroke="#555" stroke-width="0.9"/>
<line x1="183.7" y1="82.5" x2="286.8" y2="82.5" stroke="#555" stroke-width="0.9"/>
<path d="M180.7 28.8h3M180.7 49.1h3M180.7 68.9h3M180.7 89.3h3M181.9 22.73h1.8M181.9 42.9h1.8M181.9 39.34h1.8M181.9 36.83h1.8M181.9 34.87h1.8M181.9 33.27h1.8M181.9 31.92h1.8M181.9 30.75h1.8M181.9 29.72h1.8M181.9 63.06h1.8M181.9 59.51h1.8M181.9 56.99h1.8M181.9 55.04h1.8M181.9 53.44h1.8M181.9 52.09h1.8M181.9 50.92h1.8M181.9 49.89h1.8M181.9 83.23h1.8M181.9 79.68h1.8M181.9 77.16h1.8M181.9 75.2h1.8M181.9 73.61h1.8M181.9 72.26h1.8M181.9 71.09h1.8M181.9 70.06h1.8M181.9 99.84h1.8M181.9 97.33h1.8M181.9 95.37h1.8M181.9 93.77h1.8M181.9 92.42h1.8M181.9 91.25h1.8M181.9 90.22h1.8M185.5 100.9v2.8M210 100.9v2.8M236 100.9v2.8M261.5 100.9v2.8M287 100.9v2.8M184.34 100.9v1.8M193.14 100.9v1.8M197.61 100.9v1.8M200.78 100.9v1.8M203.24 100.9v1.8M205.25 100.9v1.8M206.94 100.9v1.8M208.42 100.9v1.8M209.71 100.9v1.8M218.51 100.9v1.8M222.98 100.9v1.8M226.15 100.9v1.8M228.61 100.9v1.8M230.62 100.9v1.8M232.32 100.9v1.8M233.79 100.9v1.8M235.09 100.9v1.8M243.89 100.9v1.8M248.36 100.9v1.8M251.53 100.9v1.8M253.99 100.9v1.8M256 100.9v1.8M257.69 100.9v1.8M259.17 100.9v1.8M260.46 100.9v1.8M269.26 100.9v1.8M273.73 100.9v1.8M276.9 100.9v1.8M279.36 100.9v1.8M281.37 100.9v1.8M283.07 100.9v1.8M284.54 100.9v1.8M285.84 100.9v1.8" stroke="#2a2a2a" stroke-width="0.9" fill="none"/>
<text transform="translate(170.8 29.8) scale(0.82 1)" y="3.31" font-size="9.2" text-anchor="middle" stroke="#231f20" stroke-width="0.15">10<tspan dx="0.4" font-size="6.07" dy="-3.86">5</tspan></text>
<text transform="translate(170.8 49.6) scale(0.82 1)" y="3.31" font-size="9.2" text-anchor="middle" stroke="#231f20" stroke-width="0.15">10<tspan dx="0.4" font-size="6.07" dy="-3.86">4</tspan></text>
<text transform="translate(170.8 69.8) scale(0.82 1)" y="3.31" font-size="9.2" text-anchor="middle" stroke="#231f20" stroke-width="0.15">10<tspan dx="0.4" font-size="6.07" dy="-3.86">3</tspan></text>
<text transform="translate(170.8 90) scale(0.82 1)" y="3.31" font-size="9.2" text-anchor="middle" stroke="#231f20" stroke-width="0.15">10<tspan dx="0.4" font-size="6.07" dy="-3.86">2</tspan></text>
<text transform="translate(198.5 115) scale(0.82 1)" y="3.31" font-size="9.2" text-anchor="middle" stroke="#231f20" stroke-width="0.15">10<tspan dx="0.4" font-size="6.07" dy="-3.86">2</tspan></text>
<text transform="translate(224 115) scale(0.82 1)" y="3.31" font-size="9.2" text-anchor="middle" stroke="#231f20" stroke-width="0.15">10<tspan dx="0.4" font-size="6.07" dy="-3.86">3</tspan></text>
<text transform="translate(249.6 115) scale(0.82 1)" y="3.31" font-size="9.2" text-anchor="middle" stroke="#231f20" stroke-width="0.15">10<tspan dx="0.4" font-size="6.07" dy="-3.86">4</tspan></text>
<text transform="translate(275.2 115) scale(0.82 1)" y="3.31" font-size="9.2" text-anchor="middle" stroke="#231f20" stroke-width="0.15">10<tspan dx="0.4" font-size="6.07" dy="-3.86">5</tspan></text>
<text x="213" y="72.38" font-size="5.5" text-anchor="middle" fill="#333" stroke="#333" stroke-width="0.15">Q1-2</text>
<text x="241.6" y="72.48" font-size="5.5" text-anchor="middle" fill="#333" stroke="#333" stroke-width="0.15">Q2-2</text>
<text x="213" y="97.88" font-size="5.5" text-anchor="middle" fill="#333" stroke="#333" stroke-width="0.15">Q3-2</text>
<text x="241.6" y="98.48" font-size="5.5" text-anchor="middle" fill="#333" stroke="#333" stroke-width="0.15">Q4-2</text>
<text x="183.7" y="134.08" font-size="11.33" textLength="24" lengthAdjust="spacingAndGlyphs" stroke="#231f20" stroke-width="0.15">CD49d</text>
<line x1="210.6" y1="130" x2="271" y2="130" stroke="#231f20" stroke-width="0.9"/>
<path d="M270 128 L275 130 L270 132 Z" stroke="#231f20" stroke-width="0.5" fill="#231f20"/>
<line x1="350.1" y1="23.5" x2="350.1" y2="105.05" stroke="#231f20" stroke-width="1.1"/>
<path d="M347.1 104.25H350.1M347.1 88.56H350.1M347.1 72.88H350.1M347.1 57.19H350.1M347.1 41.51H350.1M347.1 25.82H350.1" stroke="#231f20" stroke-width="0.9" fill="none"/>
<text x="344" y="107.42" font-size="8.8" text-anchor="end" textLength="4.4" lengthAdjust="spacingAndGlyphs" stroke="#231f20" stroke-width="0.15">0</text>
<text x="344" y="91.73" font-size="8.8" text-anchor="end" textLength="13.21" lengthAdjust="spacingAndGlyphs" stroke="#231f20" stroke-width="0.15">200</text>
<text x="344" y="76.05" font-size="8.8" text-anchor="end" textLength="13.21" lengthAdjust="spacingAndGlyphs" stroke="#231f20" stroke-width="0.15">400</text>
<text x="344" y="60.36" font-size="8.8" text-anchor="end" textLength="13.21" lengthAdjust="spacingAndGlyphs" stroke="#231f20" stroke-width="0.15">600</text>
<text x="344" y="44.67" font-size="8.8" text-anchor="end" textLength="13.21" lengthAdjust="spacingAndGlyphs" stroke="#231f20" stroke-width="0.15">800</text>
<text x="344" y="28.99" font-size="8.8" text-anchor="end" textLength="17.61" lengthAdjust="spacingAndGlyphs" stroke="#231f20" stroke-width="0.15">1000</text>
<line x1="349.55" y1="104.5" x2="471" y2="104.5" stroke="#231f20" stroke-width="1.1"/>
<path d="M350.1 104.5V107.5M389.36 104.5V107.5M428.62 104.5V107.5M467.88 104.5V107.5" stroke="#231f20" stroke-width="0.9" fill="none"/>
<text x="350.1" y="118.17" font-size="8.8" text-anchor="middle" textLength="4.4" lengthAdjust="spacingAndGlyphs" stroke="#231f20" stroke-width="0.15">0</text>
<text x="389.36" y="118.17" font-size="8.8" text-anchor="middle" textLength="17.61" lengthAdjust="spacingAndGlyphs" stroke="#231f20" stroke-width="0.15">2000</text>
<text x="428.62" y="118.17" font-size="8.8" text-anchor="middle" textLength="17.61" lengthAdjust="spacingAndGlyphs" stroke="#231f20" stroke-width="0.15">4000</text>
<text x="467.88" y="118.17" font-size="8.8" text-anchor="middle" textLength="17.61" lengthAdjust="spacingAndGlyphs" stroke="#231f20" stroke-width="0.15">6000</text>
<text x="411" y="132.06" font-size="10.45" text-anchor="middle" textLength="34" lengthAdjust="spacingAndGlyphs" stroke="#231f20" stroke-width="0.15">CD38 MFI</text>
<text x="316.3" y="67.56" font-size="10.45" text-anchor="middle" textLength="57" lengthAdjust="spacingAndGlyphs" stroke="#231f20" stroke-width="0.15" transform="rotate(-90 316.3 63.8)">Surface TLR9 MFI</text>
<line x1="355.4" y1="96.2" x2="456.5" y2="37.3" stroke="#f0890f" stroke-width="1.1"/>
<path d="M409.8 30.4a1.7 1.7 0 1 0 3.4 0a1.7 1.7 0 1 0 -3.4 0M454.8 44.9a1.7 1.7 0 1 0 3.4 0a1.7 1.7 0 1 0 -3.4 0M437.5 51.2a1.7 1.7 0 1 0 3.4 0a1.7 1.7 0 1 0 -3.4 0M433.8 53a1.7 1.7 0 1 0 3.4 0a1.7 1.7 0 1 0 -3.4 0M377.9 58.1a1.7 1.7 0 1 0 3.4 0a1.7 1.7 0 1 0 -3.4 0M369.4 64.3a1.7 1.7 0 1 0 3.4 0a1.7 1.7 0 1 0 -3.4 0M409.8 65a1.7 1.7 0 1 0 3.4 0a1.7 1.7 0 1 0 -3.4 0M363.4 69.6a1.7 1.7 0 1 0 3.4 0a1.7 1.7 0 1 0 -3.4 0M392.9 72.6a1.7 1.7 0 1 0 3.4 0a1.7 1.7 0 1 0 -3.4 0M388.3 76.5a1.7 1.7 0 1 0 3.4 0a1.7 1.7 0 1 0 -3.4 0M376.3 76.1a1.7 1.7 0 1 0 3.4 0a1.7 1.7 0 1 0 -3.4 0M354.1 79.5a1.7 1.7 0 1 0 3.4 0a1.7 1.7 0 1 0 -3.4 0M378.4 83.5a1.7 1.7 0 1 0 3.4 0a1.7 1.7 0 1 0 -3.4 0M355.3 87.4a1.7 1.7 0 1 0 3.4 0a1.7 1.7 0 1 0 -3.4 0M367.1 87.6a1.7 1.7 0 1 0 3.4 0a1.7 1.7 0 1 0 -3.4 0M377.9 88.1a1.7 1.7 0 1 0 3.4 0a1.7 1.7 0 1 0 -3.4 0M355.5 92.7a1.7 1.7 0 1 0 3.4 0a1.7 1.7 0 1 0 -3.4 0M378.6 94.5a1.7 1.7 0 1 0 3.4 0a1.7 1.7 0 1 0 -3.4 0M365.7 95.7a1.7 1.7 0 1 0 3.4 0a1.7 1.7 0 1 0 -3.4 0M353.7 96.8a1.7 1.7 0 1 0 3.4 0a1.7 1.7 0 1 0 -3.4 0M368.7 98.5a1.7 1.7 0 1 0 3.4 0a1.7 1.7 0 1 0 -3.4 0M376.3 99.2a1.7 1.7 0 1 0 3.4 0a1.7 1.7 0 1 0 -3.4 0M367.5 100.3a1.7 1.7 0 1 0 3.4 0a1.7 1.7 0 1 0 -3.4 0M357.8 101.9a1.7 1.7 0 1 0 3.4 0a1.7 1.7 0 1 0 -3.4 0M361.3 101.2a1.7 1.7 0 1 0 3.4 0a1.7 1.7 0 1 0 -3.4 0M363.6 101.5a1.7 1.7 0 1 0 3.4 0a1.7 1.7 0 1 0 -3.4 0M364.8 103.1a1.7 1.7 0 1 0 3.4 0a1.7 1.7 0 1 0 -3.4 0M359.5 103.5a1.7 1.7 0 1 0 3.4 0a1.7 1.7 0 1 0 -3.4 0" fill="#f0890f"/>
<text x="438.8" y="67.67" font-size="8.8" textLength="31" lengthAdjust="spacingAndGlyphs" stroke="#231f20" stroke-width="0.15">P = 0.001</text>
<text x="438.8" y="76.97" font-size="8.8" textLength="27" lengthAdjust="spacingAndGlyphs" stroke="#231f20" stroke-width="0.15">r = 0.77</text>
<text x="438.8" y="85.77" font-size="8.8" textLength="24" lengthAdjust="spacingAndGlyphs" stroke="#231f20" stroke-width="0.15">N = 29</text>
<line x1="61.3" y1="168.8" x2="61.3" y2="250.95" stroke="#231f20" stroke-width="1.1"/>
<path d="M58.3 250.2H61.3M58.3 234.42H61.3M58.3 218.64H61.3M58.3 202.86H61.3M58.3 187.08H61.3M58.3 171.3H61.3" stroke="#231f20" stroke-width="0.9" fill="none"/>
<text x="56" y="253.37" font-size="8.8" text-anchor="end" textLength="4.4" lengthAdjust="spacingAndGlyphs" stroke="#231f20" stroke-width="0.15">0</text>
<text x="56" y="237.59" font-size="8.8" text-anchor="end" textLength="13.21" lengthAdjust="spacingAndGlyphs" stroke="#231f20" stroke-width="0.15">200</text>
<text x="56" y="221.81" font-size="8.8" text-anchor="end" textLength="13.21" lengthAdjust="spacingAndGlyphs" stroke="#231f20" stroke-width="0.15">400</text>
<text x="56" y="206.03" font-size="8.8" text-anchor="end" textLength="13.21" lengthAdjust="spacingAndGlyphs" stroke="#231f20" stroke-width="0.15">600</text>
<text x="56" y="190.25" font-size="8.8" text-anchor="end" textLength="13.21" lengthAdjust="spacingAndGlyphs" stroke="#231f20" stroke-width="0.15">800</text>
<text x="56" y="174.47" font-size="8.8" text-anchor="end" textLength="17.61" lengthAdjust="spacingAndGlyphs" stroke="#231f20" stroke-width="0.15">1000</text>
<line x1="60.75" y1="250.4" x2="182" y2="250.4" stroke="#231f20" stroke-width="1.1"/>
<path d="M61.5 250.4V253.4M100.95 250.4V253.4M140.4 250.4V253.4M179.85 250.4V253.4" stroke="#231f20" stroke-width="0.9" fill="none"/>
<text x="61.5" y="264.17" font-size="8.8" text-anchor="middle" textLength="4.4" lengthAdjust="spacingAndGlyphs" stroke="#231f20" stroke-width="0.15">0</text>
<text x="100.95" y="264.17" font-size="8.8" text-anchor="middle" textLength="22.02" lengthAdjust="spacingAndGlyphs" stroke="#231f20" stroke-width="0.15">10000</text>
<text x="140.4" y="264.17" font-size="8.8" text-anchor="middle" textLength="22.02" lengthAdjust="spacingAndGlyphs" stroke="#231f20" stroke-width="0.15">20000</text>
<text x="179.85" y="264.17" font-size="8.8" text-anchor="middle" textLength="22.02" lengthAdjust="spacingAndGlyphs" stroke="#231f20" stroke-width="0.15">30000</text>
<text x="122.3" y="278.16" font-size="10.45" text-anchor="middle" textLength="39" lengthAdjust="spacingAndGlyphs" stroke="#231f20" stroke-width="0.15">CD49d MFI</text>
<text x="28.5" y="213.26" font-size="10.45" text-anchor="middle" textLength="57" lengthAdjust="spacingAndGlyphs" stroke="#231f20" stroke-width="0.15" transform="rotate(-90 28.5 209.5)">Surface TLR9 MFI</text>
<line x1="61.5" y1="246.5" x2="178.8" y2="200.4" stroke="#f0890f" stroke-width="1.1"/>
<path d="M177.1 186.9a1.7 1.7 0 1 0 3.4 0a1.7 1.7 0 1 0 -3.4 0M172.1 199.2a1.7 1.7 0 1 0 3.4 0a1.7 1.7 0 1 0 -3.4 0M168 205.2a1.7 1.7 0 1 0 3.4 0a1.7 1.7 0 1 0 -3.4 0M129.6 214.4a1.7 1.7 0 1 0 3.4 0a1.7 1.7 0 1 0 -3.4 0M127.9 218.7a1.7 1.7 0 1 0 3.4 0a1.7 1.7 0 1 0 -3.4 0M137.1 217.3a1.7 1.7 0 1 0 3.4 0a1.7 1.7 0 1 0 -3.4 0M149.3 215.9a1.7 1.7 0 1 0 3.4 0a1.7 1.7 0 1 0 -3.4 0M116.9 228a1.7 1.7 0 1 0 3.4 0a1.7 1.7 0 1 0 -3.4 0M100 230.6a1.7 1.7 0 1 0 3.4 0a1.7 1.7 0 1 0 -3.4 0M92.3 232.9a1.7 1.7 0 1 0 3.4 0a1.7 1.7 0 1 0 -3.4 0M71.3 240.6a1.7 1.7 0 1 0 3.4 0a1.7 1.7 0 1 0 -3.4 0M75.6 242.5a1.7 1.7 0 1 0 3.4 0a1.7 1.7 0 1 0 -3.4 0M115.2 239.5a1.7 1.7 0 1 0 3.4 0a1.7 1.7 0 1 0 -3.4 0M102 242.5a1.7 1.7 0 1 0 3.4 0a1.7 1.7 0 1 0 -3.4 0M91.8 245.4a1.7 1.7 0 1 0 3.4 0a1.7 1.7 0 1 0 -3.4 0M62.7 231.3a1.7 1.7 0 1 0 3.4 0a1.7 1.7 0 1 0 -3.4 0M62.1 232.9a1.7 1.7 0 1 0 3.4 0a1.7 1.7 0 1 0 -3.4 0M61.8 234.8a1.7 1.7 0 1 0 3.4 0a1.7 1.7 0 1 0 -3.4 0M60.6 237.7a1.7 1.7 0 1 0 3.4 0a1.7 1.7 0 1 0 -3.4 0M60.2 242.5a1.7 1.7 0 1 0 3.4 0a1.7 1.7 0 1 0 -3.4 0M60.6 245.4a1.7 1.7 0 1 0 3.4 0a1.7 1.7 0 1 0 -3.4 0M60.2 247.3a1.7 1.7 0 1 0 3.4 0a1.7 1.7 0 1 0 -3.4 0M61.2 248.8a1.7 1.7 0 1 0 3.4 0a1.7 1.7 0 1 0 -3.4 0M60.2 250.2a1.7 1.7 0 1 0 3.4 0a1.7 1.7 0 1 0 -3.4 0M60.8 249.5a1.7 1.7 0 1 0 3.4 0a1.7 1.7 0 1 0 -3.4 0" fill="#f0890f"/>
<text x="74" y="183.77" font-size="8.8" textLength="30" lengthAdjust="spacingAndGlyphs" stroke="#231f20" stroke-width="0.15">P &lt; 0.001</text>
<text x="74" y="193.37" font-size="8.8" textLength="26" lengthAdjust="spacingAndGlyphs" stroke="#231f20" stroke-width="0.15">r = 0.91</text>
<text x="74" y="202.37" font-size="8.8" textLength="22" lengthAdjust="spacingAndGlyphs" stroke="#231f20" stroke-width="0.15">N= 29</text>
<rect x="268" y="211.9" width="33.8" height="38.3" fill="#f2cbc4"/>
<rect x="319" y="202" width="33.9" height="48.2" fill="#dbe8f6"/>
<line x1="259.2" y1="176.3" x2="259.2" y2="250.85" stroke="#231f20" stroke-width="1.1"/>
<path d="M256.2 250.2H259.2M256.2 232.1H259.2M256.2 214H259.2M256.2 195.9H259.2M256.2 177.8H259.2M257.4 244.75H259.2M257.4 241.56H259.2M257.4 239.3H259.2M257.4 237.55H259.2M257.4 236.12H259.2M257.4 234.9H259.2M257.4 233.85H259.2M257.4 232.93H259.2M257.4 226.65H259.2M257.4 223.46H259.2M257.4 221.2H259.2M257.4 219.45H259.2M257.4 218.02H259.2M257.4 216.8H259.2M257.4 215.75H259.2M257.4 214.83H259.2M257.4 208.55H259.2M257.4 205.36H259.2M257.4 203.1H259.2M257.4 201.35H259.2M257.4 199.92H259.2M257.4 198.7H259.2M257.4 197.65H259.2M257.4 196.73H259.2M257.4 190.45H259.2M257.4 187.26H259.2M257.4 185H259.2M257.4 183.25H259.2M257.4 181.82H259.2M257.4 180.6H259.2M257.4 179.55H259.2M257.4 178.63H259.2" stroke="#231f20" stroke-width="0.9" fill="none"/>
<text x="254.5" y="253.37" font-size="8.8" text-anchor="end" textLength="4.4" lengthAdjust="spacingAndGlyphs" stroke="#231f20" stroke-width="0.15">1</text>
<text x="254.5" y="235.27" font-size="8.8" text-anchor="end" textLength="8.81" lengthAdjust="spacingAndGlyphs" stroke="#231f20" stroke-width="0.15">10</text>
<text x="254.5" y="217.17" font-size="8.8" text-anchor="end" textLength="13.21" lengthAdjust="spacingAndGlyphs" stroke="#231f20" stroke-width="0.15">100</text>
<text x="254.5" y="199.07" font-size="8.8" text-anchor="end" textLength="17.61" lengthAdjust="spacingAndGlyphs" stroke="#231f20" stroke-width="0.15">1000</text>
<text x="254.5" y="180.97" font-size="8.8" text-anchor="end" textLength="22.02" lengthAdjust="spacingAndGlyphs" stroke="#231f20" stroke-width="0.15">10000</text>
<line x1="258.65" y1="250.3" x2="361.5" y2="250.3" stroke="#231f20" stroke-width="1.1"/>
<path d="M284.8 250.3V253.3M335.6 250.3V253.3" stroke="#231f20" stroke-width="0.9" fill="none"/>
<path d="M276.5 209.5H293.1M276.5 214.4H293.1M284.8 209.5V214.4" stroke="#333" stroke-width="1.3" fill="none"/>
<path d="M327.5 200.3H344.1M327.5 203.5H344.1M335.8 200.3V203.5" stroke="#333" stroke-width="1.3" fill="none"/>
<path d="M283.17 195.85a1.6 1.6 0 1 0 3.2 0a1.6 1.6 0 1 0 -3.2 0M281.06 201.83a1.6 1.6 0 1 0 3.2 0a1.6 1.6 0 1 0 -3.2 0M285.29 201.37a1.6 1.6 0 1 0 3.2 0a1.6 1.6 0 1 0 -3.2 0M279.03 205.41a1.6 1.6 0 1 0 3.2 0a1.6 1.6 0 1 0 -3.2 0M287.31 204.13a1.6 1.6 0 1 0 3.2 0a1.6 1.6 0 1 0 -3.2 0M283.17 207.07a1.6 1.6 0 1 0 3.2 0a1.6 1.6 0 1 0 -3.2 0M270.76 213.32a1.6 1.6 0 1 0 3.2 0a1.6 1.6 0 1 0 -3.2 0M274.89 213.97a1.6 1.6 0 1 0 3.2 0a1.6 1.6 0 1 0 -3.2 0M281.06 215.34a1.6 1.6 0 1 0 3.2 0a1.6 1.6 0 1 0 -3.2 0M285.29 214.89a1.6 1.6 0 1 0 3.2 0a1.6 1.6 0 1 0 -3.2 0M289.42 213.32a1.6 1.6 0 1 0 3.2 0a1.6 1.6 0 1 0 -3.2 0M293.56 212.59a1.6 1.6 0 1 0 3.2 0a1.6 1.6 0 1 0 -3.2 0M272.87 217.64a1.6 1.6 0 1 0 3.2 0a1.6 1.6 0 1 0 -3.2 0M277.01 217.92a1.6 1.6 0 1 0 3.2 0a1.6 1.6 0 1 0 -3.2 0M281.06 219.94a1.6 1.6 0 1 0 3.2 0a1.6 1.6 0 1 0 -3.2 0M285.29 219.94a1.6 1.6 0 1 0 3.2 0a1.6 1.6 0 1 0 -3.2 0M289.42 219.02a1.6 1.6 0 1 0 3.2 0a1.6 1.6 0 1 0 -3.2 0M293.56 217.64a1.6 1.6 0 1 0 3.2 0a1.6 1.6 0 1 0 -3.2 0M277.01 224.72a1.6 1.6 0 1 0 3.2 0a1.6 1.6 0 1 0 -3.2 0M283.17 225.46a1.6 1.6 0 1 0 3.2 0a1.6 1.6 0 1 0 -3.2 0M289.42 224.72a1.6 1.6 0 1 0 3.2 0a1.6 1.6 0 1 0 -3.2 0M279.03 227.3a1.6 1.6 0 1 0 3.2 0a1.6 1.6 0 1 0 -3.2 0M287.31 227.3a1.6 1.6 0 1 0 3.2 0a1.6 1.6 0 1 0 -3.2 0M283.17 230.79a1.6 1.6 0 1 0 3.2 0a1.6 1.6 0 1 0 -3.2 0M279.03 237.69a1.6 1.6 0 1 0 3.2 0a1.6 1.6 0 1 0 -3.2 0M283.17 239.71a1.6 1.6 0 1 0 3.2 0a1.6 1.6 0 1 0 -3.2 0M287.31 237.69a1.6 1.6 0 1 0 3.2 0a1.6 1.6 0 1 0 -3.2 0" fill="#c8001e"/>
<path d="M321.97 190.23h2.9v2.9h-2.9zM326.12 190.93h2.9v2.9h-2.9zM330.18 193.1h2.9v2.9h-2.9zM334.34 194.19h2.9v2.9h-2.9zM338.5 193.9h2.9v2.9h-2.9zM342.46 191.72h2.9v2.9h-2.9zM346.72 190.73h2.9v2.9h-2.9zM332.36 196.67h2.9v2.9h-2.9zM325.93 202.11h2.9v2.9h-2.9zM330.18 203.3h2.9v2.9h-2.9zM328.2 205.08h2.9v2.9h-2.9zM336.52 202.31h2.9v2.9h-2.9zM340.48 200.13h2.9v2.9h-2.9zM332.36 206.57h2.9v2.9h-2.9zM342.46 205.48h2.9v2.9h-2.9zM325.93 208.75h2.9v2.9h-2.9zM336.52 209.05h2.9v2.9h-2.9zM338.5 207.76h2.9v2.9h-2.9zM340.48 209.05h2.9v2.9h-2.9zM330.18 212.21h2.9v2.9h-2.9zM332.36 214.69h2.9v2.9h-2.9zM336.52 216.47h2.9v2.9h-2.9zM328.2 219.14h2.9v2.9h-2.9zM340.48 218.45h2.9v2.9h-2.9zM332.36 221.92h2.9v2.9h-2.9zM336.52 221.32h2.9v2.9h-2.9zM334.34 226.27h2.9v2.9h-2.9zM334.34 232.51h2.9v2.9h-2.9zM338.3 199.34h2.9v2.9h-2.9z" fill="#1f9fe0"/>
<path d="M284.8 178.5V181.5M284.8 180H333.9M333.9 178.5V181.5" stroke="#231f20" stroke-width="1.2" fill="none"/>
<text x="308.8" y="163.57" font-size="8.8" text-anchor="middle" textLength="31" lengthAdjust="spacingAndGlyphs" stroke="#231f20" stroke-width="0.15">P &lt; 0.001</text>
<text x="308.8" y="172.57" font-size="8.8" text-anchor="middle" textLength="24" lengthAdjust="spacingAndGlyphs" stroke="#231f20" stroke-width="0.15">N = 29</text>
<text x="222.3" y="217.26" font-size="10.45" text-anchor="middle" textLength="35" lengthAdjust="spacingAndGlyphs" stroke="#231f20" stroke-width="0.15" transform="rotate(-90 222.3 213.5)">MFI CD38</text>
<text x="285" y="262.18" font-size="10.23" text-anchor="end" textLength="51" lengthAdjust="spacingAndGlyphs" stroke="#231f20" stroke-width="0.15" transform="rotate(-45 285 258.5)">Surface TLR9-</text>
<text x="335.6" y="262.18" font-size="10.23" text-anchor="end" textLength="53" lengthAdjust="spacingAndGlyphs" stroke="#231f20" stroke-width="0.15" transform="rotate(-45 335.6 258.5)">Surface TLR9+</text>
<rect x="419.5" y="216.9" width="33.6" height="33.3" fill="#f2cbc4"/>
<rect x="470.7" y="206.1" width="33.6" height="44.1" fill="#dbe8f6"/>
<line x1="410.8" y1="169.3" x2="410.8" y2="250.85" stroke="#231f20" stroke-width="1.1"/>
<path d="M407.8 250.2H410.8M407.8 224.2H410.8M407.8 198.2H410.8M407.8 172.2H410.8M409 242.37H410.8M409 237.79H410.8M409 234.55H410.8M409 232.03H410.8M409 229.97H410.8M409 228.23H410.8M409 226.72H410.8M409 225.39H410.8M409 216.37H410.8M409 211.79H410.8M409 208.55H410.8M409 206.03H410.8M409 203.97H410.8M409 202.23H410.8M409 200.72H410.8M409 199.39H410.8M409 190.37H410.8M409 185.79H410.8M409 182.55H410.8M409 180.03H410.8M409 177.97H410.8M409 176.23H410.8M409 174.72H410.8M409 173.39H410.8" stroke="#231f20" stroke-width="0.9" fill="none"/>
<text x="406" y="253.37" font-size="8.8" text-anchor="end" textLength="8.81" lengthAdjust="spacingAndGlyphs" stroke="#231f20" stroke-width="0.15">10</text>
<text x="406" y="227.37" font-size="8.8" text-anchor="end" textLength="13.21" lengthAdjust="spacingAndGlyphs" stroke="#231f20" stroke-width="0.15">100</text>
<text x="406" y="201.37" font-size="8.8" text-anchor="end" textLength="17.61" lengthAdjust="spacingAndGlyphs" stroke="#231f20" stroke-width="0.15">1000</text>
<text x="406" y="175.37" font-size="8.8" text-anchor="end" textLength="22.02" lengthAdjust="spacingAndGlyphs" stroke="#231f20" stroke-width="0.15">10000</text>
<line x1="410.25" y1="250.3" x2="512.7" y2="250.3" stroke="#231f20" stroke-width="1.1"/>
<path d="M436.3 250.3V253.3M487.4 250.3V253.3" stroke="#231f20" stroke-width="0.9" fill="none"/>
<path d="M428.1 212.9H444.5M428.1 221.4H444.5M436.3 212.9V221.4" stroke="#333" stroke-width="1.3" fill="none"/>
<path d="M479.1 202.5H495.7M479.1 209.8H495.7M487.4 202.5V209.8" stroke="#333" stroke-width="1.3" fill="none"/>
<path d="M434.69 190.45a1.6 1.6 0 1 0 3.2 0a1.6 1.6 0 1 0 -3.2 0M432.71 203.32a1.6 1.6 0 1 0 3.2 0a1.6 1.6 0 1 0 -3.2 0M434.69 203.32a1.6 1.6 0 1 0 3.2 0a1.6 1.6 0 1 0 -3.2 0M438.94 207.57a1.6 1.6 0 1 0 3.2 0a1.6 1.6 0 1 0 -3.2 0M436.87 209.75a1.6 1.6 0 1 0 3.2 0a1.6 1.6 0 1 0 -3.2 0M432.71 213.91a1.6 1.6 0 1 0 3.2 0a1.6 1.6 0 1 0 -3.2 0M424.49 219.16a1.6 1.6 0 1 0 3.2 0a1.6 1.6 0 1 0 -3.2 0M428.45 220.84a1.6 1.6 0 1 0 3.2 0a1.6 1.6 0 1 0 -3.2 0M432.71 221.63a1.6 1.6 0 1 0 3.2 0a1.6 1.6 0 1 0 -3.2 0M436.87 221.63a1.6 1.6 0 1 0 3.2 0a1.6 1.6 0 1 0 -3.2 0M441.12 222.43a1.6 1.6 0 1 0 3.2 0a1.6 1.6 0 1 0 -3.2 0M443.1 221.44a1.6 1.6 0 1 0 3.2 0a1.6 1.6 0 1 0 -3.2 0M447.06 220.45a1.6 1.6 0 1 0 3.2 0a1.6 1.6 0 1 0 -3.2 0M426.57 224.9a1.6 1.6 0 1 0 3.2 0a1.6 1.6 0 1 0 -3.2 0M430.73 226.39a1.6 1.6 0 1 0 3.2 0a1.6 1.6 0 1 0 -3.2 0M436.87 225.79a1.6 1.6 0 1 0 3.2 0a1.6 1.6 0 1 0 -3.2 0M432.71 228.76a1.6 1.6 0 1 0 3.2 0a1.6 1.6 0 1 0 -3.2 0M436.87 231.04a1.6 1.6 0 1 0 3.2 0a1.6 1.6 0 1 0 -3.2 0M430.73 234.01a1.6 1.6 0 1 0 3.2 0a1.6 1.6 0 1 0 -3.2 0M434.69 235.3a1.6 1.6 0 1 0 3.2 0a1.6 1.6 0 1 0 -3.2 0M438.94 234.01a1.6 1.6 0 1 0 3.2 0a1.6 1.6 0 1 0 -3.2 0M426.57 239.95a1.6 1.6 0 1 0 3.2 0a1.6 1.6 0 1 0 -3.2 0M430.73 242.43a1.6 1.6 0 1 0 3.2 0a1.6 1.6 0 1 0 -3.2 0M434.69 243.22a1.6 1.6 0 1 0 3.2 0a1.6 1.6 0 1 0 -3.2 0M438.94 240.45a1.6 1.6 0 1 0 3.2 0a1.6 1.6 0 1 0 -3.2 0M442.9 239.26a1.6 1.6 0 1 0 3.2 0a1.6 1.6 0 1 0 -3.2 0M434.69 250.35a1.6 1.6 0 1 0 3.2 0a1.6 1.6 0 1 0 -3.2 0" fill="#c8001e"/>
<path d="M481.64 183.39h2.9v2.9h-2.9zM489.9 184.07h2.9v2.9h-2.9zM485.94 187.12h2.9v2.9h-2.9zM485.94 197.63h2.9v2.9h-2.9zM487.86 200.69h2.9v2.9h-2.9zM483.9 202.38h2.9v2.9h-2.9zM483.9 207.81h2.9v2.9h-2.9zM487.86 210.64h2.9v2.9h-2.9zM473.73 210.86h2.9v2.9h-2.9zM477.68 213.35h2.9v2.9h-2.9zM481.87 214.26h2.9v2.9h-2.9zM485.94 215.16h2.9v2.9h-2.9zM471.46 216.29h2.9v2.9h-2.9zM475.76 217.87h2.9v2.9h-2.9zM477.68 219.68h2.9v2.9h-2.9zM479.95 218.78h2.9v2.9h-2.9zM490.12 217.87h2.9v2.9h-2.9zM492.04 215.16h2.9v2.9h-2.9zM494.08 216.29h2.9v2.9h-2.9zM496.34 214.26h2.9v2.9h-2.9zM498.38 216.29h2.9v2.9h-2.9zM500.3 211.77h2.9v2.9h-2.9zM481.87 221.94h2.9v2.9h-2.9zM485.94 219.34h2.9v2.9h-2.9zM485.94 223.3h2.9v2.9h-2.9zM490.12 223.3h2.9v2.9h-2.9zM494.08 220.81h2.9v2.9h-2.9zM485.94 228.73h2.9v2.9h-2.9zM485.94 237.21h2.9v2.9h-2.9z" fill="#1f9fe0"/>
<path d="M438.5 166.8V169.8M438.5 168.3H487.3M487.3 166.8V169.8" stroke="#231f20" stroke-width="1.2" fill="none"/>
<text x="463" y="152.47" font-size="8.8" text-anchor="middle" textLength="31" lengthAdjust="spacingAndGlyphs" stroke="#231f20" stroke-width="0.15">P &lt; 0.001</text>
<text x="463" y="161.37" font-size="8.8" text-anchor="middle" textLength="24" lengthAdjust="spacingAndGlyphs" stroke="#231f20" stroke-width="0.15">N = 29</text>
<text x="373.5" y="213.76" font-size="10.45" text-anchor="middle" textLength="40" lengthAdjust="spacingAndGlyphs" stroke="#231f20" stroke-width="0.15" transform="rotate(-90 373.5 210)">MFI CD49d</text>
<text x="436.3" y="262.18" font-size="10.23" text-anchor="end" textLength="51" lengthAdjust="spacingAndGlyphs" stroke="#231f20" stroke-width="0.15" transform="rotate(-45 436.3 258.5)">Surface TLR9-</text>
<text x="487.4" y="262.18" font-size="10.23" text-anchor="end" textLength="53" lengthAdjust="spacingAndGlyphs" stroke="#231f20" stroke-width="0.15" transform="rotate(-45 487.4 258.5)">Surface TLR9+</text>
<rect x="59.9" y="406.8" width="23.3" height="24.4" fill="#d9eacc"/>
<rect x="95.1" y="382.9" width="23.8" height="48.3" fill="#c8cce0"/>
<rect x="131" y="389.9" width="23.1" height="41.3" fill="#d5c3da"/>
<rect x="166.2" y="403.8" width="23.4" height="27.4" fill="#f3c9c3"/>
<line x1="47.6" y1="326" x2="47.6" y2="431.85" stroke="#231f20" stroke-width="1.1"/>
<path d="M44.6 431.2H47.6M44.6 405.4H47.6M44.6 379.6H47.6M44.6 353.8H47.6M44.6 328H47.6" stroke="#231f20" stroke-width="0.9" fill="none"/>
<text x="42.5" y="434.57" font-size="9.35" text-anchor="end" textLength="4.68" lengthAdjust="spacingAndGlyphs" stroke="#231f20" stroke-width="0.15">0</text>
<text x="42.5" y="408.77" font-size="9.35" text-anchor="end" textLength="4.68" lengthAdjust="spacingAndGlyphs" stroke="#231f20" stroke-width="0.15">1</text>
<text x="42.5" y="382.97" font-size="9.35" text-anchor="end" textLength="4.68" lengthAdjust="spacingAndGlyphs" stroke="#231f20" stroke-width="0.15">2</text>
<text x="42.5" y="357.17" font-size="9.35" text-anchor="end" textLength="4.68" lengthAdjust="spacingAndGlyphs" stroke="#231f20" stroke-width="0.15">3</text>
<text x="42.5" y="331.37" font-size="9.35" text-anchor="end" textLength="4.68" lengthAdjust="spacingAndGlyphs" stroke="#231f20" stroke-width="0.15">4</text>
<line x1="47.05" y1="431.3" x2="201.9" y2="431.3" stroke="#231f20" stroke-width="1.1"/>
<path d="M71.3 431.3V434.3M106.9 431.3V434.3M142.4 431.3V434.3M178 431.3V434.3" stroke="#231f20" stroke-width="0.9" fill="none"/>
<path d="M61.35 405.9a1.95 1.95 0 1 0 3.9 0a1.95 1.95 0 1 0 -3.9 0M64.35 405.9a1.95 1.95 0 1 0 3.9 0a1.95 1.95 0 1 0 -3.9 0M67.35 405.9a1.95 1.95 0 1 0 3.9 0a1.95 1.95 0 1 0 -3.9 0M70.35 405.9a1.95 1.95 0 1 0 3.9 0a1.95 1.95 0 1 0 -3.9 0M73.35 405.9a1.95 1.95 0 1 0 3.9 0a1.95 1.95 0 1 0 -3.9 0M76.35 405.9a1.95 1.95 0 1 0 3.9 0a1.95 1.95 0 1 0 -3.9 0" fill="#3aa835"/>
<path d="M100.8 368.1H112.8M100.8 396.3H112.8M106.8 368.1V396.3" stroke="#333" stroke-width="1.2" fill="none"/>
<path d="M136.5 376.8H148.5M136.5 401.3H148.5M142.5 376.8V401.3" stroke="#333" stroke-width="1.2" fill="none"/>
<path d="M172.1 398.8H183.7M172.1 406.2H183.7M177.9 398.8V406.2" stroke="#333" stroke-width="1.2" fill="none"/>
<path d="M104.9 372.2h3.8v3.8h-3.8zM98.9 377.6h3.8v3.8h-3.8zM104.9 379h3.8v3.8h-3.8zM111.2 378.3h3.8v3.8h-3.8zM104.9 390.4h3.8v3.8h-3.8zM108.3 394.4h3.8v3.8h-3.8zM101.6 398.2h3.8v3.8h-3.8zM105.2 353.8h3.8v3.8h-3.8z" fill="#164a80"/>
<path d="M140.2 365.33h4.6l-2.3 4.14zM131 381.03h4.6l-2.3 4.14zM137.2 381.53h4.6l-2.3 4.14zM149.2 381.03h4.6l-2.3 4.14zM143.2 385.93h4.6l-2.3 4.14zM134.1 397.23h4.6l-2.3 4.14zM140.2 401.63h4.6l-2.3 4.14zM146.2 399.43h4.6l-2.3 4.14z" fill="#5a1a6a"/>
<path d="M175.95 398.44h4.3l-2.15 -3.87zM166.95 401.94h4.3l-2.15 -3.87zM172.85 405.04h4.3l-2.15 -3.87zM178.75 405.04h4.3l-2.15 -3.87zM184.75 403.83h4.3l-2.15 -3.87zM169.55 406.54h4.3l-2.15 -3.87zM182.05 408.83h4.3l-2.15 -3.87zM175.75 411.54h4.3l-2.15 -3.87z" fill="#d0021b"/>
<path d="M76.7 321.7V325.7M76.7 323.7H182.5M182.5 321.7V325.7" stroke="#231f20" stroke-width="1.2" fill="none"/>
<path d="M111.2 332.5V336.5M111.2 334.5H180.6M180.6 332.5V336.5" stroke="#231f20" stroke-width="1.2" fill="none"/>
<path d="M111.2 344V348M111.2 346H143.5M143.5 344V348" stroke="#231f20" stroke-width="1.2" fill="none"/>
<text x="128.7" y="316.67" font-size="8.8" text-anchor="middle" textLength="10" lengthAdjust="spacingAndGlyphs" stroke="#231f20" stroke-width="0.15">NS</text>
<text x="146.2" y="335.67" font-size="8.8" text-anchor="middle" stroke="#231f20" stroke-width="0.15">**</text>
<text x="127.3" y="346.17" font-size="8.8" text-anchor="middle" stroke="#231f20" stroke-width="0.15">**</text>
<text x="185.5" y="371.07" font-size="8.8" text-anchor="middle" textLength="32.7" lengthAdjust="spacingAndGlyphs" stroke="#231f20" stroke-width="0.15">** P&lt;0.01</text>
<text x="185.2" y="379.67" font-size="8.8" text-anchor="middle" textLength="15.4" lengthAdjust="spacingAndGlyphs" stroke="#231f20" stroke-width="0.15">N=8</text>
<text x="28" y="381.76" font-size="10.45" text-anchor="middle" textLength="76" lengthAdjust="spacingAndGlyphs" stroke="#231f20" stroke-width="0.15" transform="rotate(-90 28 378)">Migration fold change</text>
<text x="73.3" y="443.18" font-size="10.23" text-anchor="end" textLength="51" lengthAdjust="spacingAndGlyphs" stroke="#231f20" stroke-width="0.15" transform="rotate(-45 73.3 439.5)">Unstimulated</text>
<text x="108.9" y="443.18" font-size="10.23" text-anchor="end" textLength="62" lengthAdjust="spacingAndGlyphs" stroke="#231f20" stroke-width="0.15" transform="rotate(-45 108.9 439.5)">ODN stimulated</text>
<text x="143.9" y="443.68" font-size="10.23" text-anchor="end" textLength="68" lengthAdjust="spacingAndGlyphs" stroke="#231f20" stroke-width="0.15" transform="rotate(-45 143.9 440)">ODN stimulated +</text>
<text x="152.5" y="451.18" font-size="10.23" text-anchor="end" textLength="54" lengthAdjust="spacingAndGlyphs" stroke="#231f20" stroke-width="0.15" transform="rotate(-45 152.5 447.5)">sTLR9 blocked</text>
<text x="179.5" y="443.68" font-size="10.23" text-anchor="end" textLength="68" lengthAdjust="spacingAndGlyphs" stroke="#231f20" stroke-width="0.15" transform="rotate(-45 179.5 440)">ODN stimulated +</text>
<text x="188.5" y="451.18" font-size="10.23" text-anchor="end" textLength="49" lengthAdjust="spacingAndGlyphs" stroke="#231f20" stroke-width="0.15" transform="rotate(-45 188.5 447.5)">ODN INH 18</text>
<line x1="271.9" y1="334.8" x2="271.9" y2="431.85" stroke="#231f20" stroke-width="1.1"/>
<path d="M268.9 431.2H271.9M268.9 412.5H271.9M268.9 393.8H271.9M268.9 375.1H271.9M268.9 356.4H271.9M268.9 337.7H271.9" stroke="#231f20" stroke-width="0.9" fill="none"/>
<text x="267" y="434.57" font-size="9.35" text-anchor="end" textLength="11.7" lengthAdjust="spacingAndGlyphs" stroke="#231f20" stroke-width="0.15">0.0</text>
<text x="267" y="415.87" font-size="9.35" text-anchor="end" textLength="11.7" lengthAdjust="spacingAndGlyphs" stroke="#231f20" stroke-width="0.15">0.5</text>
<text x="267" y="397.17" font-size="9.35" text-anchor="end" textLength="11.7" lengthAdjust="spacingAndGlyphs" stroke="#231f20" stroke-width="0.15">1.0</text>
<text x="267" y="378.47" font-size="9.35" text-anchor="end" textLength="11.7" lengthAdjust="spacingAndGlyphs" stroke="#231f20" stroke-width="0.15">1.5</text>
<text x="267" y="359.77" font-size="9.35" text-anchor="end" textLength="11.7" lengthAdjust="spacingAndGlyphs" stroke="#231f20" stroke-width="0.15">2.0</text>
<text x="267" y="341.07" font-size="9.35" text-anchor="end" textLength="11.7" lengthAdjust="spacingAndGlyphs" stroke="#231f20" stroke-width="0.15">2.5</text>
<line x1="271.35" y1="431.3" x2="386.3" y2="431.3" stroke="#231f20" stroke-width="1.1"/>
<path d="M289 431.3V434.3M315.8 431.3V434.3M342.3 431.3V434.3M368.7 431.3V434.3" stroke="#231f20" stroke-width="0.9" fill="none"/>
<line x1="270.8" y1="394" x2="390" y2="394" stroke="#d21a46" stroke-width="1.2" stroke-dasharray="3.3 2.2"/>
<text x="393" y="397.17" font-size="9.35" textLength="44" lengthAdjust="spacingAndGlyphs" fill="#d21a46" stroke="#d21a46" stroke-width="0.15">Resting MFI</text>
<path d="M289 393.8L315.8 345.18L342.3 363.88L368.7 348.92M289 393.8L315.8 363.88L342.3 375.1L368.7 367.62M289 393.8L315.8 375.1L342.3 393.8L368.7 375.1M289 393.8L315.8 378.84L342.3 390.06L368.7 382.58M289 393.8L315.8 375.1L342.3 397.54L368.7 386.32M289 393.8L315.8 378.84L342.3 401.28L368.7 386.32M289 393.8L315.8 386.32L342.3 405.02L368.7 390.06M289 393.8L315.8 386.32L342.3 401.28L368.7 390.06M289 393.8L315.8 390.06L342.3 397.54L368.7 386.32M289 393.8L315.8 390.06L342.3 405.02L368.7 390.06" stroke="#f0890f" stroke-width="1" fill="none" stroke-linejoin="round"/>
<path d="M287.5 393.8a1.5 1.5 0 1 0 3 0a1.5 1.5 0 1 0 -3 0M314.3 345.18a1.5 1.5 0 1 0 3 0a1.5 1.5 0 1 0 -3 0M340.8 363.88a1.5 1.5 0 1 0 3 0a1.5 1.5 0 1 0 -3 0M367.2 348.92a1.5 1.5 0 1 0 3 0a1.5 1.5 0 1 0 -3 0M287.5 393.8a1.5 1.5 0 1 0 3 0a1.5 1.5 0 1 0 -3 0M314.3 363.88a1.5 1.5 0 1 0 3 0a1.5 1.5 0 1 0 -3 0M340.8 375.1a1.5 1.5 0 1 0 3 0a1.5 1.5 0 1 0 -3 0M367.2 367.62a1.5 1.5 0 1 0 3 0a1.5 1.5 0 1 0 -3 0M287.5 393.8a1.5 1.5 0 1 0 3 0a1.5 1.5 0 1 0 -3 0M314.3 375.1a1.5 1.5 0 1 0 3 0a1.5 1.5 0 1 0 -3 0M340.8 393.8a1.5 1.5 0 1 0 3 0a1.5 1.5 0 1 0 -3 0M367.2 375.1a1.5 1.5 0 1 0 3 0a1.5 1.5 0 1 0 -3 0M287.5 393.8a1.5 1.5 0 1 0 3 0a1.5 1.5 0 1 0 -3 0M314.3 378.84a1.5 1.5 0 1 0 3 0a1.5 1.5 0 1 0 -3 0M340.8 390.06a1.5 1.5 0 1 0 3 0a1.5 1.5 0 1 0 -3 0M367.2 382.58a1.5 1.5 0 1 0 3 0a1.5 1.5 0 1 0 -3 0M287.5 393.8a1.5 1.5 0 1 0 3 0a1.5 1.5 0 1 0 -3 0M314.3 375.1a1.5 1.5 0 1 0 3 0a1.5 1.5 0 1 0 -3 0M340.8 397.54a1.5 1.5 0 1 0 3 0a1.5 1.5 0 1 0 -3 0M367.2 386.32a1.5 1.5 0 1 0 3 0a1.5 1.5 0 1 0 -3 0M287.5 393.8a1.5 1.5 0 1 0 3 0a1.5 1.5 0 1 0 -3 0M314.3 378.84a1.5 1.5 0 1 0 3 0a1.5 1.5 0 1 0 -3 0M340.8 401.28a1.5 1.5 0 1 0 3 0a1.5 1.5 0 1 0 -3 0M367.2 386.32a1.5 1.5 0 1 0 3 0a1.5 1.5 0 1 0 -3 0M287.5 393.8a1.5 1.5 0 1 0 3 0a1.5 1.5 0 1 0 -3 0M314.3 386.32a1.5 1.5 0 1 0 3 0a1.5 1.5 0 1 0 -3 0M340.8 405.02a1.5 1.5 0 1 0 3 0a1.5 1.5 0 1 0 -3 0M367.2 390.06a1.5 1.5 0 1 0 3 0a1.5 1.5 0 1 0 -3 0M287.5 393.8a1.5 1.5 0 1 0 3 0a1.5 1.5 0 1 0 -3 0M314.3 386.32a1.5 1.5 0 1 0 3 0a1.5 1.5 0 1 0 -3 0M340.8 401.28a1.5 1.5 0 1 0 3 0a1.5 1.5 0 1 0 -3 0M367.2 390.06a1.5 1.5 0 1 0 3 0a1.5 1.5 0 1 0 -3 0M287.5 393.8a1.5 1.5 0 1 0 3 0a1.5 1.5 0 1 0 -3 0M314.3 390.06a1.5 1.5 0 1 0 3 0a1.5 1.5 0 1 0 -3 0M340.8 397.54a1.5 1.5 0 1 0 3 0a1.5 1.5 0 1 0 -3 0M367.2 386.32a1.5 1.5 0 1 0 3 0a1.5 1.5 0 1 0 -3 0M287.5 393.8a1.5 1.5 0 1 0 3 0a1.5 1.5 0 1 0 -3 0M314.3 390.06a1.5 1.5 0 1 0 3 0a1.5 1.5 0 1 0 -3 0M340.8 405.02a1.5 1.5 0 1 0 3 0a1.5 1.5 0 1 0 -3 0M367.2 390.06a1.5 1.5 0 1 0 3 0a1.5 1.5 0 1 0 -3 0" fill="#f0890f"/>
<path d="M316.2 326.5V330.5M316.2 328.5H372.8M372.8 326.5V330.5" stroke="#231f20" stroke-width="1.2" fill="none"/>
<path d="M316.2 338.5V342.5M316.2 340.5H344.2M344.2 338.5V342.5" stroke="#231f20" stroke-width="1.2" fill="none"/>
<text x="344.6" y="327.97" font-size="8.8" text-anchor="middle" stroke="#231f20" stroke-width="0.15">*</text>
<text x="330.3" y="341.37" font-size="8.8" text-anchor="middle" stroke="#231f20" stroke-width="0.15">**</text>
<text x="376.9" y="364.17" font-size="8.8" text-anchor="middle" stroke="#231f20" stroke-width="0.15">*</text>
<text x="383.5" y="362.97" font-size="8.8" textLength="23.6" lengthAdjust="spacingAndGlyphs" stroke="#231f20" stroke-width="0.15">P&lt;0.05</text>
<text x="376.3" y="372.17" font-size="8.8" textLength="29.9" lengthAdjust="spacingAndGlyphs" stroke="#231f20" stroke-width="0.15">**P&lt;0.01</text>
<text x="381.7" y="381.27" font-size="8.8" textLength="19.3" lengthAdjust="spacingAndGlyphs" stroke="#231f20" stroke-width="0.15">N=10</text>
<text x="234.8" y="387.08" font-size="10.78" text-anchor="middle" textLength="99" lengthAdjust="spacingAndGlyphs" stroke="#231f20" stroke-width="0.15" transform="rotate(-90 234.8 383.2)">p-p65 NFkB MFI fold change</text>
<text x="245.3" y="387.08" font-size="10.78" text-anchor="middle" textLength="42" lengthAdjust="spacingAndGlyphs" stroke="#231f20" stroke-width="0.15" transform="rotate(-90 245.3 383.2)">from resting</text>
<text x="290.5" y="443.68" font-size="10.23" text-anchor="end" textLength="30" lengthAdjust="spacingAndGlyphs" stroke="#231f20" stroke-width="0.15" transform="rotate(-45 290.5 440)">Resting</text>
<text x="316.8" y="443.68" font-size="10.23" text-anchor="end" textLength="68" lengthAdjust="spacingAndGlyphs" stroke="#231f20" stroke-width="0.15" transform="rotate(-45 316.8 440)">Plasma stimulated</text>
<text x="342" y="444.18" font-size="10.23" text-anchor="end" textLength="73" lengthAdjust="spacingAndGlyphs" stroke="#231f20" stroke-width="0.15" transform="rotate(-45 342 440.5)">Plasma stimulated +</text>
<text x="350" y="451.18" font-size="10.23" text-anchor="end" textLength="46" lengthAdjust="spacingAndGlyphs" stroke="#231f20" stroke-width="0.15" transform="rotate(-45 350 447.5)">ODN INH18</text>
<text x="368.5" y="444.18" font-size="10.23" text-anchor="end" textLength="73" lengthAdjust="spacingAndGlyphs" stroke="#231f20" stroke-width="0.15" transform="rotate(-45 368.5 440.5)">Plasma stimulated +</text>
<text x="376.5" y="451.18" font-size="10.23" text-anchor="end" textLength="54" lengthAdjust="spacingAndGlyphs" stroke="#231f20" stroke-width="0.15" transform="rotate(-45 376.5 447.5)">sTLR9 blocked</text>
<line x1="59.7" y1="530.2" x2="59.7" y2="629.35" stroke="#231f20" stroke-width="1.1"/>
<path d="M56.7 629.1H59.7M56.7 597.1H59.7M56.7 565.1H59.7M56.7 533.1H59.7" stroke="#231f20" stroke-width="0.9" fill="none"/>
<text x="55" y="632.47" font-size="9.35" text-anchor="end" textLength="4.68" lengthAdjust="spacingAndGlyphs" stroke="#231f20" stroke-width="0.15">0</text>
<text x="55" y="600.47" font-size="9.35" text-anchor="end" textLength="4.68" lengthAdjust="spacingAndGlyphs" stroke="#231f20" stroke-width="0.15">1</text>
<text x="55" y="568.47" font-size="9.35" text-anchor="end" textLength="4.68" lengthAdjust="spacingAndGlyphs" stroke="#231f20" stroke-width="0.15">2</text>
<text x="55" y="536.47" font-size="9.35" text-anchor="end" textLength="4.68" lengthAdjust="spacingAndGlyphs" stroke="#231f20" stroke-width="0.15">3</text>
<line x1="59.15" y1="628.8" x2="176.3" y2="628.8" stroke="#231f20" stroke-width="1.1"/>
<path d="M77.3 628.8V631.8M104.4 628.8V631.8M131.3 628.8V631.8M158.3 628.8V631.8" stroke="#231f20" stroke-width="0.9" fill="none"/>
<line x1="58.7" y1="597.4" x2="168" y2="597.4" stroke="#d21a46" stroke-width="1.2" stroke-dasharray="3 2.32"/>
<text x="172" y="600.17" font-size="9.35" textLength="40.5" lengthAdjust="spacingAndGlyphs" fill="#d21a46" stroke="#d21a46" stroke-width="0.15">Resting MFI</text>
<path d="M77.3 597.1L104.4 552.3L131.3 571.5L158.3 552.3M77.3 597.1L104.4 554.54L131.3 593.9L158.3 565.1M77.3 597.1L104.4 556.14L131.3 593.9L158.3 566.7M77.3 597.1L104.4 558.06L131.3 593.9L158.3 568.62M77.3 597.1L104.4 568.3L131.3 593.9L158.3 571.5M77.3 597.1L104.4 580.46L131.3 601.26L158.3 589.1M77.3 597.1L104.4 582.7L131.3 596.46L158.3 587.18M77.3 597.1L104.4 584.62L131.3 609.9L158.3 593.26M77.3 597.1L104.4 586.54L131.3 599.02L158.3 597.1M77.3 597.1L104.4 588.14L131.3 605.42L158.3 591.02M77.3 597.1L104.4 590.7L131.3 603.5L158.3 595.18M77.3 597.1L104.4 589.1L131.3 607.34L158.3 597.1" stroke="#f0890f" stroke-width="1" fill="none" stroke-linejoin="round"/>
<path d="M75.95 597.1a1.35 1.35 0 1 0 2.7 0a1.35 1.35 0 1 0 -2.7 0M103.05 552.3a1.35 1.35 0 1 0 2.7 0a1.35 1.35 0 1 0 -2.7 0M129.95 571.5a1.35 1.35 0 1 0 2.7 0a1.35 1.35 0 1 0 -2.7 0M156.95 552.3a1.35 1.35 0 1 0 2.7 0a1.35 1.35 0 1 0 -2.7 0M75.95 597.1a1.35 1.35 0 1 0 2.7 0a1.35 1.35 0 1 0 -2.7 0M103.05 554.54a1.35 1.35 0 1 0 2.7 0a1.35 1.35 0 1 0 -2.7 0M129.95 593.9a1.35 1.35 0 1 0 2.7 0a1.35 1.35 0 1 0 -2.7 0M156.95 565.1a1.35 1.35 0 1 0 2.7 0a1.35 1.35 0 1 0 -2.7 0M75.95 597.1a1.35 1.35 0 1 0 2.7 0a1.35 1.35 0 1 0 -2.7 0M103.05 556.14a1.35 1.35 0 1 0 2.7 0a1.35 1.35 0 1 0 -2.7 0M129.95 593.9a1.35 1.35 0 1 0 2.7 0a1.35 1.35 0 1 0 -2.7 0M156.95 566.7a1.35 1.35 0 1 0 2.7 0a1.35 1.35 0 1 0 -2.7 0M75.95 597.1a1.35 1.35 0 1 0 2.7 0a1.35 1.35 0 1 0 -2.7 0M103.05 558.06a1.35 1.35 0 1 0 2.7 0a1.35 1.35 0 1 0 -2.7 0M129.95 593.9a1.35 1.35 0 1 0 2.7 0a1.35 1.35 0 1 0 -2.7 0M156.95 568.62a1.35 1.35 0 1 0 2.7 0a1.35 1.35 0 1 0 -2.7 0M75.95 597.1a1.35 1.35 0 1 0 2.7 0a1.35 1.35 0 1 0 -2.7 0M103.05 568.3a1.35 1.35 0 1 0 2.7 0a1.35 1.35 0 1 0 -2.7 0M129.95 593.9a1.35 1.35 0 1 0 2.7 0a1.35 1.35 0 1 0 -2.7 0M156.95 571.5a1.35 1.35 0 1 0 2.7 0a1.35 1.35 0 1 0 -2.7 0M75.95 597.1a1.35 1.35 0 1 0 2.7 0a1.35 1.35 0 1 0 -2.7 0M103.05 580.46a1.35 1.35 0 1 0 2.7 0a1.35 1.35 0 1 0 -2.7 0M129.95 601.26a1.35 1.35 0 1 0 2.7 0a1.35 1.35 0 1 0 -2.7 0M156.95 589.1a1.35 1.35 0 1 0 2.7 0a1.35 1.35 0 1 0 -2.7 0M75.95 597.1a1.35 1.35 0 1 0 2.7 0a1.35 1.35 0 1 0 -2.7 0M103.05 582.7a1.35 1.35 0 1 0 2.7 0a1.35 1.35 0 1 0 -2.7 0M129.95 596.46a1.35 1.35 0 1 0 2.7 0a1.35 1.35 0 1 0 -2.7 0M156.95 587.18a1.35 1.35 0 1 0 2.7 0a1.35 1.35 0 1 0 -2.7 0M75.95 597.1a1.35 1.35 0 1 0 2.7 0a1.35 1.35 0 1 0 -2.7 0M103.05 584.62a1.35 1.35 0 1 0 2.7 0a1.35 1.35 0 1 0 -2.7 0M129.95 609.9a1.35 1.35 0 1 0 2.7 0a1.35 1.35 0 1 0 -2.7 0M156.95 593.26a1.35 1.35 0 1 0 2.7 0a1.35 1.35 0 1 0 -2.7 0M75.95 597.1a1.35 1.35 0 1 0 2.7 0a1.35 1.35 0 1 0 -2.7 0M103.05 586.54a1.35 1.35 0 1 0 2.7 0a1.35 1.35 0 1 0 -2.7 0M129.95 599.02a1.35 1.35 0 1 0 2.7 0a1.35 1.35 0 1 0 -2.7 0M156.95 597.1a1.35 1.35 0 1 0 2.7 0a1.35 1.35 0 1 0 -2.7 0M75.95 597.1a1.35 1.35 0 1 0 2.7 0a1.35 1.35 0 1 0 -2.7 0M103.05 588.14a1.35 1.35 0 1 0 2.7 0a1.35 1.35 0 1 0 -2.7 0M129.95 605.42a1.35 1.35 0 1 0 2.7 0a1.35 1.35 0 1 0 -2.7 0M156.95 591.02a1.35 1.35 0 1 0 2.7 0a1.35 1.35 0 1 0 -2.7 0M75.95 597.1a1.35 1.35 0 1 0 2.7 0a1.35 1.35 0 1 0 -2.7 0M103.05 590.7a1.35 1.35 0 1 0 2.7 0a1.35 1.35 0 1 0 -2.7 0M129.95 603.5a1.35 1.35 0 1 0 2.7 0a1.35 1.35 0 1 0 -2.7 0M156.95 595.18a1.35 1.35 0 1 0 2.7 0a1.35 1.35 0 1 0 -2.7 0M75.95 597.1a1.35 1.35 0 1 0 2.7 0a1.35 1.35 0 1 0 -2.7 0M103.05 589.1a1.35 1.35 0 1 0 2.7 0a1.35 1.35 0 1 0 -2.7 0M129.95 607.34a1.35 1.35 0 1 0 2.7 0a1.35 1.35 0 1 0 -2.7 0M156.95 597.1a1.35 1.35 0 1 0 2.7 0a1.35 1.35 0 1 0 -2.7 0" fill="#f0890f"/>
<path d="M106.8 525V529M106.8 527H159.5M159.5 525V529" stroke="#231f20" stroke-width="1.2" fill="none"/>
<path d="M106.8 538.5V542.5M106.8 540.5H133.3M133.3 538.5V542.5" stroke="#231f20" stroke-width="1.2" fill="none"/>
<text x="133" y="527.67" font-size="8.8" text-anchor="middle" stroke="#231f20" stroke-width="0.15">**</text>
<text x="120" y="540.67" font-size="8.8" text-anchor="middle" stroke="#231f20" stroke-width="0.15">****</text>
<text x="177.5" y="564.47" font-size="8.8" textLength="6" lengthAdjust="spacingAndGlyphs" stroke="#231f20" stroke-width="0.15">**</text>
<text x="188.3" y="564.47" font-size="8.8" textLength="24.3" lengthAdjust="spacingAndGlyphs" stroke="#231f20" stroke-width="0.15">P&lt;0.01</text>
<text x="171.3" y="573.67" font-size="8.8" textLength="47.5" lengthAdjust="spacingAndGlyphs" stroke="#231f20" stroke-width="0.15">**** P&lt;0.0001</text>
<text x="185" y="583.17" font-size="8.8" textLength="20" lengthAdjust="spacingAndGlyphs" stroke="#231f20" stroke-width="0.15">N=12</text>
<text x="28.6" y="583.16" font-size="10.45" text-anchor="middle" textLength="82.8" lengthAdjust="spacingAndGlyphs" stroke="#231f20" stroke-width="0.15" transform="rotate(-90 28.6 579.4)">pSTAT3 MFI fold change</text>
<text x="39.6" y="583.16" font-size="10.45" text-anchor="middle" textLength="42" lengthAdjust="spacingAndGlyphs" stroke="#231f20" stroke-width="0.15" transform="rotate(-90 39.6 579.4)">from resting</text>
<text x="78.8" y="640.68" font-size="10.23" text-anchor="end" textLength="30" lengthAdjust="spacingAndGlyphs" stroke="#231f20" stroke-width="0.15" transform="rotate(-45 78.8 637)">Resting</text>
<text x="105.4" y="640.68" font-size="10.23" text-anchor="end" textLength="68" lengthAdjust="spacingAndGlyphs" stroke="#231f20" stroke-width="0.15" transform="rotate(-45 105.4 637)">Plasma stimulated</text>
<text x="131.5" y="641.18" font-size="10.23" text-anchor="end" textLength="73" lengthAdjust="spacingAndGlyphs" stroke="#231f20" stroke-width="0.15" transform="rotate(-45 131.5 637.5)">Plasma stimulated +</text>
<text x="139.5" y="648.18" font-size="10.23" text-anchor="end" textLength="46" lengthAdjust="spacingAndGlyphs" stroke="#231f20" stroke-width="0.15" transform="rotate(-45 139.5 644.5)">ODN INH18</text>
<text x="158.5" y="641.18" font-size="10.23" text-anchor="end" textLength="73" lengthAdjust="spacingAndGlyphs" stroke="#231f20" stroke-width="0.15" transform="rotate(-45 158.5 637.5)">Plasma stimulated +</text>
<text x="166.5" y="648.18" font-size="10.23" text-anchor="end" textLength="54" lengthAdjust="spacingAndGlyphs" stroke="#231f20" stroke-width="0.15" transform="rotate(-45 166.5 644.5)">sTLR9 blocked</text>
<line x1="282.6" y1="520" x2="282.6" y2="629.55" stroke="#231f20" stroke-width="1.1"/>
<path d="M279.6 628.9H282.6M279.6 602.35H282.6M279.6 575.8H282.6M279.6 549.25H282.6M279.6 522.7H282.6" stroke="#231f20" stroke-width="0.9" fill="none"/>
<text x="277.5" y="632.27" font-size="9.35" text-anchor="end" textLength="4.68" lengthAdjust="spacingAndGlyphs" stroke="#231f20" stroke-width="0.15">0</text>
<text x="277.5" y="605.72" font-size="9.35" text-anchor="end" textLength="18.71" lengthAdjust="spacingAndGlyphs" stroke="#231f20" stroke-width="0.15">1000</text>
<text x="277.5" y="579.17" font-size="9.35" text-anchor="end" textLength="18.71" lengthAdjust="spacingAndGlyphs" stroke="#231f20" stroke-width="0.15">2000</text>
<text x="277.5" y="552.62" font-size="9.35" text-anchor="end" textLength="18.71" lengthAdjust="spacingAndGlyphs" stroke="#231f20" stroke-width="0.15">3000</text>
<text x="277.5" y="526.07" font-size="9.35" text-anchor="end" textLength="18.71" lengthAdjust="spacingAndGlyphs" stroke="#231f20" stroke-width="0.15">4000</text>
<line x1="282.05" y1="629" x2="445" y2="629" stroke="#231f20" stroke-width="1.1"/>
<path d="M282.6 629V632M314.58 629V632M346.55 629V632M378.53 629V632M410.5 629V632M442.48 629V632" stroke="#231f20" stroke-width="0.9" fill="none"/>
<text x="282.6" y="642.87" font-size="9.35" text-anchor="middle" textLength="4.68" lengthAdjust="spacingAndGlyphs" stroke="#231f20" stroke-width="0.15">0</text>
<text x="314.58" y="642.87" font-size="9.35" text-anchor="middle" textLength="9.36" lengthAdjust="spacingAndGlyphs" stroke="#231f20" stroke-width="0.15">50</text>
<text x="346.55" y="642.87" font-size="9.35" text-anchor="middle" textLength="14.04" lengthAdjust="spacingAndGlyphs" stroke="#231f20" stroke-width="0.15">100</text>
<text x="378.53" y="642.87" font-size="9.35" text-anchor="middle" textLength="14.04" lengthAdjust="spacingAndGlyphs" stroke="#231f20" stroke-width="0.15">150</text>
<text x="410.5" y="642.87" font-size="9.35" text-anchor="middle" textLength="14.04" lengthAdjust="spacingAndGlyphs" stroke="#231f20" stroke-width="0.15">200</text>
<text x="442.48" y="642.87" font-size="9.35" text-anchor="middle" textLength="14.04" lengthAdjust="spacingAndGlyphs" stroke="#231f20" stroke-width="0.15">250</text>
<text x="364.1" y="656.26" font-size="10.45" text-anchor="middle" textLength="34" lengthAdjust="spacingAndGlyphs" stroke="#231f20" stroke-width="0.15">sTLR9 MFI</text>
<text x="249.6" y="577.76" font-size="10.45" text-anchor="middle" textLength="34.5" lengthAdjust="spacingAndGlyphs" stroke="#231f20" stroke-width="0.15" transform="rotate(-90 249.6 574)">eTLR9 MFI</text>
<line x1="285.8" y1="625.71" x2="420.09" y2="554.4" stroke="#f0890f" stroke-width="1.1"/>
<path d="M418.3 547.5a2.2 2.2 0 1 0 4.4 0a2.2 2.2 0 1 0 -4.4 0M374.05 553.25a2.2 2.2 0 1 0 4.4 0a2.2 2.2 0 1 0 -4.4 0M377.8 561.75a2.2 2.2 0 1 0 4.4 0a2.2 2.2 0 1 0 -4.4 0M399.55 570.75a2.2 2.2 0 1 0 4.4 0a2.2 2.2 0 1 0 -4.4 0M396.8 576.25a2.2 2.2 0 1 0 4.4 0a2.2 2.2 0 1 0 -4.4 0M378.55 579.25a2.2 2.2 0 1 0 4.4 0a2.2 2.2 0 1 0 -4.4 0M364.05 575a2.2 2.2 0 1 0 4.4 0a2.2 2.2 0 1 0 -4.4 0M361.05 579.5a2.2 2.2 0 1 0 4.4 0a2.2 2.2 0 1 0 -4.4 0M367.8 585a2.2 2.2 0 1 0 4.4 0a2.2 2.2 0 1 0 -4.4 0M345.8 590.75a2.2 2.2 0 1 0 4.4 0a2.2 2.2 0 1 0 -4.4 0M342.8 593.75a2.2 2.2 0 1 0 4.4 0a2.2 2.2 0 1 0 -4.4 0M353.55 593a2.2 2.2 0 1 0 4.4 0a2.2 2.2 0 1 0 -4.4 0M352.3 595.5a2.2 2.2 0 1 0 4.4 0a2.2 2.2 0 1 0 -4.4 0M336.55 600.5a2.2 2.2 0 1 0 4.4 0a2.2 2.2 0 1 0 -4.4 0M344.8 608a2.2 2.2 0 1 0 4.4 0a2.2 2.2 0 1 0 -4.4 0M344.05 613a2.2 2.2 0 1 0 4.4 0a2.2 2.2 0 1 0 -4.4 0M283.2 621.5a2.2 2.2 0 1 0 4.4 0a2.2 2.2 0 1 0 -4.4 0M283.9 624.5a2.2 2.2 0 1 0 4.4 0a2.2 2.2 0 1 0 -4.4 0M307.4 615.1a2.2 2.2 0 1 0 4.4 0a2.2 2.2 0 1 0 -4.4 0M316.6 613.5a2.2 2.2 0 1 0 4.4 0a2.2 2.2 0 1 0 -4.4 0M315.5 601.9a2.2 2.2 0 1 0 4.4 0a2.2 2.2 0 1 0 -4.4 0M317.8 603.8a2.2 2.2 0 1 0 4.4 0a2.2 2.2 0 1 0 -4.4 0M316.6 608.4a2.2 2.2 0 1 0 4.4 0a2.2 2.2 0 1 0 -4.4 0M319 598.5a2.2 2.2 0 1 0 4.4 0a2.2 2.2 0 1 0 -4.4 0M322.4 597.3a2.2 2.2 0 1 0 4.4 0a2.2 2.2 0 1 0 -4.4 0M322.4 600.1a2.2 2.2 0 1 0 4.4 0a2.2 2.2 0 1 0 -4.4 0M321.3 608.4a2.2 2.2 0 1 0 4.4 0a2.2 2.2 0 1 0 -4.4 0M336.3 600.3a2.2 2.2 0 1 0 4.4 0a2.2 2.2 0 1 0 -4.4 0M342 593.8a2.2 2.2 0 1 0 4.4 0a2.2 2.2 0 1 0 -4.4 0M345.5 591.5a2.2 2.2 0 1 0 4.4 0a2.2 2.2 0 1 0 -4.4 0" fill="#f0890f"/>
<text x="416.3" y="578.97" font-size="8.8" textLength="36" lengthAdjust="spacingAndGlyphs" stroke="#231f20" stroke-width="0.15">P &lt; 0.0001</text>
<text x="416.3" y="588.17" font-size="8.8" textLength="27" lengthAdjust="spacingAndGlyphs" stroke="#231f20" stroke-width="0.15">r = 0.90</text>
<text x="416.3" y="596.97" font-size="8.8" textLength="23.5" lengthAdjust="spacingAndGlyphs" stroke="#231f20" stroke-width="0.15">N = 30</text>
</g>
<rect x="0.5" y="0.5" width="519" height="706" fill="none" stroke="#000" stroke-width="1.1"/>
</svg></body></html>
